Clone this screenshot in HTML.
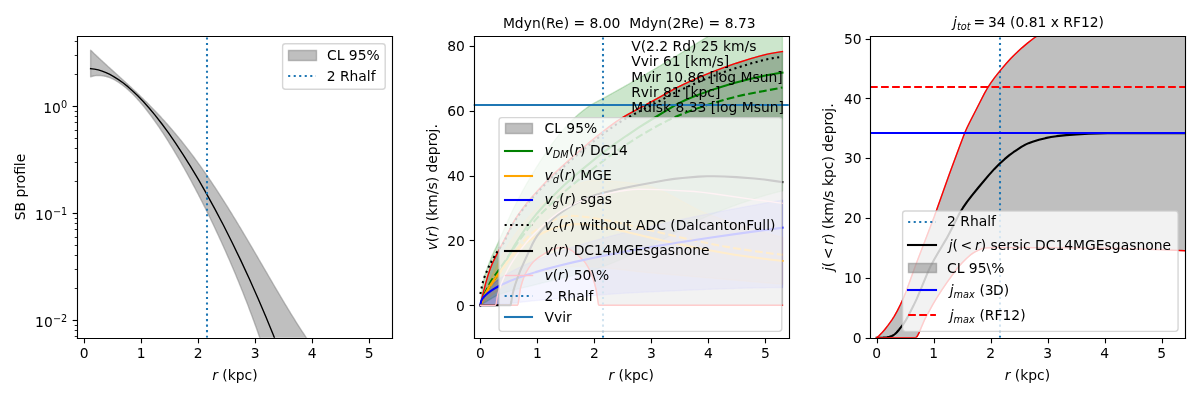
<!DOCTYPE html>
<html lang="en"><head><meta charset="utf-8"><title>SB profile, v(r) and j(&lt;r) figure</title>
<style>
html,body{margin:0;padding:0;background:#fff;}
body{width:1200px;height:400px;overflow:hidden;font-family:"DejaVu Sans","Liberation Sans",sans-serif;}
svg{display:block;will-change:transform;}
svg text{white-space:pre;}
</style>
</head><body>
<svg width="1200" height="400" viewBox="0 0 864 288" role="img" aria-label="SB profile, v(r) and j(r) panels">
<defs>
<style type="text/css">*{stroke-linejoin: round; stroke-linecap: butt}</style>
</defs>
<g id="figure_1">
<g id="patch_1">
<path d="M 0 288 L 864 288 L 864 0 L 0 0 z" style="fill: #ffffff"/>
</g>
<g id="axes_1">
<g id="patch_2">
<path d="M 55.7712 243.1584 L 282.5712 243.1584 L 282.5712 26.1576 L 55.7712 26.1576 z" style="fill: #ffffff"/>
</g>
<g id="FillBetweenPolyCollection_1">
<path d="M 65.2428 36.121689 L 65.2428 55.266722 L 65.935264 55.054046 L 66.627728 54.869644 L 67.320193 54.713119 L 68.012657 54.58408 L 68.705121 54.482139 L 69.397585 54.40691 L 70.090049 54.358013 L 70.782514 54.335072 L 71.474978 54.337711 L 72.167442 54.365563 L 72.859906 54.41826 L 73.552371 54.495441 L 74.244835 54.596746 L 74.937299 54.721822 L 75.629763 54.870317 L 76.322227 55.041883 L 77.014692 55.236177 L 77.707156 55.452859 L 78.39962 55.691592 L 79.092084 55.952044 L 79.784548 56.233887 L 80.477013 56.536794 L 81.169477 56.860445 L 81.861941 57.204522 L 82.554405 57.56871 L 83.24687 57.952701 L 83.939334 58.356186 L 84.631798 58.778863 L 85.324262 59.220433 L 86.016726 59.680601 L 86.709191 60.159075 L 87.401655 60.655566 L 88.094119 61.169791 L 88.786583 61.701469 L 89.479047 62.250324 L 90.171512 62.816081 L 90.863976 63.398472 L 91.55644 63.99723 L 92.248904 64.612095 L 92.941369 65.242807 L 93.633833 65.889112 L 94.326297 66.550759 L 95.018761 67.227501 L 95.711225 67.919095 L 96.40369 68.625301 L 97.096154 69.345882 L 97.788618 70.080607 L 98.481082 70.829247 L 99.173546 71.591577 L 99.866011 72.367377 L 100.558475 73.156427 L 101.250939 73.958516 L 101.943403 74.773432 L 102.635868 75.60097 L 103.328332 76.440927 L 104.020796 77.293104 L 104.71326 78.157306 L 105.405724 79.033341 L 106.098189 79.921022 L 106.790653 80.820165 L 107.483117 81.73059 L 108.175581 82.652119 L 108.868045 83.584581 L 109.56051 84.527805 L 110.252974 85.481627 L 110.945438 86.445885 L 111.637902 87.42042 L 112.330367 88.405079 L 113.022831 89.39971 L 113.715295 90.404168 L 114.407759 91.418309 L 115.100223 92.441993 L 115.792688 93.475084 L 116.485152 94.517452 L 117.177616 95.568967 L 117.87008 96.629504 L 118.562544 97.698944 L 119.255009 98.777168 L 119.947473 99.864064 L 120.639937 100.959521 L 121.332401 102.063434 L 122.024866 103.1757 L 122.71733 104.296221 L 123.409794 105.424902 L 124.102258 106.561652 L 124.794722 107.706383 L 125.487187 108.859011 L 126.179651 110.019457 L 126.872115 111.187644 L 127.564579 112.3635 L 128.257043 113.546956 L 128.949508 114.737946 L 129.641972 115.936409 L 130.334436 117.142288 L 131.0269 118.355529 L 131.719365 119.57608 L 132.411829 120.803896 L 133.104293 122.038934 L 133.796757 123.281154 L 134.489221 124.530522 L 135.181686 125.787004 L 135.87415 127.050574 L 136.566614 128.321207 L 137.259078 129.598883 L 137.951542 130.883584 L 138.644007 132.175297 L 139.336471 133.474014 L 140.028935 134.779728 L 140.721399 136.092437 L 141.413864 137.412142 L 142.106328 138.73885 L 142.798792 140.07257 L 143.491256 141.413314 L 144.18372 142.761099 L 144.876185 144.115944 L 145.568649 145.477875 L 146.261113 146.846919 L 146.953577 148.223107 L 147.646041 149.606474 L 148.338506 150.997059 L 149.03097 152.394906 L 149.723434 153.800058 L 150.415898 155.212568 L 151.108363 156.632489 L 151.800827 158.059878 L 152.493291 159.494795 L 153.185755 160.937307 L 153.878219 162.387481 L 154.570684 163.845391 L 155.263148 165.31111 L 155.955612 166.784721 L 156.648076 168.266305 L 157.34054 169.75595 L 158.033005 171.253747 L 158.725469 172.759791 L 159.417933 174.274179 L 160.110397 175.797014 L 160.802862 177.328401 L 161.495326 178.86845 L 162.18779 180.417273 L 162.880254 181.974988 L 163.572718 183.541716 L 164.265183 185.11758 L 164.957647 186.702708 L 165.650111 188.297233 L 166.342575 189.901289 L 167.035039 191.515015 L 167.727504 193.138555 L 168.419968 194.772055 L 169.112432 196.415666 L 169.804896 198.069541 L 170.497361 199.733837 L 171.189825 201.408717 L 171.882289 203.094345 L 172.574753 204.790891 L 173.267217 206.498526 L 173.959682 208.217428 L 174.652146 209.947775 L 175.34461 211.689753 L 176.037074 213.443547 L 176.729538 215.20935 L 177.422003 216.987355 L 178.114467 218.777763 L 178.806931 220.580774 L 179.499395 222.396595 L 180.19186 224.225435 L 180.884324 226.067508 L 181.576788 227.923032 L 182.269252 229.792226 L 182.961716 231.675316 L 183.654181 233.572529 L 184.346645 235.484098 L 185.039109 237.410258 L 185.731573 239.351248 L 186.424037 241.307313 L 187.116502 243.278698 L 187.808966 245.265654 L 188.50143 247.268436 L 189.193894 249.287301 L 189.886359 251.322511 L 190.578823 253.374331 L 191.271287 255.443031 L 191.963751 257.528883 L 192.656215 259.632165 L 193.34868 261.753155 L 194.041144 263.892138 L 194.733608 266.049402 L 195.426072 268.225239 L 196.118536 270.419942 L 196.811001 272.633812 L 197.503465 274.86715 L 198.195929 277.120264 L 198.888393 279.393462 L 199.580858 281.687058 L 200.273322 284.001371 L 200.965786 286.33672 L 201.65825 288.693431 L 202.350714 291.071833 L 203.043179 293.472257 L 203.735643 295.89504 L 204.428107 298.340521 L 205.120571 300.809043 L 205.813035 303.300955 L 206.5055 305.816605 L 207.197964 308.35635 L 207.890428 310.920548 L 208.582892 313.509559 L 209.275357 316.12375 L 209.967821 318.763491 L 210.660285 321.429154 L 211.352749 324.121116 L 212.045213 326.839759 L 212.737678 329.585465 L 213.430142 332.358623 L 214.122606 335.159624 L 214.81507 337.988865 L 215.507534 340.846744 L 216.199999 343.733664 L 216.892463 346.650031 L 217.584927 349.596256 L 218.277391 352.572752 L 218.969856 355.579938 L 219.66232 358.618234 L 220.354784 361.688067 L 221.047248 364.789864 L 221.739712 367.924058 L 222.432177 371.091085 L 223.124641 374.291386 L 223.817105 377.525403 L 224.509569 380.793586 L 225.202033 384.096383 L 225.894498 387.434251 L 226.586962 390.807647 L 227.279426 394.217035 L 227.97189 397.662879 L 228.664355 401.145651 L 229.356819 404.665822 L 230.049283 408.22387 L 230.741747 411.820276 L 231.434211 415.455525 L 232.126676 419.130104 L 232.81914 422.844506 L 233.511604 426.599227 L 234.204068 430.394765 L 234.896532 434.231623 L 235.588997 438.110309 L 236.281461 442.031334 L 236.973925 445.99521 L 237.666389 450.002457 L 238.358854 454.053596 L 239.051318 458.149152 L 239.743782 462.289655 L 240.436246 466.475636 L 241.12871 470.707634 L 241.821175 474.986187 L 242.513639 479.31184 L 243.206103 483.685141 L 243.898567 488.106641 L 244.591031 492.576894 L 245.283496 497.096461 L 245.97596 501.665902 L 246.668424 506.285786 L 247.360888 510.956681 L 248.053353 515.679161 L 248.745817 520.453803 L 249.438281 525.281189 L 250.130745 530.161904 L 250.823209 535.096535 L 251.515674 540.085676 L 252.208138 545.129921 L 252.900602 550.229872 L 253.593066 555.38613 L 254.28553 560.599304 L 254.977995 565.870004 L 255.670459 571.198844 L 256.362923 576.586443 L 257.055387 582.033423 L 257.747852 587.540409 L 258.440316 593.10803 L 259.13278 598.736921 L 259.825244 604.427717 L 260.517708 610.181059 L 261.210173 615.997591 L 261.902637 621.877962 L 262.595101 627.822823 L 263.287565 633.832829 L 263.980029 639.908639 L 264.672494 646.050916 L 265.364958 652.260327 L 266.057422 658.537542 L 266.749886 664.883235 L 267.442351 671.298083 L 268.134815 677.782768 L 268.827279 684.337975 L 269.519743 690.964393 L 270.212207 697.662714 L 270.904672 704.433634 L 271.597136 711.277853 L 272.2896 718.196076 L 272.2896 278.620225 L 272.2896 278.620225 L 271.597136 278.953659 L 270.904672 279.257205 L 270.212207 279.531224 L 269.519743 279.776077 L 268.827279 279.992122 L 268.134815 280.179715 L 267.442351 280.33921 L 266.749886 280.470961 L 266.057422 280.575317 L 265.364958 280.652628 L 264.672494 280.70324 L 263.980029 280.727499 L 263.287565 280.725749 L 262.595101 280.698329 L 261.902637 280.645581 L 261.210173 280.567841 L 260.517708 280.465446 L 259.825244 280.33873 L 259.13278 280.188024 L 258.440316 280.013659 L 257.747852 279.815963 L 257.055387 279.595263 L 256.362923 279.351884 L 255.670459 279.086148 L 254.977995 278.798377 L 254.28553 278.488889 L 253.593066 278.158002 L 252.900602 277.806031 L 252.208138 277.43329 L 251.515674 277.04009 L 250.823209 276.626741 L 250.130745 276.193551 L 249.438281 275.740826 L 248.745817 275.268871 L 248.053353 274.777988 L 247.360888 274.268478 L 246.668424 273.740638 L 245.97596 273.194766 L 245.283496 272.631157 L 244.591031 272.050104 L 243.898567 271.451898 L 243.206103 270.836828 L 242.513639 270.205183 L 241.821175 269.557247 L 241.12871 268.893305 L 240.436246 268.213638 L 239.743782 267.518527 L 239.051318 266.808249 L 238.358854 266.083081 L 237.666389 265.343298 L 236.973925 264.589172 L 236.281461 263.820974 L 235.588997 263.038974 L 234.896532 262.243437 L 234.204068 261.434629 L 233.511604 260.612814 L 232.81914 259.778253 L 232.126676 258.931205 L 231.434211 258.071929 L 230.741747 257.200681 L 230.049283 256.317713 L 229.356819 255.42328 L 228.664355 254.51763 L 227.97189 253.601013 L 227.279426 252.673675 L 226.586962 251.735861 L 225.894498 250.787813 L 225.202033 249.829773 L 224.509569 248.861981 L 223.817105 247.884672 L 223.124641 246.898083 L 222.432177 245.902448 L 221.739712 244.897998 L 221.047248 243.884962 L 220.354784 242.86357 L 219.66232 241.834047 L 218.969856 240.796618 L 218.277391 239.751504 L 217.584927 238.698927 L 216.892463 237.639106 L 216.199999 236.572256 L 215.507534 235.498594 L 214.81507 234.418332 L 214.122606 233.331682 L 213.430142 232.238853 L 212.737678 231.140053 L 212.045213 230.035487 L 211.352749 228.92536 L 210.660285 227.809873 L 209.967821 226.689226 L 209.275357 225.563618 L 208.582892 224.433246 L 207.890428 223.298303 L 207.197964 222.158983 L 206.5055 221.015476 L 205.813035 219.867971 L 205.120571 218.716656 L 204.428107 217.561716 L 203.735643 216.403334 L 203.043179 215.241692 L 202.350714 214.076969 L 201.65825 212.909344 L 200.965786 211.738991 L 200.273322 210.566087 L 199.580858 209.390802 L 198.888393 208.213307 L 198.195929 207.033771 L 197.503465 205.85236 L 196.811001 204.669239 L 196.118536 203.484572 L 195.426072 202.298519 L 194.733608 201.111239 L 194.041144 199.922891 L 193.34868 198.733629 L 192.656215 197.543607 L 191.963751 196.352977 L 191.271287 195.161889 L 190.578823 193.970491 L 189.886359 192.77893 L 189.193894 191.587349 L 188.50143 190.395891 L 187.808966 189.204698 L 187.116502 188.013907 L 186.424037 186.823656 L 185.731573 185.634079 L 185.039109 184.445311 L 184.346645 183.257482 L 183.654181 182.070722 L 182.961716 180.885158 L 182.269252 179.700917 L 181.576788 178.518122 L 180.884324 177.336896 L 180.19186 176.157358 L 179.499395 174.979627 L 178.806931 173.803819 L 178.114467 172.63005 L 177.422003 171.458432 L 176.729538 170.289076 L 176.037074 169.12209 L 175.34461 167.957583 L 174.652146 166.795659 L 173.959682 165.636422 L 173.267217 164.479974 L 172.574753 163.326414 L 171.882289 162.175841 L 171.189825 161.02835 L 170.497361 159.884035 L 169.804896 158.74299 L 169.112432 157.605303 L 168.419968 156.471065 L 167.727504 155.340362 L 167.035039 154.213279 L 166.342575 153.089898 L 165.650111 151.970301 L 164.957647 150.854568 L 164.265183 149.742775 L 163.572718 148.634999 L 162.880254 147.531312 L 162.18779 146.431788 L 161.495326 145.336496 L 160.802862 144.245504 L 160.110397 143.158879 L 159.417933 142.076685 L 158.725469 140.998984 L 158.033005 139.925838 L 157.34054 138.857305 L 156.648076 137.793442 L 155.955612 136.734305 L 155.263148 135.679946 L 154.570684 134.630418 L 153.878219 133.58577 L 153.185755 132.546049 L 152.493291 131.511301 L 151.800827 130.481571 L 151.108363 129.456901 L 150.415898 128.43733 L 149.723434 127.422898 L 149.03097 126.413641 L 148.338506 125.409593 L 147.646041 124.410788 L 146.953577 123.417256 L 146.261113 122.429027 L 145.568649 121.446128 L 144.876185 120.468584 L 144.18372 119.496419 L 143.491256 118.529654 L 142.798792 117.568311 L 142.106328 116.612405 L 141.413864 115.661954 L 140.721399 114.716973 L 140.028935 113.777472 L 139.336471 112.843463 L 138.644007 111.914955 L 137.951542 110.991954 L 137.259078 110.074466 L 136.566614 109.162493 L 135.87415 108.256037 L 135.181686 107.355096 L 134.489221 106.45967 L 133.796757 105.569753 L 133.104293 104.685339 L 132.411829 103.806421 L 131.719365 102.932988 L 131.0269 102.065028 L 130.334436 101.202528 L 129.641972 100.345473 L 128.949508 99.493845 L 128.257043 98.647625 L 127.564579 97.806791 L 126.872115 96.971322 L 126.179651 96.141192 L 125.487187 95.316375 L 124.794722 94.496842 L 124.102258 93.682562 L 123.409794 92.873505 L 122.71733 92.069635 L 122.024866 91.270916 L 121.332401 90.477312 L 120.639937 89.688782 L 119.947473 88.905284 L 119.255009 88.126776 L 118.562544 87.353212 L 117.87008 86.584546 L 117.177616 85.820728 L 116.485152 85.061707 L 115.792688 84.307431 L 115.100223 83.557845 L 114.407759 82.812893 L 113.715295 82.072517 L 113.022831 81.336657 L 112.330367 80.60525 L 111.637902 79.878234 L 110.945438 79.155541 L 110.252974 78.437106 L 109.56051 77.722857 L 108.868045 77.012725 L 108.175581 76.306636 L 107.483117 75.604516 L 106.790653 74.906286 L 106.098189 74.211869 L 105.405724 73.521185 L 104.71326 72.83415 L 104.020796 72.15068 L 103.328332 71.470691 L 102.635868 70.794092 L 101.943403 70.120795 L 101.250939 69.450709 L 100.558475 68.783738 L 99.866011 68.119789 L 99.173546 67.458763 L 98.481082 66.800563 L 97.788618 66.145086 L 97.096154 65.492229 L 96.40369 64.841889 L 95.711225 64.193959 L 95.018761 63.54833 L 94.326297 62.904892 L 93.633833 62.263533 L 92.941369 61.624138 L 92.248904 60.986593 L 91.55644 60.350779 L 90.863976 59.716577 L 90.171512 59.083865 L 89.479047 58.452521 L 88.786583 57.822418 L 88.094119 57.193431 L 87.401655 56.565429 L 86.709191 55.938283 L 86.016726 55.31186 L 85.324262 54.686025 L 84.631798 54.060642 L 83.939334 53.435574 L 83.24687 52.810679 L 82.554405 52.185816 L 81.861941 51.560842 L 81.169477 50.935611 L 80.477013 50.309975 L 79.784548 49.683785 L 79.092084 49.05689 L 78.39962 48.429137 L 77.707156 47.800371 L 77.014692 47.170436 L 76.322227 46.539172 L 75.629763 45.906419 L 74.937299 45.272015 L 74.244835 44.635797 L 73.552371 43.997597 L 72.859906 43.357247 L 72.167442 42.714579 L 71.474978 42.069421 L 70.782514 41.421598 L 70.090049 40.770937 L 69.397585 40.117259 L 68.705121 39.460385 L 68.012657 38.800135 L 67.320193 38.136326 L 66.627728 37.468773 L 65.935264 36.797291 L 65.2428 36.121689 z" clip-path="url(#p1a67daafeb)" style="fill: #808080; fill-opacity: 0.5; stroke: #808080; stroke-opacity: 0.5"/>
</g>
<g id="matplotlib.axis_1">
<g id="xtick_1">
<g id="line2d_1">
<g>
<path class="tk" d="M 60.84 243.72 L 60.84 247.22" style="stroke: #000000; stroke-width: 0.8"/>
</g>
</g>
<g id="text_1">
<text xml:space="preserve" style="font-size: 10px; font-family: 'DejaVu Sans', 'Liberation Sans', sans-serif; text-anchor: middle" x="60.5232" y="257.756838">0</text>
</g>
</g>
<g id="xtick_2">
<g id="line2d_2">
<g>
<path class="tk" d="M 101.88 243.72 L 101.88 247.22" style="stroke: #000000; stroke-width: 0.8"/>
</g>
</g>
<g id="text_2">
<text xml:space="preserve" style="font-size: 10px; font-family: 'DejaVu Sans', 'Liberation Sans', sans-serif; text-anchor: middle" x="101.5632" y="257.756838">1</text>
</g>
</g>
<g id="xtick_3">
<g id="line2d_3">
<g>
<path class="tk" d="M 142.92 243.72 L 142.92 247.22" style="stroke: #000000; stroke-width: 0.8"/>
</g>
</g>
<g id="text_3">
<text xml:space="preserve" style="font-size: 10px; font-family: 'DejaVu Sans', 'Liberation Sans', sans-serif; text-anchor: middle" x="142.6032" y="257.756838">2</text>
</g>
</g>
<g id="xtick_4">
<g id="line2d_4">
<g>
<path class="tk" d="M 183.96 243.72 L 183.96 247.22" style="stroke: #000000; stroke-width: 0.8"/>
</g>
</g>
<g id="text_4">
<text xml:space="preserve" style="font-size: 10px; font-family: 'DejaVu Sans', 'Liberation Sans', sans-serif; text-anchor: middle" x="183.6432" y="257.756838">3</text>
</g>
</g>
<g id="xtick_5">
<g id="line2d_5">
<g>
<path class="tk" d="M 225 243.72 L 225 247.22" style="stroke: #000000; stroke-width: 0.8"/>
</g>
</g>
<g id="text_5">
<text xml:space="preserve" style="font-size: 10px; font-family: 'DejaVu Sans', 'Liberation Sans', sans-serif; text-anchor: middle" x="224.6832" y="257.756838">4</text>
</g>
</g>
<g id="xtick_6">
<g id="line2d_6">
<g>
<path class="tk" d="M 266.04 243.72 L 266.04 247.22" style="stroke: #000000; stroke-width: 0.8"/>
</g>
</g>
<g id="text_6">
<text xml:space="preserve" style="font-size: 10px; font-family: 'DejaVu Sans', 'Liberation Sans', sans-serif; text-anchor: middle" x="265.7232" y="257.756838">5</text>
</g>
</g>
<g id="text_7">
<g transform="translate(152.7712 274.096525)">
<text xml:space="preserve"><tspan x="0" y="-0.406" style="font-style: oblique; font-size: 10px; font-family: 'DejaVu Sans', 'Liberation Sans', sans-serif">r</tspan><tspan x="4.111" y="-0.406" style="font-size: 10px; font-family: 'DejaVu Sans', 'Liberation Sans', sans-serif"> (kpc)</tspan></text>
</g>
</g>
</g>
<g id="matplotlib.axis_2">
<g id="ytick_1">
<g id="line2d_7">
<g>
<path class="tk" d="M 55.8 230.76 L 52.3 230.76" style="stroke: #000000; stroke-width: 0.8"/>
</g>
</g>
<g id="text_8">
<g transform="translate(25.271 236.315)">
<text xml:space="preserve"><tspan x="0" y="-0.977" style="font-size: 10px; font-family: 'DejaVu Sans', 'Liberation Sans', sans-serif">10</tspan><tspan x="12.82" y="-4.805" style="font-size: 7px; font-family: 'DejaVu Sans', 'Liberation Sans', sans-serif">−2</tspan></text>
</g>
</g>
</g>
<g id="ytick_2">
<g id="line2d_8">
<g>
<path class="tk" d="M 55.8 153.72 L 52.3 153.72" style="stroke: #000000; stroke-width: 0.8"/>
</g>
</g>
<g id="text_9">
<g transform="translate(25.271 158.362)">
<text xml:space="preserve"><tspan x="0" y="-0.064" style="font-size: 10px; font-family: 'DejaVu Sans', 'Liberation Sans', sans-serif">10</tspan><tspan x="12.82" y="-3.892" style="font-size: 7px; font-family: 'DejaVu Sans', 'Liberation Sans', sans-serif">−1</tspan></text>
</g>
</g>
</g>
<g id="ytick_3">
<g id="line2d_9">
<g>
<path class="tk" d="M 55.8 76.68 L 52.3 76.68" style="stroke: #000000; stroke-width: 0.8"/>
</g>
</g>
<g id="text_10">
<g transform="translate(31.171 82.235)">
<text xml:space="preserve"><tspan x="0" y="-0.977" style="font-size: 10px; font-family: 'DejaVu Sans', 'Liberation Sans', sans-serif">10</tspan><tspan x="12.82" y="-4.805" style="font-size: 7px; font-family: 'DejaVu Sans', 'Liberation Sans', sans-serif">0</tspan></text>
</g>
</g>
</g>
<g id="ytick_4">
<g id="line2d_10">
<g>
<path class="tk" d="M 55.8 242.28 L 53.8 242.28" style="stroke: #000000; stroke-width: 0.6"/>
</g>
</g>
</g>
<g id="ytick_5">
<g id="line2d_11">
<g>
<path class="tk" d="M 55.8 237.96 L 53.8 237.96" style="stroke: #000000; stroke-width: 0.6"/>
</g>
</g>
</g>
<g id="ytick_6">
<g id="line2d_12">
<g>
<path class="tk" d="M 55.8 234.36 L 53.8 234.36" style="stroke: #000000; stroke-width: 0.6"/>
</g>
</g>
</g>
<g id="ytick_7">
<g id="line2d_13">
<g>
<path class="tk" d="M 55.8 207.72 L 53.8 207.72" style="stroke: #000000; stroke-width: 0.6"/>
</g>
</g>
</g>
<g id="ytick_8">
<g id="line2d_14">
<g>
<path class="tk" d="M 55.8 194.04 L 53.8 194.04" style="stroke: #000000; stroke-width: 0.6"/>
</g>
</g>
</g>
<g id="ytick_9">
<g id="line2d_15">
<g>
<path class="tk" d="M 55.8 183.96 L 53.8 183.96" style="stroke: #000000; stroke-width: 0.6"/>
</g>
</g>
</g>
<g id="ytick_10">
<g id="line2d_16">
<g>
<path class="tk" d="M 55.8 176.76 L 53.8 176.76" style="stroke: #000000; stroke-width: 0.6"/>
</g>
</g>
</g>
<g id="ytick_11">
<g id="line2d_17">
<g>
<path class="tk" d="M 55.8 171 L 53.8 171" style="stroke: #000000; stroke-width: 0.6"/>
</g>
</g>
</g>
<g id="ytick_12">
<g id="line2d_18">
<g>
<path class="tk" d="M 55.8 165.24 L 53.8 165.24" style="stroke: #000000; stroke-width: 0.6"/>
</g>
</g>
</g>
<g id="ytick_13">
<g id="line2d_19">
<g>
<path class="tk" d="M 55.8 160.92 L 53.8 160.92" style="stroke: #000000; stroke-width: 0.6"/>
</g>
</g>
</g>
<g id="ytick_14">
<g id="line2d_20">
<g>
<path class="tk" d="M 55.8 157.32 L 53.8 157.32" style="stroke: #000000; stroke-width: 0.6"/>
</g>
</g>
</g>
<g id="ytick_15">
<g id="line2d_21">
<g>
<path class="tk" d="M 55.8 130.68 L 53.8 130.68" style="stroke: #000000; stroke-width: 0.6"/>
</g>
</g>
</g>
<g id="ytick_16">
<g id="line2d_22">
<g>
<path class="tk" d="M 55.8 117 L 53.8 117" style="stroke: #000000; stroke-width: 0.6"/>
</g>
</g>
</g>
<g id="ytick_17">
<g id="line2d_23">
<g>
<path class="tk" d="M 55.8 106.92 L 53.8 106.92" style="stroke: #000000; stroke-width: 0.6"/>
</g>
</g>
</g>
<g id="ytick_18">
<g id="line2d_24">
<g>
<path class="tk" d="M 55.8 99.72 L 53.8 99.72" style="stroke: #000000; stroke-width: 0.6"/>
</g>
</g>
</g>
<g id="ytick_19">
<g id="line2d_25">
<g>
<path class="tk" d="M 55.8 93.96 L 53.8 93.96" style="stroke: #000000; stroke-width: 0.6"/>
</g>
</g>
</g>
<g id="ytick_20">
<g id="line2d_26">
<g>
<path class="tk" d="M 55.8 88.2 L 53.8 88.2" style="stroke: #000000; stroke-width: 0.6"/>
</g>
</g>
</g>
<g id="ytick_21">
<g id="line2d_27">
<g>
<path class="tk" d="M 55.8 83.88 L 53.8 83.88" style="stroke: #000000; stroke-width: 0.6"/>
</g>
</g>
</g>
<g id="ytick_22">
<g id="line2d_28">
<g>
<path class="tk" d="M 55.8 80.28 L 53.8 80.28" style="stroke: #000000; stroke-width: 0.6"/>
</g>
</g>
</g>
<g id="ytick_23">
<g id="line2d_29">
<g>
<path class="tk" d="M 55.8 53.64 L 53.8 53.64" style="stroke: #000000; stroke-width: 0.6"/>
</g>
</g>
</g>
<g id="ytick_24">
<g id="line2d_30">
<g>
<path class="tk" d="M 55.8 39.96 L 53.8 39.96" style="stroke: #000000; stroke-width: 0.6"/>
</g>
</g>
</g>
<g id="ytick_25">
<g id="line2d_31">
<g>
<path class="tk" d="M 55.8 29.88 L 53.8 29.88" style="stroke: #000000; stroke-width: 0.6"/>
</g>
</g>
</g>
<g id="text_11">
<text xml:space="preserve" style="font-size: 10px; font-family: 'DejaVu Sans', 'Liberation Sans', sans-serif; text-anchor: middle" x="18.041512" y="134.658" transform="rotate(-90 18.041512 134.658)">SB profile</text>
</g>
</g>
<g id="line2d_32">
<path d="M 65.2428 49.368839 L 68.012657 49.732887 L 70.782514 50.346701 L 73.552371 51.200741 L 76.322227 52.285781 L 79.092084 53.592911 L 81.861941 55.113531 L 85.324262 57.301941 L 88.786583 59.795522 L 92.248904 62.579556 L 95.711225 65.640089 L 99.173546 68.963933 L 103.328332 73.282684 L 107.483117 77.942756 L 111.637902 82.925738 L 116.485152 89.124983 L 121.332401 95.716936 L 126.179651 102.680565 L 131.719365 111.071051 L 137.259078 119.901191 L 142.798792 129.153732 L 148.338506 138.816448 L 154.570684 150.168521 L 160.802862 162.028104 L 167.035039 174.400603 L 173.267217 187.299476 L 179.499395 200.746234 L 185.731573 214.770439 L 191.271287 227.751397 L 196.811001 241.249977 L 202.350714 255.302967 L 207.890428 269.952178 L 213.430142 285.24445 L 214.753928 289 L 214.753928 289" clip-path="url(#p1a67daafeb)" style="fill: none; stroke: #000000; stroke-linecap: square"/>
</g>
<g id="line2d_33">
<path d="M 149.04 243.158 L 149.04 26.158" clip-path="url(#p1a67daafeb)" style="fill: none; stroke-dasharray: 1.5,2.475; stroke-dashoffset: 0; stroke: #1f77b4; stroke-width: 1.5"/>
</g>
<g id="patch_3">
<path d="M 55.8 243.72 L 55.8 26.28" style="fill: none; stroke: #000000; stroke-width: 0.8; stroke-linejoin: miter; stroke-linecap: square"/>
</g>
<g id="patch_4">
<path d="M 282.6 243.72 L 282.6 26.28" style="fill: none; stroke: #000000; stroke-width: 0.8; stroke-linejoin: miter; stroke-linecap: square"/>
</g>
<g id="patch_5">
<path d="M 55.8 243.72 L 282.6 243.72" style="fill: none; stroke: #000000; stroke-width: 0.8; stroke-linejoin: miter; stroke-linecap: square"/>
</g>
<g id="patch_6">
<path d="M 55.8 26.28 L 282.6 26.28" style="fill: none; stroke: #000000; stroke-width: 0.8; stroke-linejoin: miter; stroke-linecap: square"/>
</g>
</g>
<g id="axes_2">
<g id="patch_7">
<path d="M 341.0856 243.1584 L 567.8856 243.1584 L 567.8856 26.1576 L 341.0856 26.1576 z" style="fill: #ffffff"/>
</g>
<g id="FillBetweenPolyCollection_2">
<g clip-path="url(#peedf209786)">
<path d="M 345.8376 -68.175019 L 345.8376 -68.175019 L 346.382743 -68.175019 L 346.927886 -68.175019 L 347.473029 -68.175019 L 348.018171 -68.175019 L 348.563314 -68.175019 L 349.108457 -68.175019 L 349.6536 -68.175019 L 350.198743 -68.175019 L 350.743886 -68.175019 L 351.289029 -68.175019 L 351.834171 -68.175019 L 352.379314 -68.175019 L 352.924457 -68.175019 L 353.4696 -68.175019 L 354.014743 -68.175019 L 354.559886 -68.175019 L 355.105029 -68.175019 L 355.650171 -68.175019 L 356.195314 -68.175019 L 356.740457 -68.175019 L 357.2856 -68.175019 L 357.830743 -68.175019 L 358.375886 -68.175019 L 358.921029 -68.175019 L 359.466171 -68.175019 L 360.011314 -68.175019 L 360.556457 -68.175019 L 361.1016 -68.175019 L 361.646743 -68.175019 L 362.191886 -68.175019 L 362.737029 -68.175019 L 363.282171 -68.175019 L 363.827314 -68.175019 L 364.372457 -68.175019 L 364.9176 -68.175019 L 365.462743 -68.175019 L 366.007886 -68.175019 L 366.553029 -68.175019 L 367.098171 -68.175019 L 367.643314 -68.175019 L 368.188457 -68.175019 L 368.7336 -68.175019 L 369.278743 -68.175019 L 369.823886 -68.175019 L 370.369029 -68.175019 L 370.914171 -68.175019 L 371.459314 -68.175019 L 372.004457 -68.175019 L 372.5496 -68.175019 L 373.094743 -69.340161 L 373.639886 -73.202151 L 374.185029 -77.62681 L 374.730171 -80.500089 L 375.275314 -82.556124 L 375.820457 -84.429186 L 376.3656 -86.130643 L 376.910743 -87.671863 L 377.455886 -89.064213 L 378.001029 -90.319063 L 378.546171 -91.447779 L 379.091314 -92.461743 L 379.636457 -93.402792 L 380.1816 -94.302658 L 380.726743 -95.161373 L 381.271886 -95.978969 L 381.817029 -96.755478 L 382.362171 -97.490931 L 382.907314 -98.185361 L 383.452457 -98.838798 L 383.9976 -99.451275 L 384.542743 -100.022824 L 385.087886 -100.553476 L 385.633029 -101.043262 L 386.178171 -101.492215 L 386.723314 -101.900366 L 387.268457 -102.277661 L 387.8136 -102.650951 L 388.358743 -103.021227 L 388.903886 -103.387926 L 389.449029 -103.750486 L 389.994171 -104.108346 L 390.539314 -104.460944 L 391.084457 -104.807716 L 391.6296 -105.148103 L 392.174743 -105.48154 L 392.719886 -105.807467 L 393.265029 -106.125321 L 393.810171 -106.434541 L 394.355314 -106.734564 L 394.900457 -107.024828 L 395.4456 -107.304771 L 395.990743 -107.573832 L 396.535886 -107.831448 L 397.081029 -108.077056 L 397.626171 -108.310096 L 398.171314 -108.530006 L 398.716457 -108.736222 L 399.2616 -108.928183 L 399.806743 -109.105328 L 400.351886 -109.267093 L 400.897029 -109.412917 L 401.442171 -109.542239 L 401.987314 -109.654495 L 402.532457 -109.749124 L 403.0776 -109.825564 L 403.622743 -109.883253 L 404.167886 -109.921629 L 404.713029 -109.94013 L 405.258171 -109.935549 L 405.803314 -109.896916 L 406.348457 -109.824182 L 406.8936 -109.718601 L 407.438743 -109.581424 L 407.983886 -109.413905 L 408.529029 -109.217297 L 409.074171 -108.992851 L 409.619314 -108.741821 L 410.164457 -108.46546 L 410.7096 -108.16502 L 411.254743 -107.841753 L 411.799886 -107.496914 L 412.345029 -107.131753 L 412.890171 -106.747525 L 413.435314 -106.345482 L 413.980457 -105.926876 L 414.5256 -105.49296 L 415.070743 -105.044988 L 415.615886 -104.584211 L 416.161029 -104.111882 L 416.706171 -103.629255 L 417.251314 -103.137582 L 417.796457 -102.638115 L 418.3416 -102.132108 L 418.886743 -101.620812 L 419.431886 -101.105482 L 419.977029 -100.578127 L 420.522171 -99.983043 L 421.067314 -99.313171 L 421.612457 -98.571492 L 422.1576 -97.760989 L 422.702743 -96.884643 L 423.247886 -95.945436 L 423.793029 -94.94635 L 424.338171 -93.890367 L 424.883314 -92.780469 L 425.428457 -91.600542 L 425.9736 -90.294844 L 426.518743 -88.854645 L 427.063886 -87.274476 L 427.609029 -85.548863 L 428.154171 -83.672337 L 428.699314 -81.639426 L 429.244457 -79.409455 L 429.7896 -75.889218 L 430.334743 -71.78415 L 430.879886 -68.767194 L 431.425029 -68.175019 L 431.970171 -68.175019 L 432.515314 -68.175019 L 433.060457 -68.175019 L 433.6056 -68.175019 L 434.150743 -68.175019 L 434.695886 -68.175019 L 435.241029 -68.175019 L 435.786171 -68.175019 L 436.331314 -68.175019 L 436.876457 -68.175019 L 437.4216 -68.175019 L 437.966743 -68.175019 L 438.511886 -68.175019 L 439.057029 -68.175019 L 439.602171 -68.175019 L 440.147314 -68.175019 L 440.692457 -68.175019 L 441.2376 -68.175019 L 441.782743 -68.175019 L 442.327886 -68.175019 L 442.873029 -68.175019 L 443.418171 -68.175019 L 443.963314 -68.175019 L 444.508457 -68.175019 L 445.0536 -68.175019 L 445.598743 -68.175019 L 446.143886 -68.175019 L 446.689029 -68.175019 L 447.234171 -68.175019 L 447.779314 -68.175019 L 448.324457 -68.175019 L 448.8696 -68.175019 L 449.414743 -68.175019 L 449.959886 -68.175019 L 450.505029 -68.175019 L 451.050171 -68.175019 L 451.595314 -68.175019 L 452.140457 -68.175019 L 452.6856 -68.175019 L 453.230743 -68.175019 L 453.775886 -68.175019 L 454.321029 -68.175019 L 454.866171 -68.175019 L 455.411314 -68.175019 L 455.956457 -68.175019 L 456.5016 -68.175019 L 457.046743 -68.175019 L 457.591886 -68.175019 L 458.137029 -68.175019 L 458.682171 -68.175019 L 459.227314 -68.175019 L 459.772457 -68.175019 L 460.3176 -68.175019 L 460.862743 -68.175019 L 461.407886 -68.175019 L 461.953029 -68.175019 L 462.498171 -68.175019 L 463.043314 -68.175019 L 463.588457 -68.175019 L 464.1336 -68.175019 L 464.678743 -68.175019 L 465.223886 -68.175019 L 465.769029 -68.175019 L 466.314171 -68.175019 L 466.859314 -68.175019 L 467.404457 -68.175019 L 467.9496 -68.175019 L 468.494743 -68.175019 L 469.039886 -68.175019 L 469.585029 -68.175019 L 470.130171 -68.175019 L 470.675314 -68.175019 L 471.220457 -68.175019 L 471.7656 -68.175019 L 472.310743 -68.175019 L 472.855886 -68.175019 L 473.401029 -68.175019 L 473.946171 -68.175019 L 474.491314 -68.175019 L 475.036457 -68.175019 L 475.5816 -68.175019 L 476.126743 -68.175019 L 476.671886 -68.175019 L 477.217029 -68.175019 L 477.762171 -68.175019 L 478.307314 -68.175019 L 478.852457 -68.175019 L 479.3976 -68.175019 L 479.942743 -68.175019 L 480.487886 -68.175019 L 481.033029 -68.175019 L 481.578171 -68.175019 L 482.123314 -68.175019 L 482.668457 -68.175019 L 483.2136 -68.175019 L 483.758743 -68.175019 L 484.303886 -68.175019 L 484.849029 -68.175019 L 485.394171 -68.175019 L 485.939314 -68.175019 L 486.484457 -68.175019 L 487.0296 -68.175019 L 487.574743 -68.175019 L 488.119886 -68.175019 L 488.665029 -68.175019 L 489.210171 -68.175019 L 489.755314 -68.175019 L 490.300457 -68.175019 L 490.8456 -68.175019 L 491.390743 -68.175019 L 491.935886 -68.175019 L 492.481029 -68.175019 L 493.026171 -68.175019 L 493.571314 -68.175019 L 494.116457 -68.175019 L 494.6616 -68.175019 L 495.206743 -68.175019 L 495.751886 -68.175019 L 496.297029 -68.175019 L 496.842171 -68.175019 L 497.387314 -68.175019 L 497.932457 -68.175019 L 498.4776 -68.175019 L 499.022743 -68.175019 L 499.567886 -68.175019 L 500.113029 -68.175019 L 500.658171 -68.175019 L 501.203314 -68.175019 L 501.748457 -68.175019 L 502.2936 -68.175019 L 502.838743 -68.175019 L 503.383886 -68.175019 L 503.929029 -68.175019 L 504.474171 -68.175019 L 505.019314 -68.175019 L 505.564457 -68.175019 L 506.1096 -68.175019 L 506.654743 -68.175019 L 507.199886 -68.175019 L 507.745029 -68.175019 L 508.290171 -68.175019 L 508.835314 -68.175019 L 509.380457 -68.175019 L 509.9256 -68.175019 L 510.470743 -68.175019 L 511.015886 -68.175019 L 511.561029 -68.175019 L 512.106171 -68.175019 L 512.651314 -68.175019 L 513.196457 -68.175019 L 513.7416 -68.175019 L 514.286743 -68.175019 L 514.831886 -68.175019 L 515.377029 -68.175019 L 515.922171 -68.175019 L 516.467314 -68.175019 L 517.012457 -68.175019 L 517.5576 -68.175019 L 518.102743 -68.175019 L 518.647886 -68.175019 L 519.193029 -68.175019 L 519.738171 -68.175019 L 520.283314 -68.175019 L 520.828457 -68.175019 L 521.3736 -68.175019 L 521.918743 -68.175019 L 522.463886 -68.175019 L 523.009029 -68.175019 L 523.554171 -68.175019 L 524.099314 -68.175019 L 524.644457 -68.175019 L 525.1896 -68.175019 L 525.734743 -68.175019 L 526.279886 -68.175019 L 526.825029 -68.175019 L 527.370171 -68.175019 L 527.915314 -68.175019 L 528.460457 -68.175019 L 529.0056 -68.175019 L 529.550743 -68.175019 L 530.095886 -68.175019 L 530.641029 -68.175019 L 531.186171 -68.175019 L 531.731314 -68.175019 L 532.276457 -68.175019 L 532.8216 -68.175019 L 533.366743 -68.175019 L 533.911886 -68.175019 L 534.457029 -68.175019 L 535.002171 -68.175019 L 535.547314 -68.175019 L 536.092457 -68.175019 L 536.6376 -68.175019 L 537.182743 -68.175019 L 537.727886 -68.175019 L 538.273029 -68.175019 L 538.818171 -68.175019 L 539.363314 -68.175019 L 539.908457 -68.175019 L 540.4536 -68.175019 L 540.998743 -68.175019 L 541.543886 -68.175019 L 542.089029 -68.175019 L 542.634171 -68.175019 L 543.179314 -68.175019 L 543.724457 -68.175019 L 544.2696 -68.175019 L 544.814743 -68.175019 L 545.359886 -68.175019 L 545.905029 -68.175019 L 546.450171 -68.175019 L 546.995314 -68.175019 L 547.540457 -68.175019 L 548.0856 -68.175019 L 548.630743 -68.175019 L 549.175886 -68.175019 L 549.721029 -68.175019 L 550.266171 -68.175019 L 550.811314 -68.175019 L 551.356457 -68.175019 L 551.9016 -68.175019 L 552.446743 -68.175019 L 552.991886 -68.175019 L 553.537029 -68.175019 L 554.082171 -68.175019 L 554.627314 -68.175019 L 555.172457 -68.175019 L 555.7176 -68.175019 L 556.262743 -68.175019 L 556.807886 -68.175019 L 557.353029 -68.175019 L 557.898171 -68.175019 L 558.443314 -68.175019 L 558.988457 -68.175019 L 559.5336 -68.175019 L 560.078743 -68.175019 L 560.623886 -68.175019 L 561.169029 -68.175019 L 561.714171 -68.175019 L 562.259314 -68.175019 L 562.804457 -68.175019 L 563.3496 -68.175019 L 563.3496 -250.875693 L 563.3496 -250.875693 L 562.804457 -250.80409 L 562.259314 -250.730336 L 561.714171 -250.654401 L 561.169029 -250.576254 L 560.623886 -250.495866 L 560.078743 -250.413207 L 559.5336 -250.328246 L 558.988457 -250.240954 L 558.443314 -250.151301 L 557.898171 -250.059257 L 557.353029 -249.964791 L 556.807886 -249.867874 L 556.262743 -249.768475 L 555.7176 -249.666566 L 555.172457 -249.562115 L 554.627314 -249.455077 L 554.082171 -249.34487 L 553.537029 -249.231285 L 552.991886 -249.114418 L 552.446743 -248.994365 L 551.9016 -248.871222 L 551.356457 -248.745084 L 550.811314 -248.616047 L 550.266171 -248.484209 L 549.721029 -248.349663 L 549.175886 -248.212507 L 548.630743 -248.072835 L 548.0856 -247.930745 L 547.540457 -247.786331 L 546.995314 -247.63969 L 546.450171 -247.490918 L 545.905029 -247.34011 L 545.359886 -247.187363 L 544.814743 -247.032772 L 544.2696 -246.876433 L 543.724457 -246.718442 L 543.179314 -246.558895 L 542.634171 -246.397887 L 542.089029 -246.235516 L 541.543886 -246.071876 L 540.998743 -245.907063 L 540.4536 -245.741174 L 539.908457 -245.574304 L 539.363314 -245.40655 L 538.818171 -245.238006 L 538.273029 -245.068769 L 537.727886 -244.898935 L 537.182743 -244.7286 L 536.6376 -244.557859 L 536.092457 -244.386809 L 535.547314 -244.215545 L 535.002171 -244.044163 L 534.457029 -243.872759 L 533.911886 -243.70143 L 533.366743 -243.53027 L 532.8216 -243.359304 L 532.276457 -243.187401 L 531.731314 -243.01415 L 531.186171 -242.839562 L 530.641029 -242.66365 L 530.095886 -242.486423 L 529.550743 -242.307894 L 529.0056 -242.128074 L 528.460457 -241.946973 L 527.915314 -241.764603 L 527.370171 -241.580976 L 526.825029 -241.396102 L 526.279886 -241.209992 L 525.734743 -241.022659 L 525.1896 -240.834114 L 524.644457 -240.644366 L 524.099314 -240.453429 L 523.554171 -240.261313 L 523.009029 -240.068028 L 522.463886 -239.873588 L 521.918743 -239.678002 L 521.3736 -239.481283 L 520.828457 -239.28344 L 520.283314 -239.084486 L 519.738171 -238.884432 L 519.193029 -238.683289 L 518.647886 -238.481069 L 518.102743 -238.277782 L 517.5576 -238.07344 L 517.012457 -237.868053 L 516.467314 -237.661635 L 515.922171 -237.454194 L 515.377029 -237.245744 L 514.831886 -237.036294 L 514.286743 -236.825857 L 513.7416 -236.614444 L 513.196457 -236.402065 L 512.651314 -236.188732 L 512.106171 -235.974457 L 511.561029 -235.75925 L 511.015886 -235.542988 L 510.470743 -235.325364 L 509.9256 -235.106371 L 509.380457 -234.886012 L 508.835314 -234.664292 L 508.290171 -234.441214 L 507.745029 -234.216783 L 507.199886 -233.991002 L 506.654743 -233.763875 L 506.1096 -233.535406 L 505.564457 -233.3056 L 505.019314 -233.07446 L 504.474171 -232.84199 L 503.929029 -232.608195 L 503.383886 -232.373078 L 502.838743 -232.136643 L 502.2936 -231.898894 L 501.748457 -231.659835 L 501.203314 -231.41947 L 500.658171 -231.177804 L 500.113029 -230.934839 L 499.567886 -230.690581 L 499.022743 -230.445033 L 498.4776 -230.198198 L 497.932457 -229.950082 L 497.387314 -229.700688 L 496.842171 -229.450019 L 496.297029 -229.198081 L 495.751886 -228.944876 L 495.206743 -228.690409 L 494.6616 -228.434684 L 494.116457 -228.177705 L 493.571314 -227.919476 L 493.026171 -227.660001 L 492.481029 -227.399283 L 491.935886 -227.137327 L 491.390743 -226.874137 L 490.8456 -226.609717 L 490.300457 -226.34407 L 489.755314 -226.077148 L 489.210171 -225.807749 L 488.665029 -225.535459 L 488.119886 -225.260388 L 487.574743 -224.982647 L 487.0296 -224.702347 L 486.484457 -224.419598 L 485.939314 -224.134511 L 485.394171 -223.847197 L 484.849029 -223.557766 L 484.303886 -223.266329 L 483.758743 -222.972996 L 483.2136 -222.677879 L 482.668457 -222.381088 L 482.123314 -222.082733 L 481.578171 -221.782926 L 481.033029 -221.481776 L 480.487886 -221.179396 L 479.942743 -220.875894 L 479.3976 -220.571382 L 478.852457 -220.265972 L 478.307314 -219.959772 L 477.762171 -219.652894 L 477.217029 -219.345449 L 476.671886 -219.037547 L 476.126743 -218.729299 L 475.5816 -218.420816 L 475.036457 -218.112208 L 474.491314 -217.803586 L 473.946171 -217.49506 L 473.401029 -217.186742 L 472.855886 -216.878742 L 472.310743 -216.57117 L 471.7656 -216.264138 L 471.220457 -215.957755 L 470.675314 -215.652133 L 470.130171 -215.347383 L 469.585029 -215.043614 L 469.039886 -214.740938 L 468.494743 -214.439465 L 467.9496 -214.139349 L 467.404457 -213.841143 L 466.859314 -213.544854 L 466.314171 -213.250313 L 465.769029 -212.957349 L 465.223886 -212.665794 L 464.678743 -212.375476 L 464.1336 -212.086227 L 463.588457 -211.797877 L 463.043314 -211.510256 L 462.498171 -211.223194 L 461.953029 -210.936521 L 461.407886 -210.650068 L 460.862743 -210.363665 L 460.3176 -210.077142 L 459.772457 -209.790329 L 459.227314 -209.503057 L 458.682171 -209.215156 L 458.137029 -208.926457 L 457.591886 -208.636788 L 457.046743 -208.345982 L 456.5016 -208.053867 L 455.956457 -207.760274 L 455.411314 -207.465034 L 454.866171 -207.167976 L 454.321029 -206.868932 L 453.775886 -206.56773 L 453.230743 -206.264202 L 452.6856 -205.958178 L 452.140457 -205.649487 L 451.595314 -205.337961 L 451.050171 -205.023429 L 450.505029 -204.705721 L 449.959886 -204.384669 L 449.414743 -204.060101 L 448.8696 -203.731849 L 448.324457 -203.399743 L 447.779314 -203.063613 L 447.234171 -202.723288 L 446.689029 -202.3786 L 446.143886 -202.029098 L 445.598743 -201.674399 L 445.0536 -201.314665 L 444.508457 -200.950063 L 443.963314 -200.580761 L 443.418171 -200.206926 L 442.873029 -199.828725 L 442.327886 -199.446326 L 441.782743 -199.059895 L 441.2376 -198.669601 L 440.692457 -198.275609 L 440.147314 -197.878089 L 439.602171 -197.477206 L 439.057029 -197.073129 L 438.511886 -196.666023 L 437.966743 -196.256058 L 437.4216 -195.843399 L 436.876457 -195.428215 L 436.331314 -195.010671 L 435.786171 -194.590937 L 435.241029 -194.169179 L 434.695886 -193.745564 L 434.150743 -193.320259 L 433.6056 -192.893432 L 433.060457 -192.46525 L 432.515314 -192.035881 L 431.970171 -191.605491 L 431.425029 -191.174248 L 430.879886 -190.742319 L 430.334743 -190.309871 L 429.7896 -189.877072 L 429.244457 -189.444089 L 428.699314 -189.011083 L 428.154171 -188.576732 L 427.609029 -188.139986 L 427.063886 -187.700893 L 426.518743 -187.259498 L 425.9736 -186.815849 L 425.428457 -186.369991 L 424.883314 -185.921973 L 424.338171 -185.47184 L 423.793029 -185.019639 L 423.247886 -184.565418 L 422.702743 -184.109221 L 422.1576 -183.651097 L 421.612457 -183.191092 L 421.067314 -182.729253 L 420.522171 -182.265626 L 419.977029 -181.800258 L 419.431886 -181.333195 L 418.886743 -180.864485 L 418.3416 -180.394175 L 417.796457 -179.922309 L 417.251314 -179.448937 L 416.706171 -178.974103 L 416.161029 -178.497856 L 415.615886 -178.020241 L 415.070743 -177.541305 L 414.5256 -177.061095 L 413.980457 -176.579657 L 413.435314 -176.097039 L 412.890171 -175.613287 L 412.345029 -175.128448 L 411.799886 -174.642567 L 411.254743 -174.155693 L 410.7096 -173.667872 L 410.164457 -173.179849 L 409.619314 -172.692368 L 409.074171 -172.205222 L 408.529029 -171.718203 L 407.983886 -171.2311 L 407.438743 -170.743707 L 406.8936 -170.255813 L 406.348457 -169.767211 L 405.803314 -169.277691 L 405.258171 -168.787045 L 404.713029 -168.295064 L 404.167886 -167.801539 L 403.622743 -167.306261 L 403.0776 -166.809022 L 402.532457 -166.309612 L 401.987314 -165.807824 L 401.442171 -165.303448 L 400.897029 -164.796276 L 400.351886 -164.286098 L 399.806743 -163.772706 L 399.2616 -163.255891 L 398.716457 -162.735445 L 398.171314 -162.211159 L 397.626171 -161.682823 L 397.081029 -161.15023 L 396.535886 -160.61317 L 395.990743 -160.071435 L 395.4456 -159.524815 L 394.900457 -158.973103 L 394.355314 -158.416088 L 393.810171 -157.853564 L 393.265029 -157.28532 L 392.719886 -156.711148 L 392.174743 -156.13299 L 391.6296 -155.554668 L 391.084457 -154.975931 L 390.539314 -154.39643 L 389.994171 -153.815814 L 389.449029 -153.233735 L 388.903886 -152.649842 L 388.358743 -152.063785 L 387.8136 -151.475215 L 387.268457 -150.883782 L 386.723314 -150.289135 L 386.178171 -149.690925 L 385.633029 -149.088803 L 385.087886 -148.482418 L 384.542743 -147.87142 L 383.9976 -147.25546 L 383.452457 -146.634188 L 382.907314 -146.007254 L 382.362171 -145.374308 L 381.817029 -144.735 L 381.271886 -144.088981 L 380.726743 -143.4359 L 380.1816 -142.775408 L 379.636457 -142.107155 L 379.091314 -141.430791 L 378.546171 -140.745966 L 378.001029 -140.052331 L 377.455886 -139.349535 L 376.910743 -138.637229 L 376.3656 -137.915063 L 375.820457 -137.182687 L 375.275314 -136.439751 L 374.730171 -135.685905 L 374.185029 -134.9208 L 373.639886 -134.144086 L 373.094743 -133.355412 L 372.5496 -132.55443 L 372.004457 -131.740788 L 371.459314 -130.914138 L 370.914171 -130.074129 L 370.369029 -129.190706 L 369.823886 -128.234254 L 369.278743 -127.221423 L 368.7336 -126.169089 L 368.188457 -125.094127 L 367.643314 -124.013414 L 367.098171 -122.943824 L 366.553029 -121.898474 L 366.007886 -120.853421 L 365.462743 -119.801949 L 364.9176 -118.745254 L 364.372457 -117.684531 L 363.827314 -116.620976 L 363.282171 -115.555785 L 362.737029 -114.490154 L 362.191886 -113.425278 L 361.646743 -112.362354 L 361.1016 -111.302577 L 360.556457 -110.247143 L 360.011314 -109.197248 L 359.466171 -108.158696 L 358.921029 -107.145154 L 358.375886 -106.144502 L 357.830743 -105.142076 L 357.2856 -104.123212 L 356.740457 -103.073245 L 356.195314 -101.977511 L 355.650171 -100.837969 L 355.105029 -99.671245 L 354.559886 -98.462308 L 354.014743 -97.195327 L 353.4696 -95.854469 L 352.924457 -94.423141 L 352.379314 -92.887086 L 351.834171 -91.253555 L 351.289029 -89.533093 L 350.743886 -87.736243 L 350.198743 -85.873549 L 349.6536 -83.942628 L 349.108457 -81.891493 L 348.563314 -79.737397 L 348.018171 -77.508555 L 347.473029 -75.233181 L 346.927886 -72.93949 L 346.382743 -70.594802 L 345.8376 -68.175019 z" transform="translate(0 288)" style="fill: #808080; fill-opacity: 0.5; stroke: #808080; stroke-opacity: 0.5"/>
</g>
</g>
<g id="FillBetweenPolyCollection_3">
<g clip-path="url(#peedf209786)">
<path d="M 345.8376 -68.175019 L 345.8376 -68.175019 L 346.382743 -68.520261 L 346.927886 -68.862878 L 347.473029 -69.202799 L 348.018171 -69.539954 L 348.563314 -69.874272 L 349.108457 -70.205681 L 349.6536 -70.534113 L 350.198743 -70.859494 L 350.743886 -71.181756 L 351.289029 -71.500826 L 351.834171 -71.816634 L 352.379314 -72.13184 L 352.924457 -72.452875 L 353.4696 -72.777683 L 354.014743 -73.103704 L 354.559886 -73.42838 L 355.105029 -73.749154 L 355.650171 -74.063465 L 356.195314 -74.368756 L 356.740457 -74.662467 L 357.2856 -74.942041 L 357.830743 -75.204919 L 358.375886 -75.448542 L 358.921029 -75.670529 L 359.466171 -75.880867 L 360.011314 -76.086605 L 360.556457 -76.287876 L 361.1016 -76.484812 L 361.646743 -76.677547 L 362.191886 -76.866214 L 362.737029 -77.050946 L 363.282171 -77.231874 L 363.827314 -77.409134 L 364.372457 -77.582856 L 364.9176 -77.753175 L 365.462743 -77.920224 L 366.007886 -78.084134 L 366.553029 -78.245039 L 367.098171 -78.403073 L 367.643314 -78.558367 L 368.188457 -78.711055 L 368.7336 -78.861269 L 369.278743 -79.009144 L 369.823886 -79.154811 L 370.369029 -79.298404 L 370.914171 -79.440055 L 371.459314 -79.579897 L 372.004457 -79.718064 L 372.5496 -79.854688 L 373.094743 -79.989902 L 373.639886 -80.123839 L 374.185029 -80.256632 L 374.730171 -80.388414 L 375.275314 -80.519318 L 375.820457 -80.649476 L 376.3656 -80.779023 L 376.910743 -80.90809 L 377.455886 -81.03681 L 378.001029 -81.165317 L 378.546171 -81.293744 L 379.091314 -81.422223 L 379.636457 -81.550887 L 380.1816 -81.679869 L 380.726743 -81.809302 L 381.271886 -81.939319 L 381.817029 -82.070053 L 382.362171 -82.201638 L 382.907314 -82.334204 L 383.452457 -82.467887 L 383.9976 -82.602818 L 384.542743 -82.739131 L 385.087886 -82.876959 L 385.633029 -83.016433 L 386.178171 -83.157688 L 386.723314 -83.300857 L 387.268457 -83.44522 L 387.8136 -83.588538 L 388.358743 -83.730723 L 388.903886 -83.871816 L 389.449029 -84.01186 L 389.994171 -84.150898 L 390.539314 -84.288972 L 391.084457 -84.426125 L 391.6296 -84.562398 L 392.174743 -84.697836 L 392.719886 -84.832479 L 393.265029 -84.966371 L 393.810171 -85.099555 L 394.355314 -85.232072 L 394.900457 -85.363965 L 395.4456 -85.495277 L 395.990743 -85.62605 L 396.535886 -85.756327 L 397.081029 -85.88615 L 397.626171 -86.015561 L 398.171314 -86.144604 L 398.716457 -86.27332 L 399.2616 -86.401753 L 399.806743 -86.529944 L 400.351886 -86.657937 L 400.897029 -86.785773 L 401.442171 -86.913496 L 401.987314 -87.041147 L 402.532457 -87.168769 L 403.0776 -87.296405 L 403.622743 -87.424097 L 404.167886 -87.551888 L 404.713029 -87.679821 L 405.258171 -87.807937 L 405.803314 -87.936279 L 406.348457 -88.06489 L 406.8936 -88.193812 L 407.438743 -88.323088 L 407.983886 -88.45276 L 408.529029 -88.582871 L 409.074171 -88.713463 L 409.619314 -88.844579 L 410.164457 -88.976261 L 410.7096 -89.108552 L 411.254743 -89.241494 L 411.799886 -89.37513 L 412.345029 -89.509502 L 412.890171 -89.644653 L 413.435314 -89.780626 L 413.980457 -89.917462 L 414.5256 -90.055204 L 415.070743 -90.193895 L 415.615886 -90.333578 L 416.161029 -90.474294 L 416.706171 -90.616086 L 417.251314 -90.758998 L 417.796457 -90.90307 L 418.3416 -91.048347 L 418.886743 -91.19487 L 419.431886 -91.342681 L 419.977029 -91.491824 L 420.522171 -91.642341 L 421.067314 -91.794274 L 421.612457 -91.947665 L 422.1576 -92.102559 L 422.702743 -92.258996 L 423.247886 -92.417019 L 423.793029 -92.576671 L 424.338171 -92.737995 L 424.883314 -92.901032 L 425.428457 -93.065826 L 425.9736 -93.232418 L 426.518743 -93.400852 L 427.063886 -93.57117 L 427.609029 -93.743414 L 428.154171 -93.917675 L 428.699314 -94.094351 L 429.244457 -94.273488 L 429.7896 -94.455048 L 430.334743 -94.638992 L 430.879886 -94.825282 L 431.425029 -95.013878 L 431.970171 -95.204742 L 432.515314 -95.397836 L 433.060457 -95.593119 L 433.6056 -95.790554 L 434.150743 -95.990101 L 434.695886 -96.191722 L 435.241029 -96.395379 L 435.786171 -96.601031 L 436.331314 -96.808641 L 436.876457 -97.01817 L 437.4216 -97.229578 L 437.966743 -97.442828 L 438.511886 -97.65788 L 439.057029 -97.874695 L 439.602171 -98.093235 L 440.147314 -98.313461 L 440.692457 -98.535334 L 441.2376 -98.758815 L 441.782743 -98.983866 L 442.327886 -99.210447 L 442.873029 -99.438521 L 443.418171 -99.668047 L 443.963314 -99.898988 L 444.508457 -100.131304 L 445.0536 -100.364957 L 445.598743 -100.599909 L 446.143886 -100.836119 L 446.689029 -101.073549 L 447.234171 -101.312161 L 447.779314 -101.551916 L 448.324457 -101.792775 L 448.8696 -102.034699 L 449.414743 -102.27765 L 449.959886 -102.521588 L 450.505029 -102.766475 L 451.050171 -103.012271 L 451.595314 -103.25894 L 452.140457 -103.50644 L 452.6856 -103.754734 L 453.230743 -104.003783 L 453.775886 -104.253548 L 454.321029 -104.50399 L 454.866171 -104.755071 L 455.411314 -105.006751 L 455.956457 -105.258992 L 456.5016 -105.511755 L 457.046743 -105.765002 L 457.591886 -106.018693 L 458.137029 -106.272789 L 458.682171 -106.527253 L 459.227314 -106.782044 L 459.772457 -107.037125 L 460.3176 -107.292456 L 460.862743 -107.547999 L 461.407886 -107.803715 L 461.953029 -108.059565 L 462.498171 -108.315511 L 463.043314 -108.571513 L 463.588457 -108.827532 L 464.1336 -109.083531 L 464.678743 -109.33947 L 465.223886 -109.59531 L 465.769029 -109.851012 L 466.314171 -110.106539 L 466.859314 -110.36185 L 467.404457 -110.616907 L 467.9496 -110.871672 L 468.494743 -111.126106 L 469.039886 -111.380206 L 469.585029 -111.635947 L 470.130171 -111.894413 L 470.675314 -112.155523 L 471.220457 -112.419192 L 471.7656 -112.685339 L 472.310743 -112.953882 L 472.855886 -113.224738 L 473.401029 -113.497825 L 473.946171 -113.77306 L 474.491314 -114.050361 L 475.036457 -114.329646 L 475.5816 -114.610832 L 476.126743 -114.893837 L 476.671886 -115.178578 L 477.217029 -115.464973 L 477.762171 -115.75294 L 478.307314 -116.042396 L 478.852457 -116.333258 L 479.3976 -116.625445 L 479.942743 -116.918875 L 480.487886 -117.213463 L 481.033029 -117.50913 L 481.578171 -117.80579 L 482.123314 -118.103364 L 482.668457 -118.401767 L 483.2136 -118.700918 L 483.758743 -119.000735 L 484.303886 -119.301134 L 484.849029 -119.602034 L 485.394171 -119.903351 L 485.939314 -120.205005 L 486.484457 -120.506912 L 487.0296 -120.80899 L 487.574743 -121.111156 L 488.119886 -121.413328 L 488.665029 -121.715424 L 489.210171 -122.017362 L 489.755314 -122.319058 L 490.300457 -122.620431 L 490.8456 -122.921398 L 491.390743 -123.221877 L 491.935886 -123.521785 L 492.481029 -123.82104 L 493.026171 -124.11956 L 493.571314 -124.417262 L 494.116457 -124.714064 L 494.6616 -125.009883 L 495.206743 -125.304637 L 495.751886 -125.598244 L 496.297029 -125.890621 L 496.842171 -126.181685 L 497.387314 -126.471356 L 497.932457 -126.759549 L 498.4776 -127.046183 L 499.022743 -127.331175 L 499.567886 -127.614443 L 500.113029 -127.895904 L 500.658171 -128.175477 L 501.203314 -128.453078 L 501.748457 -128.728625 L 502.2936 -129.002036 L 502.838743 -129.273229 L 503.383886 -129.542121 L 503.929029 -129.80863 L 504.474171 -130.072673 L 505.019314 -130.334167 L 505.564457 -130.593032 L 506.1096 -130.849183 L 506.654743 -131.102539 L 507.199886 -131.353018 L 507.745029 -131.600536 L 508.290171 -131.845012 L 508.835314 -132.086364 L 509.380457 -132.324507 L 509.9256 -132.559362 L 510.470743 -132.790844 L 511.015886 -133.018872 L 511.561029 -133.243363 L 512.106171 -133.465369 L 512.651314 -133.686777 L 513.196457 -133.907608 L 513.7416 -134.127853 L 514.286743 -134.347504 L 514.831886 -134.566551 L 515.377029 -134.784985 L 515.922171 -135.002797 L 516.467314 -135.219979 L 517.012457 -135.43652 L 517.5576 -135.652412 L 518.102743 -135.867647 L 518.647886 -136.082214 L 519.193029 -136.296105 L 519.738171 -136.50931 L 520.283314 -136.721821 L 520.828457 -136.933629 L 521.3736 -137.144724 L 521.918743 -137.355097 L 522.463886 -137.56474 L 523.009029 -137.773643 L 523.554171 -137.981797 L 524.099314 -138.189193 L 524.644457 -138.395823 L 525.1896 -138.601676 L 525.734743 -138.806744 L 526.279886 -139.011018 L 526.825029 -139.214489 L 527.370171 -139.417147 L 527.915314 -139.618984 L 528.460457 -139.81999 L 529.0056 -140.020157 L 529.550743 -140.219476 L 530.095886 -140.417937 L 530.641029 -140.615531 L 531.186171 -140.812249 L 531.731314 -141.008082 L 532.276457 -141.203021 L 532.8216 -141.397058 L 533.366743 -141.590182 L 533.911886 -141.782385 L 534.457029 -141.973658 L 535.002171 -142.163991 L 535.547314 -142.353376 L 536.092457 -142.541804 L 536.6376 -142.729265 L 537.182743 -142.91575 L 537.727886 -143.101251 L 538.273029 -143.285759 L 538.818171 -143.469263 L 539.363314 -143.651755 L 539.908457 -143.833227 L 540.4536 -144.013669 L 540.998743 -144.193071 L 541.543886 -144.371425 L 542.089029 -144.548723 L 542.634171 -144.724953 L 543.179314 -144.900109 L 543.724457 -145.07418 L 544.2696 -145.247157 L 544.814743 -145.419032 L 545.359886 -145.589796 L 545.905029 -145.759438 L 546.450171 -145.927951 L 546.995314 -146.095325 L 547.540457 -146.261551 L 548.0856 -146.42662 L 548.630743 -146.590523 L 549.175886 -146.753251 L 549.721029 -146.914795 L 550.266171 -147.075145 L 550.811314 -147.234293 L 551.356457 -147.39223 L 551.9016 -147.548946 L 552.446743 -147.704433 L 552.991886 -147.858681 L 553.537029 -148.011681 L 554.082171 -148.163424 L 554.627314 -148.313902 L 555.172457 -148.463105 L 555.7176 -148.611024 L 556.262743 -148.757649 L 556.807886 -148.902973 L 557.353029 -149.046985 L 557.898171 -149.189678 L 558.443314 -149.33104 L 558.988457 -149.471065 L 559.5336 -149.609742 L 560.078743 -149.747062 L 560.623886 -149.883017 L 561.169029 -150.017597 L 561.714171 -150.150794 L 562.259314 -150.282597 L 562.804457 -150.412999 L 563.3496 -150.54199 L 563.3496 -292.175845 L 563.3496 -292.175845 L 562.804457 -291.883585 L 562.259314 -291.590878 L 561.714171 -291.297724 L 561.169029 -291.004128 L 560.623886 -290.710092 L 560.078743 -290.415618 L 559.5336 -290.120709 L 558.988457 -289.825368 L 558.443314 -289.529597 L 557.898171 -289.233398 L 557.353029 -288.936775 L 556.807886 -288.63973 L 556.262743 -288.342265 L 555.7176 -288.044384 L 555.172457 -287.746088 L 554.627314 -287.44738 L 554.082171 -287.148264 L 553.537029 -286.848741 L 552.991886 -286.548814 L 552.446743 -286.248485 L 551.9016 -285.947758 L 551.356457 -285.646635 L 550.811314 -285.345118 L 550.266171 -285.043211 L 549.721029 -284.740915 L 549.175886 -284.438233 L 548.630743 -284.135168 L 548.0856 -283.831723 L 547.540457 -283.5279 L 546.995314 -283.223701 L 546.450171 -282.91913 L 545.905029 -282.614188 L 545.359886 -282.308879 L 544.814743 -282.003205 L 544.2696 -281.697168 L 543.724457 -281.390772 L 543.179314 -281.084018 L 542.634171 -280.77691 L 542.089029 -280.46945 L 541.543886 -280.16164 L 540.998743 -279.853484 L 540.4536 -279.544983 L 539.908457 -279.236141 L 539.363314 -278.92696 L 538.818171 -278.617442 L 538.273029 -278.307591 L 537.727886 -277.997408 L 537.182743 -277.686896 L 536.6376 -277.376059 L 536.092457 -277.064898 L 535.547314 -276.753416 L 535.002171 -276.441616 L 534.457029 -276.1295 L 533.911886 -275.817071 L 533.366743 -275.504332 L 532.8216 -275.191285 L 532.276457 -274.877932 L 531.731314 -274.564277 L 531.186171 -274.250322 L 530.641029 -273.936069 L 530.095886 -273.621521 L 529.550743 -273.306681 L 529.0056 -272.991552 L 528.460457 -272.676135 L 527.915314 -272.360433 L 527.370171 -272.04445 L 526.825029 -271.728187 L 526.279886 -271.411648 L 525.734743 -271.094834 L 525.1896 -270.777749 L 524.644457 -270.460395 L 524.099314 -270.142774 L 523.554171 -269.82489 L 523.009029 -269.506744 L 522.463886 -269.18834 L 521.918743 -268.86968 L 521.3736 -268.550767 L 520.828457 -268.231602 L 520.283314 -267.91219 L 519.738171 -267.592532 L 519.193029 -267.272631 L 518.647886 -266.952489 L 518.102743 -266.63211 L 517.5576 -266.311495 L 517.012457 -265.990648 L 516.467314 -265.669571 L 515.922171 -265.348266 L 515.377029 -265.026736 L 514.831886 -264.704984 L 514.286743 -264.383013 L 513.7416 -264.060824 L 513.196457 -263.738421 L 512.651314 -263.415806 L 512.106171 -263.092982 L 511.561029 -262.769951 L 511.015886 -262.446716 L 510.470743 -262.12328 L 509.9256 -261.799634 L 509.380457 -261.475095 L 508.835314 -261.149285 L 508.290171 -260.822265 L 507.745029 -260.494094 L 507.199886 -260.164832 L 506.654743 -259.83454 L 506.1096 -259.503277 L 505.564457 -259.171103 L 505.019314 -258.838079 L 504.474171 -258.504264 L 503.929029 -258.169718 L 503.383886 -257.834501 L 502.838743 -257.498673 L 502.2936 -257.162294 L 501.748457 -256.825424 L 501.203314 -256.488123 L 500.658171 -256.150451 L 500.113029 -255.812467 L 499.567886 -255.474233 L 499.022743 -255.135807 L 498.4776 -254.79725 L 497.932457 -254.458622 L 497.387314 -254.119982 L 496.842171 -253.781391 L 496.297029 -253.442908 L 495.751886 -253.104594 L 495.206743 -252.766508 L 494.6616 -252.428711 L 494.116457 -252.091262 L 493.571314 -251.754221 L 493.026171 -251.417648 L 492.481029 -251.081604 L 491.935886 -250.746148 L 491.390743 -250.41134 L 490.8456 -250.07724 L 490.300457 -249.743908 L 489.755314 -249.411405 L 489.210171 -249.079661 L 488.665029 -248.747925 L 488.119886 -248.416085 L 487.574743 -248.084165 L 487.0296 -247.752189 L 486.484457 -247.420181 L 485.939314 -247.088166 L 485.394171 -246.756167 L 484.849029 -246.42421 L 484.303886 -246.092317 L 483.758743 -245.760514 L 483.2136 -245.428824 L 482.668457 -245.097271 L 482.123314 -244.765881 L 481.578171 -244.434676 L 481.033029 -244.103681 L 480.487886 -243.772921 L 479.942743 -243.44242 L 479.3976 -243.112201 L 478.852457 -242.782288 L 478.307314 -242.452707 L 477.762171 -242.123481 L 477.217029 -241.794635 L 476.671886 -241.466192 L 476.126743 -241.138177 L 475.5816 -240.810614 L 475.036457 -240.483527 L 474.491314 -240.156941 L 473.946171 -239.830879 L 473.401029 -239.505366 L 472.855886 -239.180425 L 472.310743 -238.856082 L 471.7656 -238.53236 L 471.220457 -238.209283 L 470.675314 -237.886877 L 470.130171 -237.565163 L 469.585029 -237.244168 L 469.039886 -236.923915 L 468.494743 -236.604275 L 467.9496 -236.284987 L 467.404457 -235.966045 L 466.859314 -235.647448 L 466.314171 -235.329193 L 465.769029 -235.011279 L 465.223886 -234.693703 L 464.678743 -234.376465 L 464.1336 -234.059562 L 463.588457 -233.742991 L 463.043314 -233.426752 L 462.498171 -233.110843 L 461.953029 -232.795261 L 461.407886 -232.480005 L 460.862743 -232.165073 L 460.3176 -231.850463 L 459.772457 -231.536172 L 459.227314 -231.222201 L 458.682171 -230.908545 L 458.137029 -230.595205 L 457.591886 -230.282177 L 457.046743 -229.969459 L 456.5016 -229.657051 L 455.956457 -229.34495 L 455.411314 -229.033154 L 454.866171 -228.721662 L 454.321029 -228.410471 L 453.775886 -228.09958 L 453.230743 -227.788986 L 452.6856 -227.478689 L 452.140457 -227.168686 L 451.595314 -226.858975 L 451.050171 -226.549554 L 450.505029 -226.240422 L 449.959886 -225.931576 L 449.414743 -225.623015 L 448.8696 -225.314738 L 448.324457 -225.006741 L 447.779314 -224.699023 L 447.234171 -224.391583 L 446.689029 -224.084418 L 446.143886 -223.777527 L 445.598743 -223.470908 L 445.0536 -223.164558 L 444.508457 -222.858477 L 443.963314 -222.552661 L 443.418171 -222.247111 L 442.873029 -221.941822 L 442.327886 -221.636794 L 441.782743 -221.332025 L 441.2376 -221.027512 L 440.692457 -220.723255 L 440.147314 -220.419251 L 439.602171 -220.115498 L 439.057029 -219.811995 L 438.511886 -219.508739 L 437.966743 -219.205728 L 437.4216 -218.902962 L 436.876457 -218.600437 L 436.331314 -218.298153 L 435.786171 -217.996107 L 435.241029 -217.694297 L 434.695886 -217.392722 L 434.150743 -217.092687 L 433.6056 -216.798815 L 433.060457 -216.510433 L 432.515314 -216.226306 L 431.970171 -215.945201 L 431.425029 -215.665885 L 430.879886 -215.387122 L 430.334743 -215.107679 L 429.7896 -214.826323 L 429.244457 -214.54182 L 428.699314 -214.252935 L 428.154171 -213.958435 L 427.609029 -213.657086 L 427.063886 -213.347655 L 426.518743 -213.028906 L 425.9736 -212.699608 L 425.428457 -212.35853 L 424.883314 -212.007152 L 424.338171 -211.647436 L 423.793029 -211.279516 L 423.247886 -210.903527 L 422.702743 -210.519603 L 422.1576 -210.127878 L 421.612457 -209.728487 L 421.067314 -209.321563 L 420.522171 -208.90724 L 419.977029 -208.485653 L 419.431886 -208.056937 L 418.886743 -207.621225 L 418.3416 -207.178651 L 417.796457 -206.729349 L 417.251314 -206.273455 L 416.706171 -205.811101 L 416.161029 -205.342423 L 415.615886 -204.867554 L 415.070743 -204.386628 L 414.5256 -203.899781 L 413.980457 -203.407145 L 413.435314 -202.906419 L 412.890171 -202.395065 L 412.345029 -201.873323 L 411.799886 -201.341435 L 411.254743 -200.799644 L 410.7096 -200.248194 L 410.164457 -199.687325 L 409.619314 -199.117282 L 409.074171 -198.538307 L 408.529029 -197.950641 L 407.983886 -197.354528 L 407.438743 -196.750211 L 406.8936 -196.137932 L 406.348457 -195.517933 L 405.803314 -194.890458 L 405.258171 -194.255748 L 404.713029 -193.614047 L 404.167886 -192.965597 L 403.622743 -192.310641 L 403.0776 -191.649421 L 402.532457 -190.982179 L 401.987314 -190.307644 L 401.442171 -189.623743 L 400.897029 -188.930644 L 400.351886 -188.228537 L 399.806743 -187.517611 L 399.2616 -186.798058 L 398.716457 -186.070067 L 398.171314 -185.333829 L 397.626171 -184.589532 L 397.081029 -183.837369 L 396.535886 -183.077528 L 395.990743 -182.310199 L 395.4456 -181.535574 L 394.900457 -180.753842 L 394.355314 -179.965193 L 393.810171 -179.169817 L 393.265029 -178.367904 L 392.719886 -177.559645 L 392.174743 -176.74523 L 391.6296 -175.924848 L 391.084457 -175.098691 L 390.539314 -174.266947 L 389.994171 -173.429807 L 389.449029 -172.587461 L 388.903886 -171.7401 L 388.358743 -170.887914 L 387.8136 -170.031091 L 387.268457 -169.169824 L 386.723314 -168.304301 L 386.178171 -167.434713 L 385.633029 -166.56125 L 385.087886 -165.684103 L 384.542743 -164.80184 L 383.9976 -163.912119 L 383.452457 -163.014892 L 382.907314 -162.110131 L 382.362171 -161.197807 L 381.817029 -160.277893 L 381.271886 -159.35036 L 380.726743 -158.415181 L 380.1816 -157.472329 L 379.636457 -156.521775 L 379.091314 -155.563491 L 378.546171 -154.59745 L 378.001029 -153.623624 L 377.455886 -152.641984 L 376.910743 -151.652504 L 376.3656 -150.655154 L 375.820457 -149.649908 L 375.275314 -148.636737 L 374.730171 -147.615614 L 374.185029 -146.586511 L 373.639886 -145.549399 L 373.094743 -144.504252 L 372.5496 -143.45104 L 372.004457 -142.389737 L 371.459314 -141.320314 L 370.914171 -140.242744 L 370.369029 -139.156823 L 369.823886 -138.054978 L 369.278743 -136.934137 L 368.7336 -135.795598 L 368.188457 -134.640656 L 367.643314 -133.47061 L 367.098171 -132.286757 L 366.553029 -131.090394 L 366.007886 -129.882817 L 365.462743 -128.665324 L 364.9176 -127.439213 L 364.372457 -126.205779 L 363.827314 -124.966321 L 363.282171 -123.722136 L 362.737029 -122.47452 L 362.191886 -121.224771 L 361.646743 -119.974186 L 361.1016 -118.724063 L 360.556457 -117.475697 L 360.011314 -116.230387 L 359.466171 -114.98949 L 358.921029 -113.767129 L 358.375886 -112.568809 L 357.830743 -111.387887 L 357.2856 -110.21772 L 356.740457 -109.051664 L 356.195314 -107.883076 L 355.650171 -106.705311 L 355.105029 -105.511727 L 354.559886 -104.295679 L 354.014743 -103.050525 L 353.4696 -101.769621 L 352.924457 -100.446323 L 352.379314 -99.073988 L 351.834171 -97.645972 L 351.289029 -96.155632 L 350.743886 -94.600284 L 350.198743 -93.031357 L 349.6536 -91.394772 L 349.108457 -89.596312 L 348.563314 -87.541756 L 348.018171 -85.136886 L 347.473029 -82.101141 L 346.927886 -78.094082 L 346.382743 -73.36268 L 345.8376 -68.175019 z" transform="translate(0 288)" style="fill: #008000; fill-opacity: 0.2; stroke: #008000; stroke-opacity: 0.2"/>
</g>
</g>
<g id="FillBetweenPolyCollection_4">
<g clip-path="url(#peedf209786)">
<path d="M 345.8376 -68.175019 L 345.8376 -68.175019 L 346.382743 -68.709178 L 346.927886 -69.236751 L 347.473029 -69.757465 L 348.018171 -70.271047 L 348.563314 -70.777224 L 349.108457 -71.27572 L 349.6536 -71.766264 L 350.198743 -72.24858 L 350.743886 -72.722396 L 351.289029 -73.187438 L 351.834171 -73.643433 L 352.379314 -74.091147 L 352.924457 -74.533245 L 353.4696 -74.969623 L 354.014743 -75.400002 L 354.559886 -75.824099 L 355.105029 -76.241636 L 355.650171 -76.65233 L 356.195314 -77.055902 L 356.740457 -77.45207 L 357.2856 -77.840553 L 357.830743 -78.221072 L 358.375886 -78.593345 L 358.921029 -78.957142 L 359.466171 -79.315479 L 360.011314 -79.669913 L 360.556457 -80.019943 L 361.1016 -80.365072 L 361.646743 -80.704798 L 362.191886 -81.038624 L 362.737029 -81.366049 L 363.282171 -81.686575 L 363.827314 -81.999702 L 364.372457 -82.304931 L 364.9176 -82.601762 L 365.462743 -82.889697 L 366.007886 -83.168235 L 366.553029 -83.437496 L 367.098171 -83.70409 L 367.643314 -83.96981 L 368.188457 -84.234496 L 368.7336 -84.497986 L 369.278743 -84.76012 L 369.823886 -85.020738 L 370.369029 -85.279679 L 370.914171 -85.536782 L 371.459314 -85.791887 L 372.004457 -86.044833 L 372.5496 -86.295461 L 373.094743 -86.543608 L 373.639886 -86.789115 L 374.185029 -87.031821 L 374.730171 -87.271566 L 375.275314 -87.508188 L 375.820457 -87.741528 L 376.3656 -87.971425 L 376.910743 -88.197718 L 377.455886 -88.420247 L 378.001029 -88.638851 L 378.546171 -88.85337 L 379.091314 -89.063642 L 379.636457 -89.269508 L 380.1816 -89.470808 L 380.726743 -89.667379 L 381.271886 -89.859062 L 381.817029 -90.045697 L 382.362171 -90.227122 L 382.907314 -90.403178 L 383.452457 -90.573703 L 383.9976 -90.738537 L 384.542743 -90.89752 L 385.087886 -91.05049 L 385.633029 -91.197288 L 386.178171 -91.337753 L 386.723314 -91.471724 L 387.268457 -91.600845 L 387.8136 -91.729918 L 388.358743 -91.85912 L 388.903886 -91.988345 L 389.449029 -92.11749 L 389.994171 -92.24645 L 390.539314 -92.375121 L 391.084457 -92.503397 L 391.6296 -92.631176 L 392.174743 -92.758352 L 392.719886 -92.884821 L 393.265029 -93.010478 L 393.810171 -93.135219 L 394.355314 -93.25894 L 394.900457 -93.381537 L 395.4456 -93.502904 L 395.990743 -93.622937 L 396.535886 -93.741533 L 397.081029 -93.858586 L 397.626171 -93.973992 L 398.171314 -94.087647 L 398.716457 -94.199447 L 399.2616 -94.309286 L 399.806743 -94.417061 L 400.351886 -94.522667 L 400.897029 -94.626 L 401.442171 -94.726954 L 401.987314 -94.825427 L 402.532457 -94.921313 L 403.0776 -95.014508 L 403.622743 -95.104908 L 404.167886 -95.192408 L 404.713029 -95.276904 L 405.258171 -95.358291 L 405.803314 -95.436464 L 406.348457 -95.511321 L 406.8936 -95.582755 L 407.438743 -95.650663 L 407.983886 -95.714941 L 408.529029 -95.775483 L 409.074171 -95.832186 L 409.619314 -95.884944 L 410.164457 -95.933654 L 410.7096 -95.978212 L 411.254743 -96.018512 L 411.799886 -96.05445 L 412.345029 -96.085923 L 412.890171 -96.112825 L 413.435314 -96.135052 L 413.980457 -96.152499 L 414.5256 -96.165063 L 415.070743 -96.172639 L 415.615886 -96.175122 L 416.161029 -96.174114 L 416.706171 -96.171182 L 417.251314 -96.166358 L 417.796457 -96.15967 L 418.3416 -96.151149 L 418.886743 -96.140825 L 419.431886 -96.128728 L 419.977029 -96.114888 L 420.522171 -96.099335 L 421.067314 -96.082099 L 421.612457 -96.06321 L 422.1576 -96.042698 L 422.702743 -96.020593 L 423.247886 -95.996925 L 423.793029 -95.971724 L 424.338171 -95.945021 L 424.883314 -95.916844 L 425.428457 -95.887225 L 425.9736 -95.856193 L 426.518743 -95.823778 L 427.063886 -95.79001 L 427.609029 -95.75492 L 428.154171 -95.718536 L 428.699314 -95.68089 L 429.244457 -95.642012 L 429.7896 -95.60193 L 430.334743 -95.560676 L 430.879886 -95.518279 L 431.425029 -95.47477 L 431.970171 -95.430178 L 432.515314 -95.384533 L 433.060457 -95.337866 L 433.6056 -95.290206 L 434.150743 -95.241584 L 434.695886 -95.192029 L 435.241029 -95.141571 L 435.786171 -95.090242 L 436.331314 -95.038069 L 436.876457 -94.985084 L 437.4216 -94.931317 L 437.966743 -94.876797 L 438.511886 -94.821555 L 439.057029 -94.765621 L 439.602171 -94.709024 L 440.147314 -94.651795 L 440.692457 -94.593963 L 441.2376 -94.535559 L 441.782743 -94.476613 L 442.327886 -94.417155 L 442.873029 -94.357214 L 443.418171 -94.296821 L 443.963314 -94.236006 L 444.508457 -94.174799 L 445.0536 -94.113229 L 445.598743 -94.051327 L 446.143886 -93.989124 L 446.689029 -93.926648 L 447.234171 -93.86393 L 447.779314 -93.800999 L 448.324457 -93.737887 L 448.8696 -93.674623 L 449.414743 -93.611237 L 449.959886 -93.547758 L 450.505029 -93.484218 L 451.050171 -93.420646 L 451.595314 -93.357071 L 452.140457 -93.293525 L 452.6856 -93.230037 L 453.230743 -93.166637 L 453.775886 -93.103355 L 454.321029 -93.040221 L 454.866171 -92.977265 L 455.411314 -92.914518 L 455.956457 -92.852009 L 456.5016 -92.789767 L 457.046743 -92.727824 L 457.591886 -92.66621 L 458.137029 -92.604953 L 458.682171 -92.544085 L 459.227314 -92.483635 L 459.772457 -92.423634 L 460.3176 -92.364111 L 460.862743 -92.305096 L 461.407886 -92.24662 L 461.953029 -92.188711 L 462.498171 -92.131402 L 463.043314 -92.074721 L 463.588457 -92.018698 L 464.1336 -91.963363 L 464.678743 -91.908748 L 465.223886 -91.85488 L 465.769029 -91.801791 L 466.314171 -91.749511 L 466.859314 -91.698069 L 467.404457 -91.647496 L 467.9496 -91.597821 L 468.494743 -91.549075 L 469.039886 -91.501277 L 469.585029 -91.453832 L 470.130171 -91.406389 L 470.675314 -91.358949 L 471.220457 -91.311512 L 471.7656 -91.264078 L 472.310743 -91.216646 L 472.855886 -91.169218 L 473.401029 -91.121792 L 473.946171 -91.074368 L 474.491314 -91.026948 L 475.036457 -90.97953 L 475.5816 -90.932115 L 476.126743 -90.884703 L 476.671886 -90.837293 L 477.217029 -90.789887 L 477.762171 -90.742483 L 478.307314 -90.695082 L 478.852457 -90.647684 L 479.3976 -90.600289 L 479.942743 -90.552897 L 480.487886 -90.505507 L 481.033029 -90.458121 L 481.578171 -90.410737 L 482.123314 -90.363357 L 482.668457 -90.315979 L 483.2136 -90.268604 L 483.758743 -90.221232 L 484.303886 -90.173863 L 484.849029 -90.126497 L 485.394171 -90.079134 L 485.939314 -90.031774 L 486.484457 -89.984417 L 487.0296 -89.937063 L 487.574743 -89.889712 L 488.119886 -89.842364 L 488.665029 -89.795019 L 489.210171 -89.747677 L 489.755314 -89.700338 L 490.300457 -89.653002 L 490.8456 -89.60567 L 491.390743 -89.55834 L 491.935886 -89.511013 L 492.481029 -89.46369 L 493.026171 -89.41637 L 493.571314 -89.369052 L 494.116457 -89.321738 L 494.6616 -89.274427 L 495.206743 -89.227119 L 495.751886 -89.179815 L 496.297029 -89.132513 L 496.842171 -89.085215 L 497.387314 -89.03792 L 497.932457 -88.990628 L 498.4776 -88.943339 L 499.022743 -88.896054 L 499.567886 -88.848771 L 500.113029 -88.801492 L 500.658171 -88.754217 L 501.203314 -88.706944 L 501.748457 -88.659675 L 502.2936 -88.612409 L 502.838743 -88.565146 L 503.383886 -88.517887 L 503.929029 -88.470631 L 504.474171 -88.423378 L 505.019314 -88.376129 L 505.564457 -88.328882 L 506.1096 -88.28164 L 506.654743 -88.2344 L 507.199886 -88.187164 L 507.745029 -88.139932 L 508.290171 -88.092702 L 508.835314 -88.045476 L 509.380457 -87.998254 L 509.9256 -87.951035 L 510.470743 -87.903819 L 511.015886 -87.856607 L 511.561029 -87.809398 L 512.106171 -87.762193 L 512.651314 -87.714991 L 513.196457 -87.667793 L 513.7416 -87.620598 L 514.286743 -87.573407 L 514.831886 -87.526219 L 515.377029 -87.479035 L 515.922171 -87.431854 L 516.467314 -87.384677 L 517.012457 -87.337503 L 517.5576 -87.290333 L 518.102743 -87.243166 L 518.647886 -87.196003 L 519.193029 -87.148844 L 519.738171 -87.101688 L 520.283314 -87.054536 L 520.828457 -87.007387 L 521.3736 -86.960242 L 521.918743 -86.913101 L 522.463886 -86.865963 L 523.009029 -86.818829 L 523.554171 -86.771698 L 524.099314 -86.724572 L 524.644457 -86.677449 L 525.1896 -86.630329 L 525.734743 -86.583213 L 526.279886 -86.536102 L 526.825029 -86.488993 L 527.370171 -86.441889 L 527.915314 -86.394788 L 528.460457 -86.347691 L 529.0056 -86.300598 L 529.550743 -86.253508 L 530.095886 -86.206423 L 530.641029 -86.159341 L 531.186171 -86.112263 L 531.731314 -86.065189 L 532.276457 -86.018118 L 532.8216 -85.971051 L 533.366743 -85.923989 L 533.911886 -85.87693 L 534.457029 -85.829875 L 535.002171 -85.782824 L 535.547314 -85.735776 L 536.092457 -85.688733 L 536.6376 -85.641693 L 537.182743 -85.594658 L 537.727886 -85.547626 L 538.273029 -85.500598 L 538.818171 -85.453574 L 539.363314 -85.406555 L 539.908457 -85.359539 L 540.4536 -85.312527 L 540.998743 -85.265519 L 541.543886 -85.218515 L 542.089029 -85.171515 L 542.634171 -85.124519 L 543.179314 -85.077527 L 543.724457 -85.030539 L 544.2696 -84.983555 L 544.814743 -84.936575 L 545.359886 -84.8896 L 545.905029 -84.842628 L 546.450171 -84.79566 L 546.995314 -84.748697 L 547.540457 -84.701738 L 548.0856 -84.654782 L 548.630743 -84.607831 L 549.175886 -84.560884 L 549.721029 -84.513941 L 550.266171 -84.467002 L 550.811314 -84.420068 L 551.356457 -84.373137 L 551.9016 -84.326211 L 552.446743 -84.279289 L 552.991886 -84.232371 L 553.537029 -84.185457 L 554.082171 -84.138548 L 554.627314 -84.091643 L 555.172457 -84.044742 L 555.7176 -83.997845 L 556.262743 -83.950952 L 556.807886 -83.904064 L 557.353029 -83.85718 L 557.898171 -83.810301 L 558.443314 -83.763425 L 558.988457 -83.716554 L 559.5336 -83.669687 L 560.078743 -83.622825 L 560.623886 -83.575967 L 561.169029 -83.529113 L 561.714171 -83.482264 L 562.259314 -83.435419 L 562.804457 -83.388578 L 563.3496 -83.341742 L 563.3496 -117.1752 L 563.3496 -117.1752 L 562.804457 -117.307975 L 562.259314 -117.441637 L 561.714171 -117.576183 L 561.169029 -117.711607 L 560.623886 -117.847906 L 560.078743 -117.985075 L 559.5336 -118.123109 L 558.988457 -118.262006 L 558.443314 -118.401759 L 557.898171 -118.542366 L 557.353029 -118.683821 L 556.807886 -118.82612 L 556.262743 -118.96926 L 555.7176 -119.113235 L 555.172457 -119.258042 L 554.627314 -119.403675 L 554.082171 -119.550132 L 553.537029 -119.697407 L 552.991886 -119.845496 L 552.446743 -119.994395 L 551.9016 -120.144099 L 551.356457 -120.294605 L 550.811314 -120.445908 L 550.266171 -120.598003 L 549.721029 -120.750887 L 549.175886 -120.904554 L 548.630743 -121.059001 L 548.0856 -121.214224 L 547.540457 -121.370218 L 546.995314 -121.526978 L 546.450171 -121.684501 L 545.905029 -121.842783 L 545.359886 -122.001818 L 544.814743 -122.161602 L 544.2696 -122.322132 L 543.724457 -122.483402 L 543.179314 -122.64541 L 542.634171 -122.808149 L 542.089029 -122.971617 L 541.543886 -123.135808 L 540.998743 -123.300719 L 540.4536 -123.466345 L 539.908457 -123.632681 L 539.363314 -123.799724 L 538.818171 -123.967469 L 538.273029 -124.135912 L 537.727886 -124.305049 L 537.182743 -124.474874 L 536.6376 -124.645385 L 536.092457 -124.816576 L 535.547314 -124.988444 L 535.002171 -125.160983 L 534.457029 -125.33419 L 533.911886 -125.508061 L 533.366743 -125.68259 L 532.8216 -125.857775 L 532.276457 -126.03361 L 531.731314 -126.21009 L 531.186171 -126.387213 L 530.641029 -126.564973 L 530.095886 -126.743367 L 529.550743 -126.922389 L 529.0056 -127.102036 L 528.460457 -127.282304 L 527.915314 -127.463187 L 527.370171 -127.644682 L 526.825029 -127.826784 L 526.279886 -128.009489 L 525.734743 -128.192794 L 525.1896 -128.376692 L 524.644457 -128.561181 L 524.099314 -128.746255 L 523.554171 -128.931911 L 523.009029 -129.118144 L 522.463886 -129.30495 L 521.918743 -129.492325 L 521.3736 -129.680264 L 520.828457 -129.868763 L 520.283314 -130.057818 L 519.738171 -130.247423 L 519.193029 -130.437576 L 518.647886 -130.628272 L 518.102743 -130.819506 L 517.5576 -131.011275 L 517.012457 -131.203573 L 516.467314 -131.396396 L 515.922171 -131.589741 L 515.377029 -131.783603 L 514.831886 -131.977977 L 514.286743 -132.172859 L 513.7416 -132.368246 L 513.196457 -132.564132 L 512.651314 -132.760513 L 512.106171 -132.957386 L 511.561029 -133.154745 L 511.015886 -133.352966 L 510.470743 -133.55567 L 509.9256 -133.763641 L 509.380457 -133.976731 L 508.835314 -134.194792 L 508.290171 -134.417675 L 507.745029 -134.645232 L 507.199886 -134.877314 L 506.654743 -135.113775 L 506.1096 -135.354464 L 505.564457 -135.599234 L 505.019314 -135.847937 L 504.474171 -136.100424 L 503.929029 -136.356547 L 503.383886 -136.616158 L 502.838743 -136.879108 L 502.2936 -137.145249 L 501.748457 -137.414433 L 501.203314 -137.686512 L 500.658171 -137.961337 L 500.113029 -138.23876 L 499.567886 -138.518632 L 499.022743 -138.800806 L 498.4776 -139.085132 L 497.932457 -139.371464 L 497.387314 -139.659652 L 496.842171 -139.949548 L 496.297029 -140.241004 L 495.751886 -140.533872 L 495.206743 -140.828002 L 494.6616 -141.123248 L 494.116457 -141.419461 L 493.571314 -141.716492 L 493.026171 -142.014193 L 492.481029 -142.312416 L 491.935886 -142.611012 L 491.390743 -142.909833 L 490.8456 -143.208732 L 490.300457 -143.507559 L 489.755314 -143.806166 L 489.210171 -144.104406 L 488.665029 -144.402129 L 488.119886 -144.699188 L 487.574743 -144.995434 L 487.0296 -145.290718 L 486.484457 -145.584894 L 485.939314 -145.877811 L 485.394171 -146.169323 L 484.849029 -146.45928 L 484.303886 -146.747534 L 483.758743 -147.033938 L 483.2136 -147.318343 L 482.668457 -147.6006 L 482.123314 -147.880561 L 481.578171 -148.158078 L 481.033029 -148.433003 L 480.487886 -148.705187 L 479.942743 -148.974482 L 479.3976 -149.24074 L 478.852457 -149.503812 L 478.307314 -149.763551 L 477.762171 -150.019807 L 477.217029 -150.272433 L 476.671886 -150.52128 L 476.126743 -150.7662 L 475.5816 -151.007045 L 475.036457 -151.243666 L 474.491314 -151.475916 L 473.946171 -151.703645 L 473.401029 -151.926705 L 472.855886 -152.144949 L 472.310743 -152.358228 L 471.7656 -152.566393 L 471.220457 -152.769297 L 470.675314 -152.966791 L 470.130171 -153.158726 L 469.585029 -153.344955 L 469.039886 -153.525329 L 468.494743 -153.6997 L 467.9496 -153.86792 L 467.404457 -154.029839 L 466.859314 -154.185311 L 466.314171 -154.334187 L 465.769029 -154.476317 L 465.223886 -154.611555 L 464.678743 -154.739752 L 464.1336 -154.860759 L 463.588457 -154.974429 L 463.043314 -155.080612 L 462.498171 -155.179161 L 461.953029 -155.269927 L 461.407886 -155.352762 L 460.862743 -155.427518 L 460.3176 -155.496545 L 459.772457 -155.565046 L 459.227314 -155.633164 L 458.682171 -155.700873 L 458.137029 -155.768146 L 457.591886 -155.834956 L 457.046743 -155.901276 L 456.5016 -155.967078 L 455.956457 -156.032337 L 455.411314 -156.097025 L 454.866171 -156.161115 L 454.321029 -156.22458 L 453.775886 -156.287394 L 453.230743 -156.349529 L 452.6856 -156.410959 L 452.140457 -156.471656 L 451.595314 -156.531594 L 451.050171 -156.590745 L 450.505029 -156.649084 L 449.959886 -156.706582 L 449.414743 -156.763213 L 448.8696 -156.818951 L 448.324457 -156.873767 L 447.779314 -156.927636 L 447.234171 -156.98053 L 446.689029 -157.032422 L 446.143886 -157.083285 L 445.598743 -157.133093 L 445.0536 -157.181819 L 444.508457 -157.229435 L 443.963314 -157.275915 L 443.418171 -157.321231 L 442.873029 -157.365358 L 442.327886 -157.408267 L 441.782743 -157.449933 L 441.2376 -157.490327 L 440.692457 -157.529423 L 440.147314 -157.567195 L 439.602171 -157.603615 L 439.057029 -157.638657 L 438.511886 -157.672292 L 437.966743 -157.704496 L 437.4216 -157.735239 L 436.876457 -157.764497 L 436.331314 -157.792241 L 435.786171 -157.818445 L 435.241029 -157.843082 L 434.695886 -157.866125 L 434.150743 -157.887547 L 433.6056 -157.90732 L 433.060457 -157.925419 L 432.515314 -157.941817 L 431.970171 -157.956485 L 431.425029 -157.969398 L 430.879886 -157.980529 L 430.334743 -157.98985 L 429.7896 -157.997334 L 429.244457 -158.002955 L 428.699314 -158.006686 L 428.154171 -158.0085 L 427.609029 -158.006601 L 427.063886 -157.992895 L 426.518743 -157.966716 L 425.9736 -157.92845 L 425.428457 -157.878483 L 424.883314 -157.817201 L 424.338171 -157.74499 L 423.793029 -157.662236 L 423.247886 -157.569325 L 422.702743 -157.466643 L 422.1576 -157.354576 L 421.612457 -157.233511 L 421.067314 -157.103833 L 420.522171 -156.965927 L 419.977029 -156.820182 L 419.431886 -156.666981 L 418.886743 -156.506712 L 418.3416 -156.33976 L 417.796457 -156.166511 L 417.251314 -155.987352 L 416.706171 -155.802668 L 416.161029 -155.612846 L 415.615886 -155.418271 L 415.070743 -155.21933 L 414.5256 -155.016408 L 413.980457 -154.809892 L 413.435314 -154.600167 L 412.890171 -154.38762 L 412.345029 -154.172637 L 411.799886 -153.955603 L 411.254743 -153.736905 L 410.7096 -153.516929 L 410.164457 -153.29606 L 409.619314 -153.074685 L 409.074171 -152.853191 L 408.529029 -152.631961 L 407.983886 -152.411384 L 407.438743 -152.191845 L 406.8936 -151.968611 L 406.348457 -151.73512 L 405.803314 -151.491524 L 405.258171 -151.238007 L 404.713029 -150.974756 L 404.167886 -150.701954 L 403.622743 -150.419789 L 403.0776 -150.128444 L 402.532457 -149.828106 L 401.987314 -149.51896 L 401.442171 -149.20119 L 400.897029 -148.874982 L 400.351886 -148.540522 L 399.806743 -148.197994 L 399.2616 -147.847585 L 398.716457 -147.489478 L 398.171314 -147.123861 L 397.626171 -146.750917 L 397.081029 -146.370833 L 396.535886 -145.983793 L 395.990743 -145.589982 L 395.4456 -145.189587 L 394.900457 -144.782792 L 394.355314 -144.369783 L 393.810171 -143.950745 L 393.265029 -143.525863 L 392.719886 -143.095323 L 392.174743 -142.659309 L 391.6296 -142.218008 L 391.084457 -141.771604 L 390.539314 -141.320283 L 389.994171 -140.86423 L 389.449029 -140.40363 L 388.903886 -139.938668 L 388.358743 -139.469531 L 387.8136 -138.996403 L 387.268457 -138.519469 L 386.723314 -138.038529 L 386.178171 -137.546991 L 385.633029 -137.042574 L 385.087886 -136.525474 L 384.542743 -135.99589 L 383.9976 -135.454018 L 383.452457 -134.900055 L 382.907314 -134.3342 L 382.362171 -133.75665 L 381.817029 -133.167603 L 381.271886 -132.567254 L 380.726743 -131.955803 L 380.1816 -131.333447 L 379.636457 -130.700383 L 379.091314 -130.056808 L 378.546171 -129.402919 L 378.001029 -128.738916 L 377.455886 -128.064993 L 376.910743 -127.381351 L 376.3656 -126.688184 L 375.820457 -125.985692 L 375.275314 -125.274071 L 374.730171 -124.55352 L 374.185029 -123.824234 L 373.639886 -123.086413 L 373.094743 -122.340252 L 372.5496 -121.585951 L 372.004457 -120.823705 L 371.459314 -120.053714 L 370.914171 -119.276173 L 370.369029 -118.49128 L 369.823886 -117.699234 L 369.278743 -116.900231 L 368.7336 -116.094468 L 368.188457 -115.282144 L 367.643314 -114.463455 L 367.098171 -113.6386 L 366.553029 -112.807775 L 366.007886 -111.968188 L 365.462743 -111.109505 L 364.9176 -110.231161 L 364.372457 -109.333528 L 363.827314 -108.416975 L 363.282171 -107.481876 L 362.737029 -106.5286 L 362.191886 -105.557519 L 361.646743 -104.569005 L 361.1016 -103.563428 L 360.556457 -102.541161 L 360.011314 -101.502574 L 359.466171 -100.448038 L 358.921029 -99.377926 L 358.375886 -98.292608 L 357.830743 -97.192456 L 357.2856 -96.07784 L 356.740457 -94.949133 L 356.195314 -93.806705 L 355.650171 -92.650928 L 355.105029 -91.482173 L 354.559886 -90.300811 L 354.014743 -89.107181 L 353.4696 -87.890266 L 352.924457 -86.641972 L 352.379314 -85.363654 L 351.834171 -84.056666 L 351.289029 -82.722363 L 350.743886 -81.362099 L 350.198743 -79.977229 L 349.6536 -78.569108 L 349.108457 -77.139091 L 348.563314 -75.688532 L 348.018171 -74.218785 L 347.473029 -72.731206 L 346.927886 -71.227149 L 346.382743 -69.707968 L 345.8376 -68.175019 z" transform="translate(0 288)" style="fill: #ffa500; fill-opacity: 0.2; stroke: #ffa500; stroke-opacity: 0.2"/>
</g>
</g>
<g id="FillBetweenPolyCollection_5">
<g clip-path="url(#peedf209786)">
<path d="M 345.8376 -68.175019 L 345.8376 -68.175019 L 346.382743 -68.196742 L 346.927886 -68.219169 L 347.473029 -68.242296 L 348.018171 -68.266118 L 348.563314 -68.290628 L 349.108457 -68.315822 L 349.6536 -68.341694 L 350.198743 -68.368239 L 350.743886 -68.39545 L 351.289029 -68.423324 L 351.834171 -68.451854 L 352.379314 -68.481034 L 352.924457 -68.510861 L 353.4696 -68.541327 L 354.014743 -68.572428 L 354.559886 -68.604158 L 355.105029 -68.636512 L 355.650171 -68.669485 L 356.195314 -68.70307 L 356.740457 -68.737264 L 357.2856 -68.772059 L 357.830743 -68.807451 L 358.375886 -68.843434 L 358.921029 -68.880012 L 359.466171 -68.917791 L 360.011314 -68.957099 L 360.556457 -68.997884 L 361.1016 -69.040094 L 361.646743 -69.083675 L 362.191886 -69.128575 L 362.737029 -69.174742 L 363.282171 -69.222123 L 363.827314 -69.270665 L 364.372457 -69.320315 L 364.9176 -69.371022 L 365.462743 -69.422732 L 366.007886 -69.475393 L 366.553029 -69.528951 L 367.098171 -69.583356 L 367.643314 -69.638553 L 368.188457 -69.694491 L 368.7336 -69.751116 L 369.278743 -69.808376 L 369.823886 -69.866219 L 370.369029 -69.924592 L 370.914171 -69.983441 L 371.459314 -70.042716 L 372.004457 -70.102362 L 372.5496 -70.162328 L 373.094743 -70.22256 L 373.639886 -70.283006 L 374.185029 -70.343614 L 374.730171 -70.404331 L 375.275314 -70.465104 L 375.820457 -70.525881 L 376.3656 -70.586608 L 376.910743 -70.647234 L 377.455886 -70.707706 L 378.001029 -70.767971 L 378.546171 -70.827976 L 379.091314 -70.887669 L 379.636457 -70.946998 L 380.1816 -71.005909 L 380.726743 -71.06435 L 381.271886 -71.122269 L 381.817029 -71.179612 L 382.362171 -71.236328 L 382.907314 -71.292363 L 383.452457 -71.347665 L 383.9976 -71.402181 L 384.542743 -71.455859 L 385.087886 -71.508646 L 385.633029 -71.56049 L 386.178171 -71.611337 L 386.723314 -71.661136 L 387.268457 -71.710141 L 387.8136 -71.759166 L 388.358743 -71.808254 L 388.903886 -71.857403 L 389.449029 -71.906608 L 389.994171 -71.955866 L 390.539314 -72.005175 L 391.084457 -72.054529 L 391.6296 -72.103926 L 392.174743 -72.153363 L 392.719886 -72.202835 L 393.265029 -72.25234 L 393.810171 -72.301874 L 394.355314 -72.351434 L 394.900457 -72.401015 L 395.4456 -72.450615 L 395.990743 -72.50023 L 396.535886 -72.549856 L 397.081029 -72.599491 L 397.626171 -72.64913 L 398.171314 -72.698771 L 398.716457 -72.748409 L 399.2616 -72.798042 L 399.806743 -72.847665 L 400.351886 -72.897276 L 400.897029 -72.946871 L 401.442171 -72.996446 L 401.987314 -73.045998 L 402.532457 -73.095524 L 403.0776 -73.145019 L 403.622743 -73.194481 L 404.167886 -73.243907 L 404.713029 -73.293291 L 405.258171 -73.342632 L 405.803314 -73.391926 L 406.348457 -73.441169 L 406.8936 -73.490358 L 407.438743 -73.539489 L 407.983886 -73.588558 L 408.529029 -73.637563 L 409.074171 -73.6865 L 409.619314 -73.735366 L 410.164457 -73.784156 L 410.7096 -73.832868 L 411.254743 -73.881498 L 411.799886 -73.930043 L 412.345029 -73.978498 L 412.890171 -74.026861 L 413.435314 -74.075129 L 413.980457 -74.123297 L 414.5256 -74.171362 L 415.070743 -74.219321 L 415.615886 -74.267171 L 416.161029 -74.314907 L 416.706171 -74.362526 L 417.251314 -74.410026 L 417.796457 -74.457402 L 418.3416 -74.50465 L 418.886743 -74.551769 L 419.431886 -74.598753 L 419.977029 -74.6456 L 420.522171 -74.692306 L 421.067314 -74.738868 L 421.612457 -74.785282 L 422.1576 -74.831544 L 422.702743 -74.877652 L 423.247886 -74.923602 L 423.793029 -74.969389 L 424.338171 -75.015012 L 424.883314 -75.060466 L 425.428457 -75.105748 L 425.9736 -75.150855 L 426.518743 -75.195782 L 427.063886 -75.240527 L 427.609029 -75.285086 L 428.154171 -75.329455 L 428.699314 -75.373632 L 429.244457 -75.417612 L 429.7896 -75.461393 L 430.334743 -75.50497 L 430.879886 -75.54834 L 431.425029 -75.5915 L 431.970171 -75.634447 L 432.515314 -75.677176 L 433.060457 -75.719685 L 433.6056 -75.76197 L 434.150743 -75.804027 L 434.695886 -75.845853 L 435.241029 -75.887444 L 435.786171 -75.928798 L 436.331314 -75.96991 L 436.876457 -76.010777 L 437.4216 -76.051396 L 437.966743 -76.091764 L 438.511886 -76.131875 L 439.057029 -76.171729 L 439.602171 -76.211319 L 440.147314 -76.250645 L 440.692457 -76.289701 L 441.2376 -76.328484 L 441.782743 -76.366992 L 442.327886 -76.405219 L 442.873029 -76.443164 L 443.418171 -76.480823 L 443.963314 -76.518191 L 444.508457 -76.555266 L 445.0536 -76.592044 L 445.598743 -76.628522 L 446.143886 -76.664696 L 446.689029 -76.700563 L 447.234171 -76.736118 L 447.779314 -76.77136 L 448.324457 -76.806284 L 448.8696 -76.840887 L 449.414743 -76.875166 L 449.959886 -76.909116 L 450.505029 -76.942734 L 451.050171 -76.976018 L 451.595314 -77.008963 L 452.140457 -77.041567 L 452.6856 -77.073825 L 453.230743 -77.105734 L 453.775886 -77.13729 L 454.321029 -77.168491 L 454.866171 -77.199333 L 455.411314 -77.229812 L 455.956457 -77.259924 L 456.5016 -77.289667 L 457.046743 -77.319037 L 457.591886 -77.348031 L 458.137029 -77.376644 L 458.682171 -77.404874 L 459.227314 -77.432716 L 459.772457 -77.460168 L 460.3176 -77.487227 L 460.862743 -77.513896 L 461.407886 -77.540427 L 461.953029 -77.566939 L 462.498171 -77.593431 L 463.043314 -77.619902 L 463.588457 -77.64635 L 464.1336 -77.672775 L 464.678743 -77.699176 L 465.223886 -77.725551 L 465.769029 -77.751899 L 466.314171 -77.77822 L 466.859314 -77.804512 L 467.404457 -77.830775 L 467.9496 -77.857006 L 468.494743 -77.883206 L 469.039886 -77.909373 L 469.585029 -77.935506 L 470.130171 -77.961603 L 470.675314 -77.987665 L 471.220457 -78.013689 L 471.7656 -78.039676 L 472.310743 -78.065623 L 472.855886 -78.091529 L 473.401029 -78.117394 L 473.946171 -78.143217 L 474.491314 -78.168996 L 475.036457 -78.19473 L 475.5816 -78.220419 L 476.126743 -78.246061 L 476.671886 -78.271656 L 477.217029 -78.297201 L 477.762171 -78.322696 L 478.307314 -78.348141 L 478.852457 -78.373533 L 479.3976 -78.398873 L 479.942743 -78.424158 L 480.487886 -78.449388 L 481.033029 -78.474562 L 481.578171 -78.499678 L 482.123314 -78.524736 L 482.668457 -78.549734 L 483.2136 -78.574672 L 483.758743 -78.599549 L 484.303886 -78.624362 L 484.849029 -78.649112 L 485.394171 -78.673797 L 485.939314 -78.698417 L 486.484457 -78.722969 L 487.0296 -78.747453 L 487.574743 -78.771869 L 488.119886 -78.796214 L 488.665029 -78.820488 L 489.210171 -78.84469 L 489.755314 -78.868819 L 490.300457 -78.892873 L 490.8456 -78.916852 L 491.390743 -78.940755 L 491.935886 -78.964579 L 492.481029 -78.988326 L 493.026171 -79.011992 L 493.571314 -79.035578 L 494.116457 -79.059083 L 494.6616 -79.082504 L 495.206743 -79.105841 L 495.751886 -79.129094 L 496.297029 -79.152261 L 496.842171 -79.17534 L 497.387314 -79.198331 L 497.932457 -79.221233 L 498.4776 -79.244045 L 499.022743 -79.266766 L 499.567886 -79.289394 L 500.113029 -79.311928 L 500.658171 -79.334368 L 501.203314 -79.356713 L 501.748457 -79.378961 L 502.2936 -79.401111 L 502.838743 -79.423163 L 503.383886 -79.445114 L 503.929029 -79.466965 L 504.474171 -79.488714 L 505.019314 -79.51036 L 505.564457 -79.531901 L 506.1096 -79.553338 L 506.654743 -79.574668 L 507.199886 -79.595892 L 507.745029 -79.617006 L 508.290171 -79.638012 L 508.835314 -79.658907 L 509.380457 -79.679691 L 509.9256 -79.700362 L 510.470743 -79.720919 L 511.015886 -79.741362 L 511.561029 -79.761688 L 512.106171 -79.781899 L 512.651314 -79.801991 L 513.196457 -79.821964 L 513.7416 -79.841817 L 514.286743 -79.86155 L 514.831886 -79.88116 L 515.377029 -79.900647 L 515.922171 -79.92001 L 516.467314 -79.939247 L 517.012457 -79.958358 L 517.5576 -79.977342 L 518.102743 -79.996197 L 518.647886 -80.014922 L 519.193029 -80.033517 L 519.738171 -80.051981 L 520.283314 -80.070311 L 520.828457 -80.088508 L 521.3736 -80.10657 L 521.918743 -80.124496 L 522.463886 -80.142285 L 523.009029 -80.159936 L 523.554171 -80.177448 L 524.099314 -80.19482 L 524.644457 -80.21205 L 525.1896 -80.229138 L 525.734743 -80.246083 L 526.279886 -80.262884 L 526.825029 -80.279539 L 527.370171 -80.296047 L 527.915314 -80.312408 L 528.460457 -80.32862 L 529.0056 -80.344682 L 529.550743 -80.360594 L 530.095886 -80.376354 L 530.641029 -80.391961 L 531.186171 -80.407414 L 531.731314 -80.422712 L 532.276457 -80.437853 L 532.8216 -80.452838 L 533.366743 -80.467665 L 533.911886 -80.482332 L 534.457029 -80.496839 L 535.002171 -80.511184 L 535.547314 -80.525367 L 536.092457 -80.539386 L 536.6376 -80.553241 L 537.182743 -80.56693 L 537.727886 -80.580453 L 538.273029 -80.593808 L 538.818171 -80.606993 L 539.363314 -80.620009 L 539.908457 -80.632854 L 540.4536 -80.645528 L 540.998743 -80.658027 L 541.543886 -80.670353 L 542.089029 -80.682504 L 542.634171 -80.694478 L 543.179314 -80.706275 L 543.724457 -80.717894 L 544.2696 -80.729333 L 544.814743 -80.740592 L 545.359886 -80.751669 L 545.905029 -80.762563 L 546.450171 -80.773274 L 546.995314 -80.7838 L 547.540457 -80.79414 L 548.0856 -80.804293 L 548.630743 -80.814259 L 549.175886 -80.824035 L 549.721029 -80.833621 L 550.266171 -80.843016 L 550.811314 -80.852219 L 551.356457 -80.861229 L 551.9016 -80.870044 L 552.446743 -80.878664 L 552.991886 -80.887088 L 553.537029 -80.895314 L 554.082171 -80.903341 L 554.627314 -80.911169 L 555.172457 -80.918796 L 555.7176 -80.926222 L 556.262743 -80.933444 L 556.807886 -80.940463 L 557.353029 -80.947277 L 557.898171 -80.953885 L 558.443314 -80.960286 L 558.988457 -80.966478 L 559.5336 -80.972462 L 560.078743 -80.978235 L 560.623886 -80.983797 L 561.169029 -80.989147 L 561.714171 -80.994283 L 562.259314 -80.999204 L 562.804457 -81.00391 L 563.3496 -81.0084 L 563.3496 -143.916787 L 563.3496 -143.916787 L 562.804457 -143.821813 L 562.259314 -143.726719 L 561.714171 -143.631506 L 561.169029 -143.536172 L 560.623886 -143.440718 L 560.078743 -143.345142 L 559.5336 -143.249445 L 558.988457 -143.153626 L 558.443314 -143.057684 L 557.898171 -142.961619 L 557.353029 -142.86543 L 556.807886 -142.769118 L 556.262743 -142.672681 L 555.7176 -142.576118 L 555.172457 -142.479431 L 554.627314 -142.382617 L 554.082171 -142.285677 L 553.537029 -142.18861 L 552.991886 -142.091415 L 552.446743 -141.994093 L 551.9016 -141.896642 L 551.356457 -141.799062 L 550.811314 -141.701353 L 550.266171 -141.603513 L 549.721029 -141.505543 L 549.175886 -141.407442 L 548.630743 -141.309209 L 548.0856 -141.210845 L 547.540457 -141.112347 L 546.995314 -141.013717 L 546.450171 -140.914952 L 545.905029 -140.816053 L 545.359886 -140.71702 L 544.814743 -140.617851 L 544.2696 -140.518546 L 543.724457 -140.419105 L 543.179314 -140.319527 L 542.634171 -140.219811 L 542.089029 -140.119956 L 541.543886 -140.019963 L 540.998743 -139.919831 L 540.4536 -139.819559 L 539.908457 -139.719146 L 539.363314 -139.618592 L 538.818171 -139.517896 L 538.273029 -139.417058 L 537.727886 -139.316077 L 537.182743 -139.214953 L 536.6376 -139.113684 L 536.092457 -139.01227 L 535.547314 -138.910712 L 535.002171 -138.809007 L 534.457029 -138.707155 L 533.911886 -138.605156 L 533.366743 -138.50301 L 532.8216 -138.400714 L 532.276457 -138.29827 L 531.731314 -138.195675 L 531.186171 -138.09293 L 530.641029 -137.990034 L 530.095886 -137.886986 L 529.550743 -137.783786 L 529.0056 -137.680432 L 528.460457 -137.576924 L 527.915314 -137.473262 L 527.370171 -137.369444 L 526.825029 -137.26547 L 526.279886 -137.16134 L 525.734743 -137.057052 L 525.1896 -136.952606 L 524.644457 -136.848002 L 524.099314 -136.743237 L 523.554171 -136.638313 L 523.009029 -136.533227 L 522.463886 -136.427979 L 521.918743 -136.322569 L 521.3736 -136.216996 L 520.828457 -136.111259 L 520.283314 -136.005356 L 519.738171 -135.899289 L 519.193029 -135.793054 L 518.647886 -135.686653 L 518.102743 -135.580084 L 517.5576 -135.473346 L 517.012457 -135.366438 L 516.467314 -135.25936 L 515.922171 -135.152111 L 515.377029 -135.044689 L 514.831886 -134.937095 L 514.286743 -134.829328 L 513.7416 -134.721385 L 513.196457 -134.613268 L 512.651314 -134.504974 L 512.106171 -134.396503 L 511.561029 -134.287854 L 511.015886 -134.179026 L 510.470743 -134.070019 L 509.9256 -133.96083 L 509.380457 -133.851461 L 508.835314 -133.741909 L 508.290171 -133.632173 L 507.745029 -133.522254 L 507.199886 -133.412149 L 506.654743 -133.301857 L 506.1096 -133.191379 L 505.564457 -133.080713 L 505.019314 -132.969858 L 504.474171 -132.858813 L 503.929029 -132.747576 L 503.383886 -132.636148 L 502.838743 -132.524527 L 502.2936 -132.412712 L 501.748457 -132.300702 L 501.203314 -132.188496 L 500.658171 -132.076093 L 500.113029 -131.963492 L 499.567886 -131.850692 L 499.022743 -131.737691 L 498.4776 -131.62449 L 497.932457 -131.511086 L 497.387314 -131.397478 L 496.842171 -131.283667 L 496.297029 -131.169649 L 495.751886 -131.055425 L 495.206743 -130.940993 L 494.6616 -130.826351 L 494.116457 -130.7115 L 493.571314 -130.596438 L 493.026171 -130.481162 L 492.481029 -130.365674 L 491.935886 -130.24997 L 491.390743 -130.13405 L 490.8456 -130.017913 L 490.300457 -129.901558 L 489.755314 -129.784983 L 489.210171 -129.668186 L 488.665029 -129.551168 L 488.119886 -129.433926 L 487.574743 -129.316459 L 487.0296 -129.198766 L 486.484457 -129.080846 L 485.939314 -128.962696 L 485.394171 -128.844317 L 484.849029 -128.725707 L 484.303886 -128.606863 L 483.758743 -128.487785 L 483.2136 -128.368472 L 482.668457 -128.248922 L 482.123314 -128.129133 L 481.578171 -128.009105 L 481.033029 -127.888835 L 480.487886 -127.768323 L 479.942743 -127.647567 L 479.3976 -127.526564 L 478.852457 -127.405315 L 478.307314 -127.283817 L 477.762171 -127.162068 L 477.217029 -127.040068 L 476.671886 -126.917814 L 476.126743 -126.795306 L 475.5816 -126.672541 L 475.036457 -126.549517 L 474.491314 -126.426234 L 473.946171 -126.30269 L 473.401029 -126.178882 L 472.855886 -126.054809 L 472.310743 -125.93047 L 471.7656 -125.805863 L 471.220457 -125.680985 L 470.675314 -125.555836 L 470.130171 -125.430414 L 469.585029 -125.304716 L 469.039886 -125.17874 L 468.494743 -125.052486 L 467.9496 -124.925951 L 467.404457 -124.799133 L 466.859314 -124.672031 L 466.314171 -124.544641 L 465.769029 -124.416964 L 465.223886 -124.288996 L 464.678743 -124.160735 L 464.1336 -124.03218 L 463.588457 -123.903328 L 463.043314 -123.774178 L 462.498171 -123.644726 L 461.953029 -123.514973 L 461.407886 -123.384914 L 460.862743 -123.254548 L 460.3176 -123.123873 L 459.772457 -122.992886 L 459.227314 -122.861585 L 458.682171 -122.729969 L 458.137029 -122.598034 L 457.591886 -122.465779 L 457.046743 -122.3332 L 456.5016 -122.200297 L 455.956457 -122.067065 L 455.411314 -121.933504 L 454.866171 -121.799609 L 454.321029 -121.66538 L 453.775886 -121.530813 L 453.230743 -121.395905 L 452.6856 -121.260655 L 452.140457 -121.125059 L 451.595314 -120.989115 L 451.050171 -120.852821 L 450.505029 -120.716173 L 449.959886 -120.579168 L 449.414743 -120.441804 L 448.8696 -120.304079 L 448.324457 -120.165988 L 447.779314 -120.02753 L 447.234171 -119.888701 L 446.689029 -119.749498 L 446.143886 -119.609919 L 445.598743 -119.46996 L 445.0536 -119.329618 L 444.508457 -119.18889 L 443.963314 -119.047772 L 443.418171 -118.906262 L 442.873029 -118.764356 L 442.327886 -118.622051 L 441.782743 -118.479344 L 441.2376 -118.33623 L 440.692457 -118.192707 L 440.147314 -118.048771 L 439.602171 -117.904418 L 439.057029 -117.759645 L 438.511886 -117.614448 L 437.966743 -117.468824 L 437.4216 -117.322768 L 436.876457 -117.176276 L 436.331314 -117.029346 L 435.786171 -116.881972 L 435.241029 -116.734151 L 434.695886 -116.585878 L 434.150743 -116.43715 L 433.6056 -116.287962 L 433.060457 -116.138311 L 432.515314 -115.98819 L 431.970171 -115.837597 L 431.425029 -115.686527 L 430.879886 -115.534975 L 430.334743 -115.382936 L 429.7896 -115.230406 L 429.244457 -115.07738 L 428.699314 -114.923853 L 428.154171 -114.76982 L 427.609029 -114.615276 L 427.063886 -114.460217 L 426.518743 -114.304636 L 425.9736 -114.148528 L 425.428457 -113.991889 L 424.883314 -113.834712 L 424.338171 -113.676993 L 423.793029 -113.518725 L 423.247886 -113.359902 L 422.702743 -113.200519 L 422.1576 -113.04057 L 421.612457 -112.880049 L 421.067314 -112.718949 L 420.522171 -112.557265 L 419.977029 -112.394989 L 419.431886 -112.232116 L 418.886743 -112.068638 L 418.3416 -111.904549 L 417.796457 -111.739842 L 417.251314 -111.57451 L 416.706171 -111.408546 L 416.161029 -111.241942 L 415.615886 -111.074691 L 415.070743 -110.906786 L 414.5256 -110.738218 L 413.980457 -110.56898 L 413.435314 -110.399064 L 412.890171 -110.228461 L 412.345029 -110.057163 L 411.799886 -109.885162 L 411.254743 -109.712448 L 410.7096 -109.539013 L 410.164457 -109.364848 L 409.619314 -109.189944 L 409.074171 -109.01429 L 408.529029 -108.837878 L 407.983886 -108.660697 L 407.438743 -108.482737 L 406.8936 -108.303988 L 406.348457 -108.124439 L 405.803314 -107.94408 L 405.258171 -107.762898 L 404.713029 -107.580884 L 404.167886 -107.398025 L 403.622743 -107.21431 L 403.0776 -107.029726 L 402.532457 -106.844261 L 401.987314 -106.657902 L 401.442171 -106.470636 L 400.897029 -106.28245 L 400.351886 -106.093331 L 399.806743 -105.903263 L 399.2616 -105.712232 L 398.716457 -105.520225 L 398.171314 -105.327225 L 397.626171 -105.133217 L 397.081029 -104.938186 L 396.535886 -104.742114 L 395.990743 -104.544986 L 395.4456 -104.346783 L 394.900457 -104.147488 L 394.355314 -103.947083 L 393.810171 -103.745548 L 393.265029 -103.542865 L 392.719886 -103.339015 L 392.174743 -103.133975 L 391.6296 -102.927726 L 391.084457 -102.720245 L 390.539314 -102.51151 L 389.994171 -102.301499 L 389.449029 -102.090188 L 388.903886 -101.877552 L 388.358743 -101.663565 L 387.8136 -101.448202 L 387.268457 -101.231437 L 386.723314 -101.01324 L 386.178171 -100.793584 L 385.633029 -100.572439 L 385.087886 -100.349773 L 384.542743 -100.125556 L 383.9976 -99.899755 L 383.452457 -99.672334 L 382.907314 -99.44326 L 382.362171 -99.212495 L 381.817029 -98.980001 L 381.271886 -98.745739 L 380.726743 -98.509668 L 380.1816 -98.271746 L 379.636457 -98.031927 L 379.091314 -97.790167 L 378.546171 -97.546417 L 378.001029 -97.300627 L 377.455886 -97.052745 L 376.910743 -96.802716 L 376.3656 -96.550485 L 375.820457 -96.295992 L 375.275314 -96.039174 L 374.730171 -95.779967 L 374.185029 -95.518302 L 373.639886 -95.25411 L 373.094743 -94.987314 L 372.5496 -94.717837 L 372.004457 -94.445596 L 371.459314 -94.170504 L 370.914171 -93.892469 L 370.369029 -93.611396 L 369.823886 -93.327182 L 369.278743 -93.039719 L 368.7336 -92.748894 L 368.188457 -92.454585 L 367.643314 -92.156665 L 367.098171 -91.854997 L 366.553029 -91.549436 L 366.007886 -91.239828 L 365.462743 -90.926006 L 364.9176 -90.607795 L 364.372457 -90.285004 L 363.827314 -89.957431 L 363.282171 -89.624855 L 362.737029 -89.287042 L 362.191886 -88.943734 L 361.646743 -88.594655 L 361.1016 -88.239504 L 360.556457 -87.877952 L 360.011314 -87.50964 L 359.466171 -87.134175 L 358.921029 -86.751122 L 358.375886 -86.360003 L 357.830743 -85.960284 L 357.2856 -85.551372 L 356.740457 -85.132604 L 356.195314 -84.703228 L 355.650171 -84.262396 L 355.105029 -83.80914 L 354.559886 -83.342344 L 354.014743 -82.860718 L 353.4696 -82.362752 L 352.924457 -81.846661 L 352.379314 -81.310308 L 351.834171 -80.7511 L 351.289029 -80.165842 L 350.743886 -79.550513 L 350.198743 -78.899937 L 349.6536 -78.207261 L 349.108457 -77.463071 L 348.563314 -76.653811 L 348.018171 -75.758682 L 347.473029 -74.742663 L 346.927886 -73.537478 L 346.382743 -71.96685 L 345.8376 -68.175019 z" transform="translate(0 288)" style="fill: #0000ff; fill-opacity: 0.2; stroke: #0000ff; stroke-opacity: 0.2"/>
</g>
</g>
<g id="matplotlib.axis_3">
<g id="xtick_7">
<g id="line2d_34">
<g>
<path class="tk" d="M 345.96 243.72 L 345.96 247.22" style="stroke: #000000; stroke-width: 0.8"/>
</g>
</g>
<g id="text_12">
<text xml:space="preserve" style="font-size: 10px; font-family: 'DejaVu Sans', 'Liberation Sans', sans-serif; text-anchor: middle" x="345.8376" y="257.756838">0</text>
</g>
</g>
<g id="xtick_8">
<g id="line2d_35">
<g>
<path class="tk" d="M 387 243.72 L 387 247.22" style="stroke: #000000; stroke-width: 0.8"/>
</g>
</g>
<g id="text_13">
<text xml:space="preserve" style="font-size: 10px; font-family: 'DejaVu Sans', 'Liberation Sans', sans-serif; text-anchor: middle" x="386.8776" y="257.756838">1</text>
</g>
</g>
<g id="xtick_9">
<g id="line2d_36">
<g>
<path class="tk" d="M 428.04 243.72 L 428.04 247.22" style="stroke: #000000; stroke-width: 0.8"/>
</g>
</g>
<g id="text_14">
<text xml:space="preserve" style="font-size: 10px; font-family: 'DejaVu Sans', 'Liberation Sans', sans-serif; text-anchor: middle" x="427.9176" y="257.756838">2</text>
</g>
</g>
<g id="xtick_10">
<g id="line2d_37">
<g>
<path class="tk" d="M 469.08 243.72 L 469.08 247.22" style="stroke: #000000; stroke-width: 0.8"/>
</g>
</g>
<g id="text_15">
<text xml:space="preserve" style="font-size: 10px; font-family: 'DejaVu Sans', 'Liberation Sans', sans-serif; text-anchor: middle" x="468.9576" y="257.756838">3</text>
</g>
</g>
<g id="xtick_11">
<g id="line2d_38">
<g>
<path class="tk" d="M 510.12 243.72 L 510.12 247.22" style="stroke: #000000; stroke-width: 0.8"/>
</g>
</g>
<g id="text_16">
<text xml:space="preserve" style="font-size: 10px; font-family: 'DejaVu Sans', 'Liberation Sans', sans-serif; text-anchor: middle" x="509.9976" y="257.756838">4</text>
</g>
</g>
<g id="xtick_12">
<g id="line2d_39">
<g>
<path class="tk" d="M 551.16 243.72 L 551.16 247.22" style="stroke: #000000; stroke-width: 0.8"/>
</g>
</g>
<g id="text_17">
<text xml:space="preserve" style="font-size: 10px; font-family: 'DejaVu Sans', 'Liberation Sans', sans-serif; text-anchor: middle" x="551.0376" y="257.756838">5</text>
</g>
</g>
<g id="text_18">
<g transform="translate(438.0856 274.096525)">
<text xml:space="preserve"><tspan x="0" y="-0.406" style="font-style: oblique; font-size: 10px; font-family: 'DejaVu Sans', 'Liberation Sans', sans-serif">r</tspan><tspan x="4.111" y="-0.406" style="font-size: 10px; font-family: 'DejaVu Sans', 'Liberation Sans', sans-serif"> (kpc)</tspan></text>
</g>
</g>
</g>
<g id="matplotlib.axis_4">
<g id="ytick_26">
<g id="line2d_40">
<g>
<path class="tk" d="M 341.64 219.96 L 338.14 219.96" style="stroke: #000000; stroke-width: 0.8"/>
</g>
</g>
<g id="text_19">
<text xml:space="preserve" style="font-size: 10px; font-family: 'DejaVu Sans', 'Liberation Sans', sans-serif; text-anchor: end" x="334.6856" y="223.624199">0</text>
</g>
</g>
<g id="ytick_27">
<g id="line2d_41">
<g>
<path class="tk" d="M 341.64 173.16 L 338.14 173.16" style="stroke: #000000; stroke-width: 0.8"/>
</g>
</g>
<g id="text_20">
<text xml:space="preserve" style="font-size: 10px; font-family: 'DejaVu Sans', 'Liberation Sans', sans-serif; text-anchor: end" x="334.6856" y="176.957361">20</text>
</g>
</g>
<g id="ytick_28">
<g id="line2d_42">
<g>
<path class="tk" d="M 341.64 127.08 L 338.14 127.08" style="stroke: #000000; stroke-width: 0.8"/>
</g>
</g>
<g id="text_21">
<text xml:space="preserve" style="font-size: 10px; font-family: 'DejaVu Sans', 'Liberation Sans', sans-serif; text-anchor: end" x="334.6856" y="130.290522">40</text>
</g>
</g>
<g id="ytick_29">
<g id="line2d_43">
<g>
<path class="tk" d="M 341.64 80.28 L 338.14 80.28" style="stroke: #000000; stroke-width: 0.8"/>
</g>
</g>
<g id="text_22">
<text xml:space="preserve" style="font-size: 10px; font-family: 'DejaVu Sans', 'Liberation Sans', sans-serif; text-anchor: end" x="334.6856" y="83.623683">60</text>
</g>
</g>
<g id="ytick_30">
<g id="line2d_44">
<g>
<path class="tk" d="M 341.64 33.48 L 338.14 33.48" style="stroke: #000000; stroke-width: 0.8"/>
</g>
</g>
<g id="text_23">
<text xml:space="preserve" style="font-size: 10px; font-family: 'DejaVu Sans', 'Liberation Sans', sans-serif; text-anchor: end" x="334.6856" y="36.956845">80</text>
</g>
</g>
<g id="text_24">
<g transform="translate(315.2806 180.258) rotate(-90)">
<text xml:space="preserve"><tspan x="0" y="-0.406" style="font-style: oblique; font-size: 10px; font-family: 'DejaVu Sans', 'Liberation Sans', sans-serif">v</tspan><tspan x="5.918" y="-0.406" style="font-size: 10px; font-family: 'DejaVu Sans', 'Liberation Sans', sans-serif">(</tspan><tspan x="9.819" y="-0.406" style="font-style: oblique; font-size: 10px; font-family: 'DejaVu Sans', 'Liberation Sans', sans-serif">r</tspan><tspan x="13.931" y="-0.406" style="font-size: 10px; font-family: 'DejaVu Sans', 'Liberation Sans', sans-serif">) (km/s) deproj.</tspan></text>
</g>
</g>
</g>
<g id="line2d_45">
<path d="M 345.8376 219.824981 L 372.5496 219.824981 L 373.094743 218.659839 L 374.730171 207.499911 L 375.820457 203.570814 L 376.910743 200.328137 L 378.001029 197.680937 L 379.091314 195.538257 L 380.726743 192.838627 L 382.362171 190.509069 L 383.9976 188.548725 L 385.633029 186.956738 L 387.268457 185.722339 L 391.6296 182.851897 L 394.900457 180.975172 L 397.626171 179.689904 L 399.806743 178.894672 L 401.987314 178.345505 L 404.167886 178.078371 L 405.803314 178.103084 L 407.438743 178.418576 L 409.074171 179.007149 L 410.7096 179.83498 L 412.890171 181.252475 L 415.070743 182.955012 L 417.796457 185.361885 L 420.522171 188.016957 L 421.612457 189.428508 L 423.247886 192.054564 L 424.883314 195.219531 L 425.9736 197.705156 L 427.063886 200.725524 L 428.154171 204.327663 L 429.244457 208.590545 L 430.879886 219.232806 L 431.425029 219.824981 L 563.3496 219.824981 L 563.3496 219.824981" clip-path="url(#peedf209786)" style="fill: none; stroke: #ff0000; stroke-linecap: square"/>
</g>
<g id="line2d_46">
<path d="M 345.8376 219.824981 L 348.018171 210.491445 L 349.6536 204.057372 L 351.289029 198.466907 L 352.924457 193.576859 L 354.559886 189.537692 L 356.740457 184.926755 L 370.369029 158.809294 L 372.5496 155.44557 L 375.820457 150.817313 L 379.091314 146.569209 L 382.907314 141.992746 L 387.268457 137.116218 L 394.355314 129.583912 L 398.716457 125.264555 L 404.167886 120.198461 L 415.615886 109.979759 L 423.247886 103.434582 L 429.7896 98.122928 L 438.511886 91.333977 L 443.418171 87.793074 L 447.779314 84.936387 L 452.140457 82.350513 L 458.137029 79.073543 L 471.7656 71.735862 L 485.939314 63.865489 L 491.390743 61.125863 L 499.022743 57.554967 L 506.654743 54.236125 L 514.286743 51.174143 L 522.463886 48.126412 L 530.095886 45.513577 L 540.4536 42.258826 L 547.540457 40.213669 L 552.446743 39.005635 L 557.353029 38.035209 L 562.804457 37.19591 L 563.3496 37.124307 L 563.3496 37.124307" clip-path="url(#peedf209786)" style="fill: none; stroke: #ff0000; stroke-linecap: square"/>
</g>
<g id="line2d_47">
<path d="M 345.8376 219.824981 L 348.018171 214.710284 L 350.198743 210.233255 L 352.379314 206.367469 L 354.559886 202.966717 L 356.740457 200.073611 L 358.921029 197.171477 L 360.556457 194.620695 L 362.737029 190.789872 L 370.369029 176.806437 L 375.820457 168.312919 L 380.1816 161.955918 L 383.452457 157.542849 L 386.723314 153.504865 L 391.6296 147.96148 L 396.535886 142.754804 L 401.987314 137.316674 L 407.438743 132.19211 L 413.435314 126.853346 L 420.522171 120.852059 L 429.7896 113.329691 L 436.331314 108.277504 L 443.418171 103.078166 L 451.050171 97.753478 L 459.772457 91.955313 L 467.404457 87.121755 L 479.942743 79.521815 L 485.939314 75.857869 L 489.210171 74.091944 L 493.571314 72.042496 L 499.022743 69.721816 L 505.019314 67.407732 L 512.651314 64.70689 L 520.283314 62.216365 L 527.915314 59.95621 L 535.547314 57.935314 L 544.2696 55.845813 L 551.9016 54.230417 L 558.988457 52.956495 L 563.3496 52.29103 L 563.3496 52.29103" clip-path="url(#peedf209786)" style="fill: none; stroke: #008000; stroke-width: 1.5; stroke-linecap: square"/>
</g>
<g id="line2d_48">
<path d="M 345.8376 219.824981 L 348.018171 213.868888 L 349.6536 209.957367 L 351.289029 206.543294 L 353.4696 202.573681 L 355.105029 200.002082 L 357.830743 196.284149 L 360.556457 192.454318 L 372.5496 174.95171 L 379.091314 166.15102 L 382.907314 161.359845 L 386.178171 157.583734 L 390.539314 152.98519 L 395.990743 147.563569 L 401.442171 142.454967 L 407.438743 137.144234 L 413.980457 131.652411 L 421.612457 125.543863 L 431.425029 117.991095 L 439.602171 111.975355 L 447.234171 106.636112 L 454.321029 101.937628 L 461.407886 97.508414 L 468.494743 93.350389 L 475.5816 89.424048 L 481.578171 86.356501 L 486.484457 84.074398 L 491.935886 81.791279 L 498.4776 79.296323 L 505.564457 76.830052 L 514.831886 73.859576 L 523.554171 71.274159 L 530.641029 69.410982 L 536.6376 68.05918 L 544.814743 66.477792 L 563.3496 63.024403 L 563.3496 63.024403" clip-path="url(#peedf209786)" style="fill: none; stroke-dasharray: 5.55,2.4; stroke-dashoffset: 0; stroke: #008000; stroke-width: 1.5"/>
</g>
<g id="line2d_49">
<path d="M 345.8376 219.824981 L 348.018171 214.710284 L 350.198743 210.233255 L 352.379314 206.367469 L 354.559886 202.957532 L 357.2856 199.218243 L 363.282171 191.229045 L 367.098171 186.244429 L 369.278743 183.713614 L 371.459314 181.521854 L 375.275314 177.99598 L 378.546171 175.242912 L 381.817029 172.783685 L 384.542743 170.989846 L 387.268457 169.452567 L 392.174743 167.00798 L 395.990743 165.355789 L 399.2616 164.182157 L 401.987314 163.414961 L 405.803314 162.62037 L 410.7096 161.75256 L 413.980457 161.376326 L 416.706171 161.258364 L 419.977029 161.369992 L 423.793029 161.756305 L 428.699314 162.516736 L 442.873029 165.091174 L 450.505029 166.794782 L 481.578171 174.184698 L 490.300457 176.131588 L 506.654743 179.461995 L 518.647886 181.676115 L 529.0056 183.35931 L 543.179314 185.417547 L 555.7176 187.01157 L 563.3496 187.858196 L 563.3496 187.858196" clip-path="url(#peedf209786)" style="fill: none; stroke: #ffa500; stroke-width: 1.5; stroke-linecap: square"/>
</g>
<g id="line2d_50">
<path d="M 345.8376 219.824981 L 348.018171 214.990443 L 350.198743 210.720152 L 352.379314 207.001181 L 354.559886 203.670943 L 357.2856 199.988151 L 360.556457 195.521815 L 365.462743 188.169225 L 368.7336 183.508733 L 370.914171 180.787021 L 376.910743 173.823108 L 380.1816 170.385889 L 382.907314 167.872141 L 385.087886 166.160155 L 387.268457 164.76152 L 394.900457 160.390951 L 398.716457 158.48774 L 401.442171 157.339781 L 404.167886 156.420548 L 406.348457 155.88097 L 408.529029 155.541137 L 410.7096 155.42475 L 414.5256 155.534925 L 418.886743 155.889006 L 424.338171 156.580422 L 433.060457 157.968052 L 441.782743 159.477784 L 448.324457 160.927511 L 459.772457 163.766246 L 475.036457 167.430668 L 489.210171 170.766036 L 510.470743 175.328505 L 520.828457 177.325375 L 530.095886 178.890513 L 543.179314 180.881532 L 555.172457 182.48125 L 563.3496 183.424846 L 563.3496 183.424846" clip-path="url(#peedf209786)" style="fill: none; stroke-dasharray: 5.55,2.4; stroke-dashoffset: 0; stroke: #ffa500; stroke-width: 1.5"/>
</g>
<g id="line2d_51">
<path d="M 345.8376 219.824981 L 346.382743 217.028169 L 346.927886 215.869692 L 348.018171 214.231357 L 349.108457 212.974219 L 350.743886 211.434546 L 352.924457 209.740933 L 355.650171 207.959114 L 358.921029 206.123458 L 362.737029 204.252993 L 367.098171 202.358898 L 372.5496 200.247299 L 378.546171 198.160971 L 385.633029 195.929012 L 393.810171 193.588562 L 403.0776 191.16619 L 413.980457 188.555676 L 425.9736 185.915442 L 439.602171 183.14514 L 454.866171 180.272092 L 471.7656 177.317124 L 490.8456 174.210364 L 512.106171 170.980766 L 535.547314 167.651137 L 561.169029 164.239449 L 563.3496 163.958713 L 563.3496 163.958713" clip-path="url(#peedf209786)" style="fill: none; stroke: #0000ff; stroke-width: 1.5; stroke-linecap: square"/>
</g>
<g id="line2d_52">
<path d="M 345.8376 211.658284 L 347.473029 203.892785 L 348.563314 200.19027 L 349.6536 197.239996 L 351.834171 192.240079 L 354.014743 187.962521 L 356.740457 183.225967 L 358.921029 179.863525 L 361.646743 176.194656 L 363.827314 173.341089 L 364.372457 170.600032 L 370.369029 159.502981 L 372.5496 156.183062 L 375.820457 151.61353 L 379.091314 147.424152 L 382.907314 142.916203 L 387.268457 138.117977 L 394.355314 130.712909 L 398.716457 126.471854 L 404.167886 121.503637 L 415.615886 111.490476 L 423.247886 105.082326 L 429.7896 99.888123 L 438.511886 93.255775 L 443.418171 89.802962 L 447.234171 87.355113 L 451.595314 84.83386 L 457.046743 81.949816 L 473.401029 73.480987 L 485.394171 67.093282 L 491.390743 64.177336 L 499.022743 60.678761 L 506.654743 57.432238 L 514.286743 54.442576 L 522.463886 51.472331 L 530.095886 48.931815 L 540.4536 45.775213 L 547.540457 43.79721 L 552.446743 42.635668 L 557.353029 41.711734 L 562.804457 40.924091 L 563.3496 40.857654 L 563.3496 40.857654" clip-path="url(#peedf209786)" style="fill: none; stroke-dasharray: 1.5,2.475; stroke-dashoffset: 0; stroke: #000000; stroke-width: 1.5"/>
</g>
<g id="line2d_53">
<path d="M 345.8376 219.824981 L 367.643314 219.795462 L 368.188457 217.138665 L 368.7336 213.261475 L 369.823886 208.717519 L 370.914171 205.012398 L 372.5496 200.205986 L 374.730171 194.578141 L 377.455886 188.347176 L 383.452457 175.465822 L 385.087886 172.407676 L 386.723314 169.865037 L 389.449029 166.423715 L 392.174743 163.327473 L 394.900457 160.539883 L 397.626171 158.027044 L 400.897029 155.326576 L 404.167886 152.914352 L 407.983886 150.385797 L 412.345029 147.762223 L 416.706171 145.408389 L 420.522171 143.584601 L 424.338171 141.993894 L 428.154171 140.648409 L 433.6056 139.016099 L 439.602171 137.460609 L 446.689029 135.86579 L 456.5016 133.914682 L 478.852457 129.748174 L 485.394171 128.805542 L 491.390743 128.176535 L 502.838743 127.183765 L 508.835314 126.887923 L 514.286743 126.854905 L 521.3736 127.054512 L 530.095886 127.533742 L 543.179314 128.489369 L 550.266171 129.268137 L 558.443314 130.398281 L 563.3496 131.157987 L 563.3496 131.157987" clip-path="url(#peedf209786)" style="fill: none; stroke: #000000; stroke-width: 1.5; stroke-linecap: square"/>
</g>
<g id="line2d_54">
<path d="M 345.8376 219.824981 L 356.740457 219.824981 L 357.2856 218.638261 L 357.830743 214.696145 L 358.375886 211.935046 L 359.466171 208.202767 L 360.556457 205.173089 L 362.737029 200.064568 L 364.9176 195.488089 L 367.098171 191.431236 L 369.278743 187.807156 L 372.004457 183.731487 L 375.275314 179.243467 L 378.546171 175.137687 L 381.817029 171.377891 L 385.087886 167.92782 L 389.449029 163.699974 L 394.355314 159.229726 L 398.171314 156.036491 L 401.442171 153.559181 L 404.713029 151.371246 L 407.438743 149.802899 L 412.345029 147.334178 L 416.706171 145.385589 L 421.067314 143.700246 L 424.883314 142.465573 L 428.699314 141.470682 L 440.147314 138.825843 L 446.143886 137.66898 L 451.050171 136.936352 L 455.411314 136.496806 L 459.227314 136.308765 L 464.678743 136.314726 L 473.946171 136.533016 L 485.394171 137.038821 L 500.113029 137.9237 L 506.1096 138.528595 L 513.7416 139.535892 L 543.179314 143.685677 L 563.3496 146.32471 L 563.3496 146.32471" clip-path="url(#peedf209786)" style="fill: none; stroke: #ffc0cb; stroke-linecap: square"/>
</g>
<g id="line2d_55">
<path d="M 434.16 243.158 L 434.16 26.158" clip-path="url(#peedf209786)" style="fill: none; stroke-dasharray: 1.5,2.475; stroke-dashoffset: 0; stroke: #1f77b4; stroke-width: 1.5"/>
</g>
<g id="line2d_56">
<path d="M 341.28 75.6 L 568.08 75.6" clip-path="url(#peedf209786)" style="fill: none; stroke: #1f77b4; stroke-width: 1.5; stroke-linecap: square"/>
</g>
<g id="patch_8">
<path d="M 341.64 243.72 L 341.64 26.28" style="fill: none; stroke: #000000; stroke-width: 0.8; stroke-linejoin: miter; stroke-linecap: square"/>
</g>
<g id="patch_9">
<path d="M 568.44 243.72 L 568.44 26.28" style="fill: none; stroke: #000000; stroke-width: 0.8; stroke-linejoin: miter; stroke-linecap: square"/>
</g>
<g id="patch_10">
<path d="M 341.64 243.72 L 568.44 243.72" style="fill: none; stroke: #000000; stroke-width: 0.8; stroke-linejoin: miter; stroke-linecap: square"/>
</g>
<g id="patch_11">
<path d="M 341.64 26.28 L 568.44 26.28" style="fill: none; stroke: #000000; stroke-width: 0.8; stroke-linejoin: miter; stroke-linecap: square"/>
</g>
<g id="text_25">
<text xml:space="preserve" style="font-size: 10px; font-family: 'DejaVu Sans', 'Liberation Sans', sans-serif; text-anchor: start" x="454.4856" y="37.00764">V(2.2 Rd) 25 km/s</text>
</g>
<g id="text_26">
<text xml:space="preserve" style="font-size: 10px; font-family: 'DejaVu Sans', 'Liberation Sans', sans-serif; text-anchor: start" x="454.4856" y="47.85768">Vvir 61 [km/s]</text>
</g>
<g id="text_27">
<text xml:space="preserve" style="font-size: 10px; font-family: 'DejaVu Sans', 'Liberation Sans', sans-serif; text-anchor: start" x="454.4856" y="58.70772">Mvir 10.86 [log Msun]</text>
</g>
<g id="text_28">
<text xml:space="preserve" style="font-size: 10px; font-family: 'DejaVu Sans', 'Liberation Sans', sans-serif; text-anchor: start" x="454.4856" y="69.55776">Rvir 81 [kpc]</text>
</g>
<g id="text_29">
<text xml:space="preserve" style="font-size: 10px; font-family: 'DejaVu Sans', 'Liberation Sans', sans-serif; text-anchor: start" x="454.4856" y="80.4078">Mdisk 8.33 [log Msun]</text>
</g>
<g id="text_30">
<text xml:space="preserve" style="font-size: 10px; font-family: 'DejaVu Sans', 'Liberation Sans', sans-serif; text-anchor: middle" x="453.0456" y="20.1576">Mdyn(Re) = 8.00  Mdyn(2Re) = 8.73</text>
</g>
</g>
<g id="axes_3">
<g id="patch_12">
<path d="M 626.4 243.1584 L 853.2 243.1584 L 853.2 26.1576 L 626.4 26.1576 z" style="fill: #ffffff"/>
</g>
<g id="FillBetweenPolyCollection_6">
<g clip-path="url(#p30cc441393)">
<path d="M 631.152 -44.8416 L 631.152 -44.8416 L 631.728 -44.8416 L 632.304 -44.8416 L 632.88 -44.8416 L 633.456 -44.8416 L 634.032 -44.8416 L 634.608 -44.8416 L 635.184 -44.8416 L 635.76 -44.8416 L 636.336 -44.8416 L 636.912 -44.8416 L 637.488 -44.8416 L 638.064 -44.8416 L 638.64 -44.8416 L 639.216 -44.8416 L 639.792 -44.8416 L 640.368 -44.8416 L 640.944 -44.8416 L 641.52 -44.8416 L 642.096 -44.8416 L 642.672 -44.8416 L 643.248 -44.8416 L 643.824 -44.8416 L 644.4 -44.8416 L 644.976 -44.8416 L 645.552 -44.8416 L 646.128 -44.8416 L 646.704 -44.8416 L 647.28 -44.8416 L 647.856 -44.8416 L 648.432 -44.8416 L 649.008 -44.8416 L 649.584 -44.8416 L 650.16 -44.8416 L 650.736 -44.8416 L 651.312 -44.8416 L 651.888 -44.8416 L 652.464 -44.8416 L 653.04 -44.8416 L 653.616 -44.8416 L 654.192 -44.8416 L 654.768 -44.8416 L 655.344 -44.8416 L 655.92 -44.8416 L 656.496 -44.8416 L 657.072 -44.8416 L 657.648 -44.8416 L 658.224 -44.8416 L 658.8 -44.8416 L 659.376 -44.905009 L 659.952 -45.320556 L 660.528 -46.071207 L 661.104 -47.095402 L 661.68 -48.331581 L 662.256 -49.718186 L 662.832 -51.193656 L 663.408 -52.696433 L 663.984 -54.164957 L 664.56 -55.537668 L 665.136 -56.753008 L 665.712 -57.840712 L 666.288 -58.9259 L 666.864 -60.009412 L 667.44 -61.089958 L 668.016 -62.166248 L 668.592 -63.236992 L 669.168 -64.3009 L 669.744 -65.356682 L 670.32 -66.403048 L 670.896 -67.438708 L 671.472 -68.462372 L 672.048 -69.472749 L 672.624 -70.468551 L 673.2 -71.448486 L 673.776 -72.411265 L 674.352 -73.356422 L 674.928 -74.287585 L 675.504 -75.205855 L 676.08 -76.111816 L 676.656 -77.006057 L 677.232 -77.889161 L 677.808 -78.761715 L 678.384 -79.624304 L 678.96 -80.477515 L 679.536 -81.321933 L 680.112 -82.158144 L 680.688 -82.986733 L 681.264 -83.808287 L 681.84 -84.623392 L 682.416 -85.434764 L 682.992 -86.249164 L 683.568 -87.065274 L 684.144 -87.881104 L 684.72 -88.694667 L 685.296 -89.503974 L 685.872 -90.307036 L 686.448 -91.101864 L 687.024 -91.886469 L 687.6 -92.658864 L 688.176 -93.417059 L 688.752 -94.159065 L 689.328 -94.882895 L 689.904 -95.586559 L 690.48 -96.268068 L 691.056 -96.925435 L 691.632 -97.55667 L 692.208 -98.164223 L 692.784 -98.767982 L 693.36 -99.368793 L 693.936 -99.964527 L 694.512 -100.553053 L 695.088 -101.132242 L 695.664 -101.699964 L 696.24 -102.254089 L 696.816 -102.792487 L 697.392 -103.313029 L 697.968 -103.813584 L 698.544 -104.292023 L 699.12 -104.746216 L 699.696 -105.174033 L 700.272 -105.573344 L 700.848 -105.942019 L 701.424 -106.277929 L 702 -106.58299 L 702.576 -106.884479 L 703.152 -107.185069 L 703.728 -107.481321 L 704.304 -107.769794 L 704.88 -108.047051 L 705.456 -108.309653 L 706.032 -108.554161 L 706.608 -108.777136 L 707.184 -108.97514 L 707.76 -109.144733 L 708.336 -109.282476 L 708.912 -109.384932 L 709.488 -109.44866 L 710.064 -109.47688 L 710.64 -109.499673 L 711.216 -109.521154 L 711.792 -109.541312 L 712.368 -109.560138 L 712.944 -109.577621 L 713.52 -109.593752 L 714.096 -109.60852 L 714.672 -109.621915 L 715.248 -109.633927 L 715.824 -109.644546 L 716.4 -109.653763 L 716.976 -109.661566 L 717.552 -109.667946 L 718.128 -109.672894 L 718.704 -109.676398 L 719.28 -109.678449 L 719.856 -109.679044 L 720.432 -109.679043 L 721.008 -109.679042 L 721.584 -109.679038 L 722.16 -109.679032 L 722.736 -109.67902 L 723.312 -109.679004 L 723.888 -109.678981 L 724.464 -109.67895 L 725.04 -109.678911 L 725.616 -109.678863 L 726.192 -109.678804 L 726.768 -109.678733 L 727.344 -109.678649 L 727.92 -109.678552 L 728.496 -109.678439 L 729.072 -109.678311 L 729.648 -109.678166 L 730.224 -109.678003 L 730.8 -109.67782 L 731.376 -109.677618 L 731.952 -109.677395 L 732.528 -109.677149 L 733.104 -109.67688 L 733.68 -109.676586 L 734.256 -109.676268 L 734.832 -109.675922 L 735.408 -109.67555 L 735.984 -109.675149 L 736.56 -109.674718 L 737.136 -109.674256 L 737.712 -109.673763 L 738.288 -109.673237 L 738.864 -109.672677 L 739.44 -109.672083 L 740.016 -109.671452 L 740.592 -109.670785 L 741.168 -109.670079 L 741.744 -109.669334 L 742.32 -109.66855 L 742.896 -109.667724 L 743.472 -109.666856 L 744.048 -109.665944 L 744.624 -109.664988 L 745.2 -109.663987 L 745.776 -109.662939 L 746.352 -109.661844 L 746.928 -109.660701 L 747.504 -109.659507 L 748.08 -109.658263 L 748.656 -109.656968 L 749.232 -109.655619 L 749.808 -109.654217 L 750.384 -109.65276 L 750.96 -109.651246 L 751.536 -109.649676 L 752.112 -109.648048 L 752.688 -109.646361 L 753.264 -109.644614 L 753.84 -109.642805 L 754.416 -109.640934 L 754.992 -109.639 L 755.568 -109.637002 L 756.144 -109.634938 L 756.72 -109.632807 L 757.296 -109.630609 L 757.872 -109.628343 L 758.448 -109.626007 L 759.024 -109.6236 L 759.6 -109.621122 L 760.176 -109.61857 L 760.752 -109.615945 L 761.328 -109.613245 L 761.904 -109.610469 L 762.48 -109.607616 L 763.056 -109.604685 L 763.632 -109.601675 L 764.208 -109.598585 L 764.784 -109.595413 L 765.36 -109.59216 L 765.936 -109.588823 L 766.512 -109.585401 L 767.088 -109.581894 L 767.664 -109.578301 L 768.24 -109.57462 L 768.816 -109.570851 L 769.392 -109.566992 L 769.968 -109.563042 L 770.544 -109.559 L 771.12 -109.554866 L 771.696 -109.550638 L 772.272 -109.546315 L 772.848 -109.541896 L 773.424 -109.53738 L 774 -109.532766 L 774.576 -109.528052 L 775.152 -109.523239 L 775.728 -109.518324 L 776.304 -109.513307 L 776.88 -109.508187 L 777.456 -109.502963 L 778.032 -109.497632 L 778.608 -109.492196 L 779.184 -109.486652 L 779.76 -109.480999 L 780.336 -109.475237 L 780.912 -109.469364 L 781.488 -109.463379 L 782.064 -109.457281 L 782.64 -109.45107 L 783.216 -109.444744 L 783.792 -109.438301 L 784.368 -109.431742 L 784.944 -109.425064 L 785.52 -109.418268 L 786.096 -109.411351 L 786.672 -109.404313 L 787.248 -109.397153 L 787.824 -109.389869 L 788.4 -109.382461 L 788.976 -109.374927 L 789.552 -109.367267 L 790.128 -109.35948 L 790.704 -109.351564 L 791.28 -109.343518 L 791.856 -109.335341 L 792.432 -109.327033 L 793.008 -109.318592 L 793.584 -109.310017 L 794.16 -109.301307 L 794.736 -109.292461 L 795.312 -109.283478 L 795.888 -109.274357 L 796.464 -109.265097 L 797.04 -109.255696 L 797.616 -109.246155 L 798.192 -109.236471 L 798.768 -109.226643 L 799.344 -109.216671 L 799.92 -109.206554 L 800.496 -109.196291 L 801.072 -109.185879 L 801.648 -109.175319 L 802.224 -109.16461 L 802.8 -109.153749 L 803.376 -109.142737 L 803.952 -109.131572 L 804.528 -109.120254 L 805.104 -109.10878 L 805.68 -109.09715 L 806.256 -109.085363 L 806.832 -109.073418 L 807.408 -109.061314 L 807.984 -109.04905 L 808.56 -109.036624 L 809.136 -109.024036 L 809.712 -109.011285 L 810.288 -108.99837 L 810.864 -108.985288 L 811.44 -108.972041 L 812.016 -108.958625 L 812.592 -108.945042 L 813.168 -108.931288 L 813.744 -108.917364 L 814.32 -108.903268 L 814.896 -108.888999 L 815.472 -108.874556 L 816.048 -108.859938 L 816.624 -108.845144 L 817.2 -108.830173 L 817.776 -108.815024 L 818.352 -108.799696 L 818.928 -108.784187 L 819.504 -108.768498 L 820.08 -108.752626 L 820.656 -108.73657 L 821.232 -108.72033 L 821.808 -108.703905 L 822.384 -108.687293 L 822.96 -108.670494 L 823.536 -108.653506 L 824.112 -108.636328 L 824.688 -108.618959 L 825.264 -108.601399 L 825.84 -108.583645 L 826.416 -108.565698 L 826.992 -108.547556 L 827.568 -108.529218 L 828.144 -108.510683 L 828.72 -108.491949 L 829.296 -108.473017 L 829.872 -108.453884 L 830.448 -108.43455 L 831.024 -108.415013 L 831.6 -108.395273 L 832.176 -108.375329 L 832.752 -108.355179 L 833.328 -108.334823 L 833.904 -108.314259 L 834.48 -108.293486 L 835.056 -108.272504 L 835.632 -108.251311 L 836.208 -108.229906 L 836.784 -108.208288 L 837.36 -108.186457 L 837.936 -108.16441 L 838.512 -108.142147 L 839.088 -108.119667 L 839.664 -108.096969 L 840.24 -108.074052 L 840.816 -108.050915 L 841.392 -108.027556 L 841.968 -108.003975 L 842.544 -107.98017 L 843.12 -107.956141 L 843.696 -107.931887 L 844.272 -107.907406 L 844.848 -107.882697 L 845.424 -107.85776 L 846 -107.832593 L 846.576 -107.807195 L 847.152 -107.781565 L 847.728 -107.755702 L 848.304 -107.729606 L 848.88 -107.703274 L 849.456 -107.676707 L 850.032 -107.649902 L 850.608 -107.622859 L 851.184 -107.595577 L 851.76 -107.568055 L 852.336 -107.540291 L 852.912 -107.512285 L 853.488 -107.484036 L 854.064 -107.455542 L 854.64 -107.426802 L 855.216 -107.397816 L 855.792 -107.368583 L 856.368 -107.3391 L 856.944 -107.309368 L 857.52 -107.279385 L 858.096 -107.249151 L 858.672 -107.218663 L 859.248 -107.187921 L 859.824 -107.156925 L 860.4 -107.125672 L 860.976 -107.094162 L 860.976 -294.713476 L 860.976 -294.713476 L 860.4 -294.712393 L 859.824 -294.709151 L 859.248 -294.703763 L 858.672 -294.696242 L 858.096 -294.686601 L 857.52 -294.674851 L 856.944 -294.661007 L 856.368 -294.64508 L 855.792 -294.627083 L 855.216 -294.607029 L 854.64 -294.584931 L 854.064 -294.5608 L 853.488 -294.534651 L 852.912 -294.506495 L 852.336 -294.476345 L 851.76 -294.444214 L 851.184 -294.410115 L 850.608 -294.374059 L 850.032 -294.336061 L 849.456 -294.296132 L 848.88 -294.254285 L 848.304 -294.210533 L 847.728 -294.164888 L 847.152 -294.117364 L 846.576 -294.067972 L 846 -294.016726 L 845.424 -293.963638 L 844.848 -293.908721 L 844.272 -293.851987 L 843.696 -293.79345 L 843.12 -293.733121 L 842.544 -293.671014 L 841.968 -293.607141 L 841.392 -293.541514 L 840.816 -293.474147 L 840.24 -293.405053 L 839.664 -293.334243 L 839.088 -293.26173 L 838.512 -293.187528 L 837.936 -293.111648 L 837.36 -293.034104 L 836.784 -292.954908 L 836.208 -292.874073 L 835.632 -292.791611 L 835.056 -292.707536 L 834.48 -292.621859 L 833.904 -292.534593 L 833.328 -292.445752 L 832.752 -292.355348 L 832.176 -292.263393 L 831.6 -292.1699 L 831.024 -292.074882 L 830.448 -291.978351 L 829.872 -291.88032 L 829.296 -291.780802 L 828.72 -291.67981 L 828.144 -291.577356 L 827.568 -291.473452 L 826.992 -291.368112 L 826.416 -291.261348 L 825.84 -291.153173 L 825.264 -291.043599 L 824.688 -290.93264 L 824.112 -290.820307 L 823.536 -290.706613 L 822.96 -290.591572 L 822.384 -290.475195 L 821.808 -290.357496 L 821.232 -290.238487 L 820.656 -290.118181 L 820.08 -289.99659 L 819.504 -289.873727 L 818.928 -289.749605 L 818.352 -289.624236 L 817.776 -289.497634 L 817.2 -289.36981 L 816.624 -289.240778 L 816.048 -289.110549 L 815.472 -288.979138 L 814.896 -288.846556 L 814.32 -288.712816 L 813.744 -288.57793 L 813.168 -288.441912 L 812.592 -288.304774 L 812.016 -288.166529 L 811.44 -288.02719 L 810.864 -287.886768 L 810.288 -287.745277 L 809.712 -287.60273 L 809.136 -287.459138 L 808.56 -287.314515 L 807.984 -287.168874 L 807.408 -287.022227 L 806.832 -286.874586 L 806.256 -286.725965 L 805.68 -286.576376 L 805.104 -286.425832 L 804.528 -286.274345 L 803.952 -286.121928 L 803.376 -285.968594 L 802.8 -285.814355 L 802.224 -285.659224 L 801.648 -285.503214 L 801.072 -285.346337 L 800.496 -285.188607 L 799.92 -285.030035 L 799.344 -284.870634 L 798.768 -284.710418 L 798.192 -284.549398 L 797.616 -284.387588 L 797.04 -284.224999 L 796.464 -284.061646 L 795.888 -283.897539 L 795.312 -283.732693 L 794.736 -283.567119 L 794.16 -283.400831 L 793.584 -283.233841 L 793.008 -283.066162 L 792.432 -282.897806 L 791.856 -282.728785 L 791.28 -282.559114 L 790.704 -282.388804 L 790.128 -282.217868 L 789.552 -282.046319 L 788.976 -281.874169 L 788.4 -281.701431 L 787.824 -281.528118 L 787.248 -281.354242 L 786.672 -281.179816 L 786.096 -281.004853 L 785.52 -280.829365 L 784.944 -280.653365 L 784.368 -280.476866 L 783.792 -280.29988 L 783.216 -280.12242 L 782.64 -279.944499 L 782.064 -279.766129 L 781.488 -279.587324 L 780.912 -279.408094 L 780.336 -279.228455 L 779.76 -279.048417 L 779.184 -278.867994 L 778.608 -278.687198 L 778.032 -278.506042 L 777.456 -278.324539 L 776.88 -278.142701 L 776.304 -277.960542 L 775.728 -277.778072 L 775.152 -277.595307 L 774.576 -277.411729 L 774 -277.221877 L 773.424 -277.024422 L 772.848 -276.819513 L 772.272 -276.607297 L 771.696 -276.387922 L 771.12 -276.161535 L 770.544 -275.928284 L 769.968 -275.688317 L 769.392 -275.441781 L 768.816 -275.188824 L 768.24 -274.929593 L 767.664 -274.664237 L 767.088 -274.392903 L 766.512 -274.115738 L 765.936 -273.83289 L 765.36 -273.544508 L 764.784 -273.250737 L 764.208 -272.951728 L 763.632 -272.647625 L 763.056 -272.338579 L 762.48 -272.024736 L 761.904 -271.706243 L 761.328 -271.383249 L 760.752 -271.055901 L 760.176 -270.724347 L 759.6 -270.388735 L 759.024 -270.049211 L 758.448 -269.705924 L 757.872 -269.359022 L 757.296 -269.008652 L 756.72 -268.654962 L 756.144 -268.298099 L 755.568 -267.938211 L 754.992 -267.575446 L 754.416 -267.209951 L 753.84 -266.841874 L 753.264 -266.471363 L 752.688 -266.098565 L 752.112 -265.723629 L 751.536 -265.346701 L 750.96 -264.967929 L 750.384 -264.587461 L 749.808 -264.205445 L 749.232 -263.822028 L 748.656 -263.437359 L 748.08 -263.051584 L 747.504 -262.664851 L 746.928 -262.277308 L 746.352 -261.888935 L 745.776 -261.494933 L 745.2 -261.093146 L 744.624 -260.683716 L 744.048 -260.266787 L 743.472 -259.842499 L 742.896 -259.410996 L 742.32 -258.972419 L 741.744 -258.526912 L 741.168 -258.074615 L 740.592 -257.615672 L 740.016 -257.150225 L 739.44 -256.678417 L 738.864 -256.200388 L 738.288 -255.716283 L 737.712 -255.226242 L 737.136 -254.730409 L 736.56 -254.228925 L 735.984 -253.721934 L 735.408 -253.209576 L 734.832 -252.691995 L 734.256 -252.169333 L 733.68 -251.641732 L 733.104 -251.109335 L 732.528 -250.572283 L 731.952 -250.030719 L 731.376 -249.484786 L 730.8 -248.934625 L 730.224 -248.379725 L 729.648 -247.814906 L 729.072 -247.239288 L 728.496 -246.653195 L 727.92 -246.056952 L 727.344 -245.450887 L 726.768 -244.835323 L 726.192 -244.210586 L 725.616 -243.577002 L 725.04 -242.934897 L 724.464 -242.284595 L 723.888 -241.626422 L 723.312 -240.960704 L 722.736 -240.287766 L 722.16 -239.607933 L 721.584 -238.921531 L 721.008 -238.228885 L 720.432 -237.530322 L 719.856 -236.826165 L 719.28 -236.116965 L 718.704 -235.403086 L 718.128 -234.683082 L 717.552 -233.955373 L 716.976 -233.218378 L 716.4 -232.470516 L 715.824 -231.710206 L 715.248 -230.935867 L 714.672 -230.145919 L 714.096 -229.338781 L 713.52 -228.512871 L 712.944 -227.666609 L 712.368 -226.798414 L 711.792 -225.906706 L 711.216 -224.98487 L 710.64 -224.025764 L 710.064 -223.032462 L 709.488 -222.008173 L 708.912 -220.956109 L 708.336 -219.879481 L 707.76 -218.781501 L 707.184 -217.665381 L 706.608 -216.534331 L 706.032 -215.391563 L 705.456 -214.240288 L 704.88 -213.083718 L 704.304 -211.925063 L 703.728 -210.767537 L 703.152 -209.614348 L 702.576 -208.46871 L 702 -207.333834 L 701.424 -206.213326 L 700.848 -205.108394 L 700.272 -204.012948 L 699.696 -202.9203 L 699.12 -201.823762 L 698.544 -200.716645 L 697.968 -199.592262 L 697.392 -198.443923 L 696.816 -197.264941 L 696.24 -196.048628 L 695.664 -194.788295 L 695.088 -193.473329 L 694.512 -192.091367 L 693.936 -190.651639 L 693.36 -189.164887 L 692.784 -187.64185 L 692.208 -186.093269 L 691.632 -184.529885 L 691.056 -182.962437 L 690.48 -181.401667 L 689.904 -179.858314 L 689.328 -178.328749 L 688.752 -176.795347 L 688.176 -175.257731 L 687.6 -173.71573 L 687.024 -172.169176 L 686.448 -170.617901 L 685.872 -169.061733 L 685.296 -167.500505 L 684.72 -165.934047 L 684.144 -164.362189 L 683.568 -162.784763 L 682.992 -161.2016 L 682.416 -159.612529 L 681.84 -158.016729 L 681.264 -156.407121 L 680.688 -154.783849 L 680.112 -153.149502 L 679.536 -151.506668 L 678.96 -149.857936 L 678.384 -148.205895 L 677.808 -146.553133 L 677.232 -144.902239 L 676.656 -143.255802 L 676.08 -141.616411 L 675.504 -139.986653 L 674.928 -138.369119 L 674.352 -136.766208 L 673.776 -135.171523 L 673.2 -133.58113 L 672.624 -131.995418 L 672.048 -130.414778 L 671.472 -128.839598 L 670.896 -127.270269 L 670.32 -125.707179 L 669.744 -124.15072 L 669.168 -122.60128 L 668.592 -121.05925 L 668.016 -119.525018 L 667.44 -117.998975 L 666.864 -116.482499 L 666.288 -114.981221 L 665.712 -113.49395 L 665.136 -112.018265 L 664.56 -110.551749 L 663.984 -109.091983 L 663.408 -107.636547 L 662.832 -106.183022 L 662.256 -104.72899 L 661.68 -103.27203 L 661.104 -101.809726 L 660.528 -100.339657 L 659.952 -98.859404 L 659.376 -97.366548 L 658.8 -95.855842 L 658.224 -94.307634 L 657.648 -92.725176 L 657.072 -91.116472 L 656.496 -89.489526 L 655.92 -87.852341 L 655.344 -86.212922 L 654.768 -84.579272 L 654.192 -82.959394 L 653.616 -81.361293 L 653.04 -79.792972 L 652.464 -78.262436 L 651.888 -76.777687 L 651.312 -75.34673 L 650.736 -73.977568 L 650.16 -72.677701 L 649.584 -71.417884 L 649.008 -70.178623 L 648.432 -68.96172 L 647.856 -67.768982 L 647.28 -66.602212 L 646.704 -65.463214 L 646.128 -64.353795 L 645.552 -63.275757 L 644.976 -62.230907 L 644.4 -61.221047 L 643.824 -60.247983 L 643.248 -59.313519 L 642.672 -58.419461 L 642.096 -57.566666 L 641.52 -56.733948 L 640.944 -55.912784 L 640.368 -55.10433 L 639.792 -54.309744 L 639.216 -53.530182 L 638.64 -52.7668 L 638.064 -52.020756 L 637.488 -51.293206 L 636.912 -50.585307 L 636.336 -49.898215 L 635.76 -49.233088 L 635.184 -48.591082 L 634.608 -47.973354 L 634.032 -47.381061 L 633.456 -46.815359 L 632.88 -46.277405 L 632.304 -45.768356 L 631.728 -45.289369 L 631.152 -44.8416 z" transform="translate(0 288)" style="fill: #808080; fill-opacity: 0.5; stroke: #808080; stroke-opacity: 0.5"/>
</g>
</g>
<g id="matplotlib.axis_5">
<g id="xtick_13">
<g id="line2d_57">
<g>
<path class="tk" d="M 631.8 243.72 L 631.8 247.22" style="stroke: #000000; stroke-width: 0.8"/>
</g>
</g>
<g id="text_31">
<text xml:space="preserve" style="font-size: 10px; font-family: 'DejaVu Sans', 'Liberation Sans', sans-serif; text-anchor: middle" x="631.152" y="257.756838">0</text>
</g>
</g>
<g id="xtick_14">
<g id="line2d_58">
<g>
<path class="tk" d="M 672.84 243.72 L 672.84 247.22" style="stroke: #000000; stroke-width: 0.8"/>
</g>
</g>
<g id="text_32">
<text xml:space="preserve" style="font-size: 10px; font-family: 'DejaVu Sans', 'Liberation Sans', sans-serif; text-anchor: middle" x="672.192" y="257.756838">1</text>
</g>
</g>
<g id="xtick_15">
<g id="line2d_59">
<g>
<path class="tk" d="M 713.88 243.72 L 713.88 247.22" style="stroke: #000000; stroke-width: 0.8"/>
</g>
</g>
<g id="text_33">
<text xml:space="preserve" style="font-size: 10px; font-family: 'DejaVu Sans', 'Liberation Sans', sans-serif; text-anchor: middle" x="713.232" y="257.756838">2</text>
</g>
</g>
<g id="xtick_16">
<g id="line2d_60">
<g>
<path class="tk" d="M 754.92 243.72 L 754.92 247.22" style="stroke: #000000; stroke-width: 0.8"/>
</g>
</g>
<g id="text_34">
<text xml:space="preserve" style="font-size: 10px; font-family: 'DejaVu Sans', 'Liberation Sans', sans-serif; text-anchor: middle" x="754.272" y="257.756838">3</text>
</g>
</g>
<g id="xtick_17">
<g id="line2d_61">
<g>
<path class="tk" d="M 795.96 243.72 L 795.96 247.22" style="stroke: #000000; stroke-width: 0.8"/>
</g>
</g>
<g id="text_35">
<text xml:space="preserve" style="font-size: 10px; font-family: 'DejaVu Sans', 'Liberation Sans', sans-serif; text-anchor: middle" x="795.312" y="257.756838">4</text>
</g>
</g>
<g id="xtick_18">
<g id="line2d_62">
<g>
<path class="tk" d="M 837 243.72 L 837 247.22" style="stroke: #000000; stroke-width: 0.8"/>
</g>
</g>
<g id="text_36">
<text xml:space="preserve" style="font-size: 10px; font-family: 'DejaVu Sans', 'Liberation Sans', sans-serif; text-anchor: middle" x="836.352" y="257.756838">5</text>
</g>
</g>
<g id="text_37">
<g transform="translate(723.4 274.096525)">
<text xml:space="preserve"><tspan x="0" y="-0.406" style="font-style: oblique; font-size: 10px; font-family: 'DejaVu Sans', 'Liberation Sans', sans-serif">r</tspan><tspan x="4.111" y="-0.406" style="font-size: 10px; font-family: 'DejaVu Sans', 'Liberation Sans', sans-serif"> (kpc)</tspan></text>
</g>
</g>
</g>
<g id="matplotlib.axis_6">
<g id="ytick_31">
<g id="line2d_63">
<g>
<path class="tk" d="M 626.76 243.72 L 623.26 243.72" style="stroke: #000000; stroke-width: 0.8"/>
</g>
</g>
<g id="text_38">
<text xml:space="preserve" style="font-size: 10px; font-family: 'DejaVu Sans', 'Liberation Sans', sans-serif; text-anchor: end" x="620.4" y="246.957619">0</text>
</g>
</g>
<g id="ytick_32">
<g id="line2d_64">
<g>
<path class="tk" d="M 626.76 200.52 L 623.26 200.52" style="stroke: #000000; stroke-width: 0.8"/>
</g>
</g>
<g id="text_39">
<text xml:space="preserve" style="font-size: 10px; font-family: 'DejaVu Sans', 'Liberation Sans', sans-serif; text-anchor: end" x="620.4" y="203.876261">10</text>
</g>
</g>
<g id="ytick_33">
<g id="line2d_65">
<g>
<path class="tk" d="M 626.76 157.32 L 623.26 157.32" style="stroke: #000000; stroke-width: 0.8"/>
</g>
</g>
<g id="text_40">
<text xml:space="preserve" style="font-size: 10px; font-family: 'DejaVu Sans', 'Liberation Sans', sans-serif; text-anchor: end" x="620.4" y="160.794903">20</text>
</g>
</g>
<g id="ytick_34">
<g id="line2d_66">
<g>
<path class="tk" d="M 626.76 114.12 L 623.26 114.12" style="stroke: #000000; stroke-width: 0.8"/>
</g>
</g>
<g id="text_41">
<text xml:space="preserve" style="font-size: 10px; font-family: 'DejaVu Sans', 'Liberation Sans', sans-serif; text-anchor: end" x="620.4" y="117.713545">30</text>
</g>
</g>
<g id="ytick_35">
<g id="line2d_67">
<g>
<path class="tk" d="M 626.76 70.92 L 623.26 70.92" style="stroke: #000000; stroke-width: 0.8"/>
</g>
</g>
<g id="text_42">
<text xml:space="preserve" style="font-size: 10px; font-family: 'DejaVu Sans', 'Liberation Sans', sans-serif; text-anchor: end" x="620.4" y="74.632187">40</text>
</g>
</g>
<g id="ytick_36">
<g id="line2d_68">
<g>
<path class="tk" d="M 626.76 28.44 L 623.26 28.44" style="stroke: #000000; stroke-width: 0.8"/>
</g>
</g>
<g id="text_43">
<text xml:space="preserve" style="font-size: 10px; font-family: 'DejaVu Sans', 'Liberation Sans', sans-serif; text-anchor: end" x="620.4" y="31.550829">50</text>
</g>
</g>
<g id="text_44">
<g transform="translate(600.135 195.208) rotate(-90)">
<text xml:space="preserve"><tspan x="0" y="-0.406" style="font-style: oblique; font-size: 10px; font-family: 'DejaVu Sans', 'Liberation Sans', sans-serif">j</tspan><tspan x="2.778" y="-0.406" style="font-size: 10px; font-family: 'DejaVu Sans', 'Liberation Sans', sans-serif">(</tspan><tspan x="8.628" y="-0.406" style="font-size: 10px; font-family: 'DejaVu Sans', 'Liberation Sans', sans-serif">&lt;</tspan><tspan x="18.955" y="-0.406" style="font-style: oblique; font-size: 10px; font-family: 'DejaVu Sans', 'Liberation Sans', sans-serif">r</tspan><tspan x="23.066" y="-0.406" style="font-size: 10px; font-family: 'DejaVu Sans', 'Liberation Sans', sans-serif">) (km/s kpc) deproj.</tspan></text>
</g>
</g>
</g>
<g id="line2d_69">
<path d="M 720 243.158 L 720 26.158" clip-path="url(#p30cc441393)" style="fill: none; stroke-dasharray: 1.5,2.475; stroke-dashoffset: 0; stroke: #1f77b4; stroke-width: 1.5"/>
</g>
<g id="line2d_70">
<path d="M 631.152 243.1584 L 635.76 243.030775 L 638.64 242.796097 L 640.368 242.433801 L 642.096 241.912847 L 643.248 241.372532 L 644.4 240.508995 L 645.552 239.391207 L 647.28 237.393901 L 650.16 233.706055 L 651.888 231.051185 L 654.192 226.969218 L 657.648 220.2103 L 659.952 215.401335 L 662.256 210.001234 L 668.592 194.716208 L 670.32 191.104929 L 672.624 186.796369 L 676.08 180.906206 L 681.264 172.183288 L 683.568 167.880792 L 691.056 153.204072 L 693.36 149.553425 L 696.24 145.406037 L 699.696 140.843175 L 704.304 135.163672 L 711.792 126.253077 L 715.824 121.787319 L 719.28 118.285138 L 723.312 114.592058 L 726.768 111.724287 L 729.648 109.60619 L 735.408 105.778664 L 738.288 104.141896 L 740.592 103.076154 L 743.472 102.055514 L 748.08 100.638491 L 752.688 99.461314 L 756.72 98.642583 L 760.752 98.034051 L 767.664 97.309826 L 775.152 96.740628 L 783.792 96.324879 L 797.616 95.878982 L 806.832 95.820156 L 860.976 95.820156 L 860.976 95.820156" clip-path="url(#p30cc441393)" style="fill: none; stroke: #000000; stroke-width: 1.5; stroke-linecap: square"/>
</g>
<g id="line2d_71">
<path d="M 631.152 243.1584 L 659.376 243.094991 L 659.952 242.679444 L 660.528 241.928793 L 661.68 239.668419 L 665.712 230.159288 L 671.472 219.537628 L 674.352 214.643578 L 677.808 209.238285 L 681.84 203.376608 L 688.176 194.582941 L 690.48 191.731932 L 692.784 189.232018 L 696.24 185.745911 L 698.544 183.707977 L 700.272 182.426656 L 702 181.41701 L 705.456 179.690347 L 707.184 179.02486 L 708.912 178.615068 L 710.64 178.500327 L 718.128 178.327106 L 736.56 178.325282 L 773.424 178.46262 L 798.768 178.773357 L 820.08 179.247374 L 839.664 179.903031 L 857.52 180.720615 L 860.976 180.905838 L 860.976 180.905838" clip-path="url(#p30cc441393)" style="fill: none; stroke: #ff0000; stroke-linecap: square"/>
</g>
<g id="line2d_72">
<path d="M 631.152 243.1584 L 632.88 241.722595 L 634.608 240.026646 L 636.912 237.414693 L 639.216 234.469818 L 642.096 230.433334 L 643.824 227.752017 L 646.128 223.646205 L 648.432 219.03828 L 650.736 214.022432 L 652.464 209.737564 L 655.344 201.787078 L 659.376 190.633452 L 672.624 156.004582 L 677.808 141.446867 L 683.568 125.215237 L 690.48 106.598333 L 694.512 95.908633 L 696.24 91.951372 L 698.544 87.283355 L 705.456 73.759712 L 708.912 67.043891 L 711.216 63.01513 L 713.52 59.487129 L 716.4 55.529484 L 720.432 50.469678 L 724.464 45.715405 L 727.92 41.943048 L 731.376 38.515214 L 735.984 34.278066 L 740.016 30.849775 L 744.048 27.733213 L 748.08 24.948416 L 755.568 20.061789 L 760.752 16.944099 L 764.784 14.749263 L 768.816 12.811176 L 772.272 11.392703 L 775.728 10.221928 L 789.552 5.953681 L 799.92 2.969965 L 809.136 0.540862 L 815.563443 -1 L 815.563443 -1" clip-path="url(#p30cc441393)" style="fill: none; stroke: #ff0000; stroke-linecap: square"/>
</g>
<g id="line2d_73">
<path d="M 626.4 95.76 L 853.2 95.76" clip-path="url(#p30cc441393)" style="fill: none; stroke: #0000ff; stroke-width: 1.5; stroke-linecap: square"/>
</g>
<g id="line2d_74">
<path d="M 626.4 62.64 L 853.2 62.64" clip-path="url(#p30cc441393)" style="fill: none; stroke-dasharray: 5.55,2.4; stroke-dashoffset: 0; stroke: #ff0000; stroke-width: 1.5"/>
</g>
<g id="patch_13">
<path d="M 626.76 243.72 L 626.76 26.28" style="fill: none; stroke: #000000; stroke-width: 0.8; stroke-linejoin: miter; stroke-linecap: square"/>
</g>
<g id="patch_14">
<path d="M 853.56 243.72 L 853.56 26.28" style="fill: none; stroke: #000000; stroke-width: 0.8; stroke-linejoin: miter; stroke-linecap: square"/>
</g>
<g id="patch_15">
<path d="M 626.76 243.72 L 853.56 243.72" style="fill: none; stroke: #000000; stroke-width: 0.8; stroke-linejoin: miter; stroke-linecap: square"/>
</g>
<g id="patch_16">
<path d="M 626.76 26.28 L 853.56 26.28" style="fill: none; stroke: #000000; stroke-width: 0.8; stroke-linejoin: miter; stroke-linecap: square"/>
</g>
<g id="text_45">
<g transform="translate(686.22 20.1576)">
<text xml:space="preserve"><tspan x="0" y="-0.406" style="font-style: oblique; font-size: 10px; font-family: 'DejaVu Sans', 'Liberation Sans', sans-serif">j</tspan><tspan x="2.778" y="1.234" style="font-style: oblique; font-size: 7px; font-family: 'DejaVu Sans', 'Liberation Sans', sans-serif">tot</tspan><tspan x="14.772" y="-0.406" style="font-size: 10px; font-family: 'DejaVu Sans', 'Liberation Sans', sans-serif">=</tspan><tspan x="25.099" y="-0.406" style="font-size: 10px; font-family: 'DejaVu Sans', 'Liberation Sans', sans-serif">34 (0.81 x RF12)</tspan></text>
</g>
</g>
</g>
<g id="patch_17">
<path d="M 205.472 31.464 L 275.344 31.464 Q 277.344 31.464 277.344 33.464 L 277.344 62.296 Q 277.344 64.296 275.344 64.296 L 205.472 64.296 Q 203.472 64.296 203.472 62.296 L 203.472 33.464 Q 203.472 31.464 205.472 31.464 z" style="fill: #ffffff; stroke: #cccccc; stroke-linejoin: miter; fill-opacity: 0.8; stroke-opacity: 0.8"/>
</g>
<g id="patch_18">
<path d="M 361.316 84.672 L 560.8888 84.672 Q 562.8888 84.672 562.8888 86.672 L 562.8888 236.608 Q 562.8888 238.608 560.8888 238.608 L 361.316 238.608 Q 359.316 238.608 359.316 236.608 L 359.316 86.672 Q 359.316 84.672 361.316 84.672 z" style="fill: #ffffff; stroke: #cccccc; stroke-linejoin: miter; fill-opacity: 0.8; stroke-opacity: 0.8"/>
</g>
<g id="patch_19">
<path d="M 651.872 151.92 L 846.2032 151.92 Q 848.2032 151.92 848.2032 153.92 L 848.2032 236.608 Q 848.2032 238.608 846.2032 238.608 L 651.872 238.608 Q 649.872 238.608 649.872 236.608 L 649.872 153.92 Q 649.872 151.92 651.872 151.92 z" style="fill: #ffffff; stroke: #cccccc; stroke-linejoin: miter; fill-opacity: 0.8; stroke-opacity: 0.8"/>
</g>
<g id="patch_20">
<path d="M 207.72 36.36 L 227.88 36.36 L 227.88 43.56 L 207.72 43.56 z" style="fill: #808080; stroke: #808080; stroke-linejoin: miter; fill-opacity: 0.5; stroke-opacity: 0.5"/>
</g>
<g id="line2d_75">
<path d="M 207.472 54.72 L 227.472 54.72" style="fill: none; stroke-dasharray: 1.5,2.475; stroke-dashoffset: 0; stroke: #1f77b4; stroke-width: 1.5"/>
</g>
<g id="patch_21">
<path d="M 363.96 88.92 L 383.4 88.92 L 383.4 96.12 L 363.96 96.12 z" style="fill: #808080; stroke: #808080; stroke-linejoin: miter; fill-opacity: 0.5; stroke-opacity: 0.5"/>
</g>
<g id="line2d_76">
<path d="M 363.6 108.72 L 383.04 108.72" style="fill: none; stroke: #008000; stroke-width: 1.5; stroke-linecap: square"/>
</g>
<g id="line2d_77">
<path d="M 363.6 126.72 L 383.04 126.72" style="fill: none; stroke: #ffa500; stroke-width: 1.5; stroke-linecap: square"/>
</g>
<g id="line2d_78">
<path d="M 363.6 144 L 383.04 144" style="fill: none; stroke: #0000ff; stroke-width: 1.5; stroke-linecap: square"/>
</g>
<g id="line2d_79">
<path d="M 363.316 162 L 383.316 162" style="fill: none; stroke-dasharray: 1.5,2.475; stroke-dashoffset: 0; stroke: #000000; stroke-width: 1.5"/>
</g>
<g id="line2d_80">
<path d="M 363.6 180.72 L 383.04 180.72" style="fill: none; stroke: #000000; stroke-width: 1.5; stroke-linecap: square"/>
</g>
<g id="line2d_81">
<path d="M 363.96 198.36 L 383.4 198.36" style="fill: none; stroke: #ffc0cb; stroke-linecap: square"/>
</g>
<g id="line2d_82">
<path d="M 363.316 213.12 L 383.316 213.12" style="fill: none; stroke-dasharray: 1.5,2.475; stroke-dashoffset: 0; stroke: #1f77b4; stroke-width: 1.5"/>
</g>
<g id="line2d_83">
<path d="M 363.6 228.24 L 383.04 228.24" style="fill: none; stroke: #1f77b4; stroke-width: 1.5; stroke-linecap: square"/>
</g>
<g id="line2d_84">
<path d="M 653.872 159.84 L 673.872 159.84" style="fill: none; stroke-dasharray: 1.5,2.475; stroke-dashoffset: 0; stroke: #1f77b4; stroke-width: 1.5"/>
</g>
<g id="line2d_85">
<path d="M 653.76 176.4 L 673.92 176.4" style="fill: none; stroke: #000000; stroke-width: 1.5; stroke-linecap: square"/>
</g>
<g id="patch_22">
<path d="M 654.12 189.72 L 674.28 189.72 L 674.28 196.2 L 654.12 196.2 z" style="fill: #808080; stroke: #808080; stroke-linejoin: miter; fill-opacity: 0.5; stroke-opacity: 0.5"/>
</g>
<g id="line2d_86">
<path d="M 653.76 208.8 L 673.92 208.8" style="fill: none; stroke: #0000ff; stroke-width: 1.5; stroke-linecap: square"/>
</g>
<g id="line2d_87">
<path d="M 653.872 226.8 L 673.872 226.8" style="fill: none; stroke-dasharray: 5.55,2.4; stroke-dashoffset: 0; stroke: #ff0000; stroke-width: 1.5"/>
</g>
<g id="text_46">
<text xml:space="preserve" style="font-size: 10px; font-family: 'DejaVu Sans', 'Liberation Sans', sans-serif; text-anchor: start" x="235.472" y="43.128">CL 95%</text>
</g>
<g id="text_47">
<text xml:space="preserve" style="font-size: 10px; font-family: 'DejaVu Sans', 'Liberation Sans', sans-serif; text-anchor: start" x="235.184" y="58.032">2 Rhalf</text>
</g>
<g id="text_48">
<text xml:space="preserve" style="font-size: 10px; font-family: 'DejaVu Sans', 'Liberation Sans', sans-serif; text-anchor: start" x="392.036" y="95.688">CL 95%</text>
</g>
<g id="text_49">
<g transform="translate(392.036 112.176)">
<text xml:space="preserve"><tspan x="0" y="-0.406" style="font-style: oblique; font-size: 10px; font-family: 'DejaVu Sans', 'Liberation Sans', sans-serif">v</tspan><tspan x="5.918" y="1.234" style="font-style: oblique; font-size: 7px; font-family: 'DejaVu Sans', 'Liberation Sans', sans-serif">DM</tspan><tspan x="17.621" y="-0.406" style="font-size: 10px; font-family: 'DejaVu Sans', 'Liberation Sans', sans-serif">(</tspan><tspan x="21.522" y="-0.406" style="font-style: oblique; font-size: 10px; font-family: 'DejaVu Sans', 'Liberation Sans', sans-serif">r</tspan><tspan x="25.634" y="-0.406" style="font-size: 10px; font-family: 'DejaVu Sans', 'Liberation Sans', sans-serif">) DC14</tspan></text>
</g>
</g>
<g id="text_50">
<g transform="translate(392.036 130.176)">
<text xml:space="preserve"><tspan x="0" y="-0.406" style="font-style: oblique; font-size: 10px; font-family: 'DejaVu Sans', 'Liberation Sans', sans-serif">v</tspan><tspan x="5.918" y="1.234" style="font-style: oblique; font-size: 7px; font-family: 'DejaVu Sans', 'Liberation Sans', sans-serif">d</tspan><tspan x="10.635" y="-0.406" style="font-size: 10px; font-family: 'DejaVu Sans', 'Liberation Sans', sans-serif">(</tspan><tspan x="14.536" y="-0.406" style="font-style: oblique; font-size: 10px; font-family: 'DejaVu Sans', 'Liberation Sans', sans-serif">r</tspan><tspan x="18.647" y="-0.406" style="font-size: 10px; font-family: 'DejaVu Sans', 'Liberation Sans', sans-serif">) MGE</tspan></text>
</g>
</g>
<g id="text_51">
<g transform="translate(392.036 147.528)">
<text xml:space="preserve"><tspan x="0" y="-0.406" style="font-style: oblique; font-size: 10px; font-family: 'DejaVu Sans', 'Liberation Sans', sans-serif">v</tspan><tspan x="5.918" y="1.234" style="font-style: oblique; font-size: 7px; font-family: 'DejaVu Sans', 'Liberation Sans', sans-serif">g</tspan><tspan x="10.635" y="-0.406" style="font-size: 10px; font-family: 'DejaVu Sans', 'Liberation Sans', sans-serif">(</tspan><tspan x="14.536" y="-0.406" style="font-style: oblique; font-size: 10px; font-family: 'DejaVu Sans', 'Liberation Sans', sans-serif">r</tspan><tspan x="18.647" y="-0.406" style="font-size: 10px; font-family: 'DejaVu Sans', 'Liberation Sans', sans-serif">) sgas</tspan></text>
</g>
</g>
<g id="text_52">
<g transform="translate(392.036 165.816)">
<text xml:space="preserve"><tspan x="0" y="-0.406" style="font-style: oblique; font-size: 10px; font-family: 'DejaVu Sans', 'Liberation Sans', sans-serif">v</tspan><tspan x="5.918" y="1.234" style="font-style: oblique; font-size: 7px; font-family: 'DejaVu Sans', 'Liberation Sans', sans-serif">c</tspan><tspan x="10.04" y="-0.406" style="font-size: 10px; font-family: 'DejaVu Sans', 'Liberation Sans', sans-serif">(</tspan><tspan x="13.941" y="-0.406" style="font-style: oblique; font-size: 10px; font-family: 'DejaVu Sans', 'Liberation Sans', sans-serif">r</tspan><tspan x="18.053" y="-0.406" style="font-size: 10px; font-family: 'DejaVu Sans', 'Liberation Sans', sans-serif">) without ADC (DalcantonFull)</tspan></text>
</g>
</g>
<g id="text_53">
<g transform="translate(392.036 184.176)">
<text xml:space="preserve"><tspan x="0" y="-0.406" style="font-style: oblique; font-size: 10px; font-family: 'DejaVu Sans', 'Liberation Sans', sans-serif">v</tspan><tspan x="5.918" y="-0.406" style="font-size: 10px; font-family: 'DejaVu Sans', 'Liberation Sans', sans-serif">(</tspan><tspan x="9.819" y="-0.406" style="font-style: oblique; font-size: 10px; font-family: 'DejaVu Sans', 'Liberation Sans', sans-serif">r</tspan><tspan x="13.931" y="-0.406" style="font-size: 10px; font-family: 'DejaVu Sans', 'Liberation Sans', sans-serif">) DC14MGEsgasnone</tspan></text>
</g>
</g>
<g id="text_54">
<g transform="translate(392.036 201.816)">
<text xml:space="preserve"><tspan x="0" y="-0.406" style="font-style: oblique; font-size: 10px; font-family: 'DejaVu Sans', 'Liberation Sans', sans-serif">v</tspan><tspan x="5.918" y="-0.406" style="font-size: 10px; font-family: 'DejaVu Sans', 'Liberation Sans', sans-serif">(</tspan><tspan x="9.819" y="-0.406" style="font-style: oblique; font-size: 10px; font-family: 'DejaVu Sans', 'Liberation Sans', sans-serif">r</tspan><tspan x="13.931" y="-0.406" style="font-size: 10px; font-family: 'DejaVu Sans', 'Liberation Sans', sans-serif">) 50\%</tspan></text>
</g>
</g>
<g id="text_55">
<text xml:space="preserve" style="font-size: 10px; font-family: 'DejaVu Sans', 'Liberation Sans', sans-serif; text-anchor: start" x="392.036" y="216.576">2 Rhalf</text>
</g>
<g id="text_56">
<text xml:space="preserve" style="font-size: 10px; font-family: 'DejaVu Sans', 'Liberation Sans', sans-serif; text-anchor: start" x="392.036" y="231.552">Vvir</text>
</g>
<g id="text_57">
<text xml:space="preserve" style="font-size: 10px; font-family: 'DejaVu Sans', 'Liberation Sans', sans-serif; text-anchor: start" x="681.872" y="163.008">2 Rhalf</text>
</g>
<g id="text_58">
<g transform="translate(683.024 180.072)">
<text xml:space="preserve"><tspan x="0" y="-0.406" style="font-style: oblique; font-size: 10px; font-family: 'DejaVu Sans', 'Liberation Sans', sans-serif">j</tspan><tspan x="2.778" y="-0.406" style="font-size: 10px; font-family: 'DejaVu Sans', 'Liberation Sans', sans-serif">(</tspan><tspan x="8.628" y="-0.406" style="font-size: 10px; font-family: 'DejaVu Sans', 'Liberation Sans', sans-serif">&lt;</tspan><tspan x="18.955" y="-0.406" style="font-style: oblique; font-size: 10px; font-family: 'DejaVu Sans', 'Liberation Sans', sans-serif">r</tspan><tspan x="23.066" y="-0.406" style="font-size: 10px; font-family: 'DejaVu Sans', 'Liberation Sans', sans-serif">) sersic DC14MGEsgasnone</tspan></text>
</g>
</g>
<g id="text_59">
<text xml:space="preserve" style="font-size: 10px; font-family: 'DejaVu Sans', 'Liberation Sans', sans-serif; text-anchor: start" x="681.872" y="196.524">CL 95\%</text>
</g>
<g id="text_60">
<g transform="translate(683.744 212.976)">
<text xml:space="preserve"><tspan x="0" y="-0.406" style="font-style: oblique; font-size: 10px; font-family: 'DejaVu Sans', 'Liberation Sans', sans-serif">j</tspan><tspan x="2.778" y="1.234" style="font-style: oblique; font-size: 7px; font-family: 'DejaVu Sans', 'Liberation Sans', sans-serif">max</tspan><tspan x="18.303" y="-0.406" style="font-size: 10px; font-family: 'DejaVu Sans', 'Liberation Sans', sans-serif"> (3</tspan><tspan x="31.245" y="-0.406" style="font-size: 10px; font-family: 'DejaVu Sans', 'Liberation Sans', sans-serif">D)</tspan></text>
</g>
</g>
<g id="text_61">
<g transform="translate(683.744 230.976)">
<text xml:space="preserve"><tspan x="0" y="-0.406" style="font-style: oblique; font-size: 10px; font-family: 'DejaVu Sans', 'Liberation Sans', sans-serif">j</tspan><tspan x="2.778" y="1.234" style="font-style: oblique; font-size: 7px; font-family: 'DejaVu Sans', 'Liberation Sans', sans-serif">max</tspan><tspan x="18.303" y="-0.406" style="font-size: 10px; font-family: 'DejaVu Sans', 'Liberation Sans', sans-serif"> (RF12)</tspan></text>
</g>
</g>
</g>
<defs>
<clipPath id="p1a67daafeb">
<rect x="55.7712" y="26.1576" width="226.8" height="217.0008"/>
</clipPath>
<clipPath id="peedf209786">
<rect x="341.0856" y="26.1576" width="226.8" height="217.0008"/>
</clipPath>
<clipPath id="p30cc441393">
<rect x="626.4" y="26.1576" width="226.8" height="217.0008"/>
</clipPath>
</defs>
</svg>

</body></html>
